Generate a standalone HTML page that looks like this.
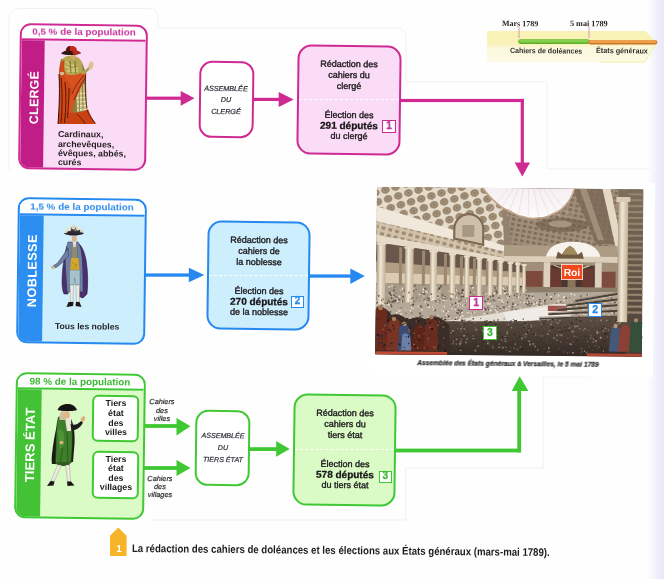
<!DOCTYPE html>
<html><head><meta charset="utf-8">
<style>
*{margin:0;padding:0;box-sizing:border-box}
html,body{width:664px;height:579px;overflow:hidden;background:#fefefe}
body{position:relative;font-family:"Liberation Sans",sans-serif;color:#262324}
.a{position:absolute}
#w{position:absolute;left:0;top:0;width:664px;height:579px;filter:blur(0.35px)}
</style></head><body><div id="w">
<div class="a" style="left:648px;top:0;width:16px;height:579px;background:linear-gradient(90deg,rgba(236,236,248,0),#eeeef9 60%,#e9e9f7)"></div>
<svg class="a" style="left:0;top:0" width="664" height="579"><g fill="none" stroke="#f0f0f6" stroke-width="1">
<path d="M9,170 L9,18 Q9,8.5 19,8.5 L148,8.5 Q158,8.5 158,18 L158,28"/>
<path d="M158,28 L396,28 Q406,28 406,38 L406,81.7 L547,81.7 L547,169 L650,169"/>
<path d="M543,376 L543,468 L405.7,468 L405.7,520 L150,520"/>
<path d="M543,377 L653,376.5 L653,181"/>
</g></svg>
<svg class="a" style="left:0;top:0" width="664" height="70">
  <defs><linearGradient id="yb" x1="0" y1="0" x2="0" y2="1"><stop offset="0" stop-color="#f9f2b4"/><stop offset=".4" stop-color="#f9f2b8"/><stop offset=".55" stop-color="#fbf8dc"/><stop offset="1" stop-color="#fcfae6"/></linearGradient></defs>
  <polygon points="487,31 645.5,31 656.5,42.5 645,62 487,62" fill="url(#yb)"/>
  <polyline points="656.5,42.5 645,62 600,62" fill="none" stroke="#eef0a0" stroke-width="1"/>
  <line x1="520.5" y1="41.6" x2="587.5" y2="41.6" stroke="#5fae2e" stroke-width="4.6" stroke-linecap="round"/>
  <line x1="520.5" y1="41" x2="587.5" y2="41" stroke="#86d04c" stroke-width="3" stroke-linecap="round"/>
  <line x1="590.5" y1="42.2" x2="655" y2="42.2" stroke="#c8782a" stroke-width="4.6" stroke-linecap="round"/>
  <line x1="590.5" y1="41.6" x2="655" y2="41.6" stroke="#eca04c" stroke-width="3" stroke-linecap="round"/>
  <line x1="519" y1="27" x2="519" y2="38" stroke="#cf8fb4" stroke-width="0.9"/>
  <line x1="589" y1="27" x2="589" y2="38" stroke="#cf8fb4" stroke-width="0.9"/>
</svg>
<div class="a" style="top:19.90px;font-size:8px;line-height:8px;font-weight:bold;font-style:normal;color:#2a2420;font-family:'Liberation Serif',serif;white-space:nowrap;left:501.60px;transform:rotate(0.55deg);transform-origin:0 0;">Mars 1789</div>
<div class="a" style="top:19.73px;font-size:8.2px;line-height:8.2px;font-weight:bold;font-style:normal;color:#2a2420;font-family:'Liberation Serif',serif;white-space:nowrap;left:570.00px;transform:rotate(0.55deg);transform-origin:0 0;">5 mai 1789</div>
<div class="a" style="top:47.27px;font-size:7.6px;line-height:7.6px;font-weight:bold;font-style:normal;color:#333030;font-family:'Liberation Sans',sans-serif;white-space:nowrap;left:510.00px;transform:rotate(0.55deg) scaleX(0.926);transform-origin:0 0;">Cahiers de doléances</div>
<div class="a" style="top:47.27px;font-size:7.6px;line-height:7.6px;font-weight:bold;font-style:normal;color:#333030;font-family:'Liberation Sans',sans-serif;white-space:nowrap;left:596.30px;transform:rotate(0.55deg) scaleX(0.954);transform-origin:0 0;">États généraux</div>
<svg class="a" style="left:0;top:0" width="664" height="579">
  <g fill="#cf2a92">
    <rect x="146" y="96.6" width="36" height="3.2"/>
    <polygon points="180.7,91 194.5,98.2 180.7,105.8"/>
    <rect x="252" y="97.8" width="28" height="3.2"/>
    <polygon points="278.7,92 293.7,99.4 278.7,107"/>
    <rect x="399" y="98.9" width="125" height="3.2"/>
    <rect x="520.7" y="98.9" width="3.2" height="65"/>
    <polygon points="514.7,162.4 530,162.4 522.3,176.5"/>
  </g>
  <g fill="#2689f0">
    <rect x="144" y="273.4" width="46" height="3.3"/>
    <polygon points="188.8,267.8 204.3,275 188.8,282.3"/>
    <rect x="308" y="274.4" width="43" height="3.3"/>
    <polygon points="350.3,268.5 364.8,276 350.3,284"/>
  </g>
  <g fill="#40c834">
    <rect x="137" y="424.1" width="41" height="3.8"/>
    <polygon points="176.5,418 190.5,426.2 176.5,435.4"/>
    <rect x="137" y="466.1" width="41" height="3.8"/>
    <polygon points="176.5,460 190.5,468 176.5,476"/>
    <rect x="248" y="447.2" width="29" height="3.8"/>
    <polygon points="276.2,441 289.7,449 276.2,456.7"/>
    <rect x="394" y="448.6" width="127" height="3.8"/>
    <rect x="517.3" y="389" width="3.8" height="63.4"/>
    <polygon points="511.7,391 528.4,391 519.6,376.3"/>
  </g>
</svg>
<div class="a" style="left:19.4px;top:24px;width:128px;height:146px;border:2px solid #cf2a92;border-radius:11px;overflow:hidden;background:#fbdcf7;transform:rotate(0.75deg)">
 <div class="a" style="left:0;top:0;width:124px;height:15px;background:#fff;border-bottom:2px solid #cf2a92"></div>
 <div class="a" style="left:0;top:15px;width:23px;height:129px;background:#c01e86"></div>
</div>
<div class="a" style="top:27.22px;font-size:9.9px;line-height:9.9px;font-weight:bold;font-style:normal;color:#c8309c;font-family:'Liberation Sans',sans-serif;white-space:nowrap;left:-66.20px;width:300px;text-align:center;transform:rotate(0.55deg);transform-origin:150px 0;">0,5 % de la population</div>
<div class="a" style="left:27.90px;top:124.40px;font-size:12.4px;line-height:12.4px;font-weight:bold;color:#fff;white-space:nowrap;transform:rotate(-89.25deg);transform-origin:0 0;letter-spacing:0.25px;">CLERGÉ</div>
<svg class="a" style="left:55px;top:44px" width="46" height="85" viewBox="0 0 46 85">
 <!-- base robe silhouette (lace colored) -->
 <path d="M6,15 C4,22 4,32 4.5,44 C4.5,56 4,68 3,80 L41,80 C38,76 34,71 32,64 C31,52 31.5,40 30.5,30 C29.5,23 27,17 23,14 Z" fill="#8a7c40"/>
 <!-- lace highlights right side lower -->
 <path d="M21,42 L30,40 C30.5,50 31,58 31.5,66 L22,68 Z" fill="#c8bc7a"/>
 <path d="M21.5,50 L30.5,49 M21.5,54 L31,53.5 M22,58 L31,57.5 M22,62 L31.3,61.5 M22,66 L31.5,65.5" stroke="#f4eed0" stroke-width="1.2"/>
 <path d="M24,42 L24.5,67 M27.5,41 L28,66" stroke="#5a5020" stroke-width="0.6"/>
 <!-- upper body olive lace -->
 <path d="M7,16 C9,12 14,11 18,12 C22,12 25,14 26.5,18 C28,22 28,26 27,30 C21,32 12,32 7,30 C5,25 5,20 7,16 Z" fill="#b4a852"/>
 <path d="M11,17 C13,20 16,22 19,21 M10,22 C14,25 19,26 23,24 M12,27 L23,27" stroke="#e8de9c" stroke-width="1" fill="none"/>
 <path d="M15,17 L16,29 M20,17 L20.5,29" stroke="#5a5020" stroke-width="0.7" fill="none"/>
 <!-- red cape left side from shoulder down -->
 <path d="M7,17 C4,21 3.5,30 4.5,42 C4.5,56 4,68 3,80 L14,80 C15,70 16,60 17,50 C18,42 14,34 10,28 C9,24 9,20 9.5,16 Z" fill="#d04818"/>
 <!-- red sash crossing from right hip down-left -->
 <path d="M9,30 C15,32 22,31 28,28 C31,27 32,29 31,32 C28,40 24,48 20,56 C18,62 17,68 16,74 L12,74 C13,64 15,54 17,46 C15,40 12,35 9,32 Z" fill="#d85220"/>
 <!-- bottom hem -->
 <path d="M3,70 C10,68 20,69 26,68 C30,67 32,66 33,65 C35,71 38,76 41,80 L3,80 Z" fill="#c94214"/>
 <!-- dark folds -->
 <path d="M6,34 C7.5,48 7.5,62 6,79 M10,38 C11.5,52 11,64 9.5,79 M14,44 C14,56 13,66 12.5,74" stroke="#5a1808" stroke-width="1" fill="none"/>
 <path d="M17,50 C19,44 23,38 29,31 M19,56 C22,48 26,40 31,33" stroke="#6a1e0a" stroke-width="0.8" fill="none"/>
 <path d="M22,70 C25,73 28,76 30,80 M32,66 C34,71 37,75 40,79" stroke="#5a1808" stroke-width="0.9" fill="none"/>
 <path d="M4,30 C5,50 4,66 3,80" stroke="#3a1206" stroke-width="1" fill="none"/>
 <path d="M30.5,31 C30,44 30.5,56 32,64" stroke="#3a1206" stroke-width="0.8" fill="none"/>
 <!-- left hand -->
 <ellipse cx="7" cy="29.5" rx="2.3" ry="1.8" fill="#d8be8e"/>
 <!-- raised arm & hand -->
 <path d="M26,27 C29.5,27 32,25 34,22 L36,23 C34,27 30.5,30 27,30.5 Z" fill="#aea256"/>
 <path d="M33.5,24 C33.5,21 34,19 35,18 C36,17 36.8,17.6 36.8,19 L37.8,17.5 C38.8,17.5 38.8,19 38.2,21 C38,24 37,25.5 35,25.5 Z" fill="#e0c08e"/>
 <!-- face -->
 <ellipse cx="18.3" cy="12" rx="2.6" ry="3" fill="#d8a878"/>
 <!-- hat -->
 <path d="M6,9.5 C8,7 12,6 16,6 C21,6 24,7 26,9 C24,10.5 20,11 16,11 C12,11 8,10.8 6,9.5 Z" fill="#2e1812"/>
 <path d="M17,6 C20,6 24,7 26,9 C24,10 21,10.5 18,10.5 Z" fill="#b8281e"/>
 <path d="M11,7 C11,3.5 13,2 16.5,2 C20,2 22,3.5 22,7 Z" fill="#c22a20"/>
 <path d="M11,7 C11,3.5 13,2 15,2 L15,7 Z" fill="#5a1a14"/>
</svg>

<div class="a" style="top:129.75px;font-size:8.8px;line-height:8.8px;font-weight:bold;font-style:normal;color:#231f22;font-family:'Liberation Sans',sans-serif;white-space:nowrap;left:57.60px;transform:rotate(0.55deg);transform-origin:0 0;">Cardinaux,</div>
<div class="a" style="top:139.55px;font-size:8.8px;line-height:8.8px;font-weight:bold;font-style:normal;color:#231f22;font-family:'Liberation Sans',sans-serif;white-space:nowrap;left:57.60px;transform:rotate(0.55deg);transform-origin:0 0;">archevêques,</div>
<div class="a" style="top:149.35px;font-size:8.8px;line-height:8.8px;font-weight:bold;font-style:normal;color:#231f22;font-family:'Liberation Sans',sans-serif;white-space:nowrap;left:57.60px;transform:rotate(0.55deg);transform-origin:0 0;">évêques, abbés,</div>
<div class="a" style="top:157.85px;font-size:8.8px;line-height:8.8px;font-weight:bold;font-style:normal;color:#231f22;font-family:'Liberation Sans',sans-serif;white-space:nowrap;left:57.60px;transform:rotate(0.55deg);transform-origin:0 0;">curés</div>
<div class="a" style="left:17.4px;top:197.8px;width:128.5px;height:146px;border:2px solid #2689f0;border-radius:11px;overflow:hidden;background:#cdeefd;transform:rotate(0.75deg)">
 <div class="a" style="left:0;top:0;width:125px;height:15.5px;background:#fff;border-bottom:2px solid #2689f0"></div>
 <div class="a" style="left:0;top:15.5px;width:24px;height:129px;background:#2d8ef2"></div>
</div>
<div class="a" style="top:201.82px;font-size:9.9px;line-height:9.9px;font-weight:bold;font-style:normal;color:#2c8aea;font-family:'Liberation Sans',sans-serif;white-space:nowrap;left:-67.70px;width:300px;text-align:center;transform:rotate(0.55deg);transform-origin:150px 0;">1,5 % de la population</div>
<div class="a" style="left:25.53px;top:306.80px;font-size:12.6px;line-height:12.6px;font-weight:bold;color:#fff;white-space:nowrap;transform:rotate(-89.25deg);transform-origin:0 0;letter-spacing:0.45px;">NOBLESSE</div>
<svg class="a" style="left:50px;top:224px" width="42" height="86" viewBox="0 0 42 86">
 <!-- cape (mostly right/back) -->
 <path d="M26,18 C31,20 34,26 36,36 C38,48 38,60 37,70 L33,74 L28,72 L27,40 Z" fill="#4b2f70" stroke="#231238" stroke-width="0.6"/>
 <path d="M17,22 C14,32 12,46 12,58 C12,64 13,68 14,70 L18,70 L18,40 Z" fill="#4b2f70" stroke="#231238" stroke-width="0.5"/>
 <!-- coat -->
 <path d="M18,18 C16,24 15,34 15.5,44 C16,52 16.5,60 17,68 L21,68 L22,48 L28,48 L30,68 L33,68 C33,58 33,48 32.5,40 C32,30 31,22 28,18 Z" fill="#7080a6" stroke="#2a3040" stroke-width="0.5"/>
 <path d="M22,22 L20.5,46 M27,22 L28.5,46" stroke="#4a5878" stroke-width="0.6"/>
 <!-- outstretched left arm -->
 <path d="M18,24 C14,30 10,36 7,39.5 L3.5,41.5 L5.5,44 C9.5,41.5 13.5,37.5 18.5,32 Z" fill="#6e80a4" stroke="#2a3040" stroke-width="0.5"/>
 <path d="M1.5,41.5 C0.5,43 1.5,45 3.5,45 L5.5,43.5 Z" fill="#d8a878"/>
 <!-- waistcoat (gray-green) & gold -->
 <path d="M21.5,22 L27,22 L27.5,36 L21.5,36 Z" fill="#8c8c72"/>
 <path d="M21,34 L28.5,34 L29.5,47 L20,47 Z" fill="#d4a62a"/>
 <path d="M22,38 L27,42 M23,44 L28,40" stroke="#a07818" stroke-width="0.6"/>
 <!-- breeches -->
 <path d="M19.5,46 L30,46 L30,61 L25.5,61 L24.7,54 L24,61 L19.5,61 Z" fill="#a8c2cc" stroke="#4a5a66" stroke-width="0.4"/>
 <!-- stockings -->
 <path d="M20,61 L23.5,61 L23,78 L20.5,78 Z" fill="#eeeae0" stroke="#6a6a60" stroke-width="0.3"/>
 <path d="M26,61 L29.8,61 L29.3,78 L26.5,78 Z" fill="#eeeae0" stroke="#6a6a60" stroke-width="0.3"/>
 <!-- shoes -->
 <path d="M18.5,78 L23.5,78 L23,82 L16.5,83 Z" fill="#1c1816"/>
 <path d="M26,78 L29.5,78 L31.5,83 L25.5,82 Z" fill="#1c1816"/>
 <!-- jabot / neck -->
 <path d="M22.5,17 L26.5,17 L25.5,23 L23.5,23 Z" fill="#e8e0c8"/>
 <!-- face -->
 <ellipse cx="24.3" cy="14.5" rx="2.5" ry="3.2" fill="#e0b488"/>
 <!-- hat w/ plumes -->
 <path d="M14,9.5 C16,7.5 20,7 24,7 C28,7 32,7.5 34,9.5 C31,11 27,11.5 24,11.5 C20,11.5 16,11 14,9.5 Z" fill="#2a2430"/>
 <path d="M17.5,8.5 C17.5,5 20,3 24,3 C28,3 30.5,5 30.5,8.5 Z" fill="#3a3440"/>
 <circle cx="19" cy="5" r="2.2" fill="#e8e4d0"/>
 <circle cx="23.5" cy="3.2" r="2.2" fill="#dcd6bc"/>
 <circle cx="28" cy="4.5" r="2" fill="#eae6d4"/>
 <circle cx="31.5" cy="7" r="1.6" fill="#d8d2b8"/>
 <circle cx="16" cy="7.5" r="1.5" fill="#e0dcc8"/>
 <circle cx="25.5" cy="6" r="1.1" fill="#a8a080"/>
</svg>

<div class="a" style="top:322.12px;font-size:8.6px;line-height:8.6px;font-weight:bold;font-style:normal;color:#231f22;font-family:'Liberation Sans',sans-serif;white-space:nowrap;left:55.30px;transform:rotate(0.55deg);transform-origin:0 0;">Tous les nobles</div>
<div class="a" style="left:15.3px;top:373.4px;width:129.5px;height:146.2px;border:2px solid #40c834;border-radius:11px;overflow:hidden;background:#dafbc6;transform:rotate(0.75deg)">
 <div class="a" style="left:0;top:0;width:126px;height:14.5px;background:#fff;border-bottom:2px solid #40c834"></div>
 <div class="a" style="left:0;top:14.5px;width:23.5px;height:130px;background:#44c236"></div>
</div>
<div class="a" style="top:377.32px;font-size:9.9px;line-height:9.9px;font-weight:bold;font-style:normal;color:#3db834;font-family:'Liberation Sans',sans-serif;white-space:nowrap;left:-70.20px;width:300px;text-align:center;transform:rotate(0.55deg);transform-origin:150px 0;">98 % de la population</div>
<div class="a" style="left:23.20px;top:482.20px;font-size:13px;line-height:13px;font-weight:bold;color:#fff;white-space:nowrap;transform:rotate(-89.25deg);transform-origin:0 0;letter-spacing:0.05px;">TIERS ÉTAT</div>
<svg class="a" style="left:46px;top:402px" width="42" height="86" viewBox="0 0 42 86">
 <!-- black coat back tail -->
 <path d="M12,20 C9,30 7,42 6,52 C5.5,57 5.5,60 6,62 L14,62 L14,36 Z" fill="#1c1a18"/>
 <path d="M25,17 C28,23 29,32 28.5,42 L27,60 L22,60 Z" fill="#1e1c1a"/>
 <!-- green coat -->
 <path d="M12.5,15 C10.5,22 10,32 10,42 C10,50 9,57 9.5,62 L25,61 C26,50 27,38 26,27 C25,20 23,16 20,14 Z" fill="#3f7e2a" stroke="#17300e" stroke-width="0.6"/>
 <path d="M12,28 C15,26 18,29 18,35 L17.5,46 L13.5,46 Z" fill="#55983a" opacity=".8"/>
 <path d="M17,44 C16,50 15,56 14,61 M21,30 L22,60" stroke="#24501a" stroke-width="0.7" fill="none"/>
 <!-- cravat/vest -->
 <path d="M19,15 L24.5,15 C25.5,20 25.5,25 25,29 L21,29 C20,24 19.5,19 19,15 Z" fill="#ece6d4"/>
 <!-- outstretched right arm -->
 <path d="M24.5,22 C28.5,23.5 32,22.5 35,19 L37,20.5 C35,25 31,28 25.5,28.5 Z" fill="#1e1c1a"/>
 <path d="M34.5,17.5 C35.5,14.5 37.5,13.5 39,14.5 C39.5,16.5 38.5,19.5 36.5,20.5 Z" fill="#e0b07a"/>
 <!-- hand left at side -->
 <ellipse cx="15.5" cy="40.5" rx="2" ry="1.7" fill="#dcb07c"/>
 <!-- breeches -->
 <path d="M11,60 L24,60 L23,64 L12,64 Z" fill="#2f5a1e"/>
 <!-- stockings -->
 <path d="M11.5,63 L15.5,63 L8,79.5 L5,79 Z" fill="#eeeae2" stroke="#6a6a60" stroke-width="0.3"/>
 <path d="M19.5,63 L23.5,63 L24.5,80 L21.5,80 Z" fill="#eeeae2" stroke="#6a6a60" stroke-width="0.3"/>
 <!-- shoes -->
 <path d="M4.5,79 L8.5,79.5 L7.5,83.5 L1,84 Z" fill="#1a1816"/>
 <path d="M21,79.5 L25,79.5 L28.5,83.5 L21.5,84 Z" fill="#1a1816"/>
 <!-- face & hair -->
 <path d="M16.5,9 C14,10 13,14 13.5,18 L20,18 L20,10 Z" fill="#cfc09a"/>
 <ellipse cx="21" cy="12.8" rx="2.8" ry="3.8" fill="#e2b688"/>
 <!-- tricorn -->
 <path d="M11.5,8 C13.5,3 18,1.8 23,2 C27,2.4 30,5 31,8.2 C26,9.2 16,9.6 11.5,8 Z" fill="#151312"/>
</svg>

<div class="a" style="left:91.8px;top:395.4px;width:47.39999999999999px;height:46.80000000000001px;border:2px solid #40c834;background:#fff;border-radius:6px;transform:rotate(0.75deg);"></div>
<div class="a" style="left:91.8px;top:451px;width:47.39999999999999px;height:47.5px;border:2px solid #40c834;background:#fff;border-radius:6px;transform:rotate(0.75deg);"></div>
<div class="a" style="top:399.45px;font-size:8.8px;line-height:8.8px;font-weight:bold;font-style:normal;color:#1f1c1d;font-family:'Liberation Sans',sans-serif;white-space:nowrap;left:-34.50px;width:300px;text-align:center;transform:rotate(0.55deg);transform-origin:150px 0;">Tiers</div>
<div class="a" style="top:409.05px;font-size:8.8px;line-height:8.8px;font-weight:bold;font-style:normal;color:#1f1c1d;font-family:'Liberation Sans',sans-serif;white-space:nowrap;left:-34.50px;width:300px;text-align:center;transform:rotate(0.55deg);transform-origin:150px 0;">état</div>
<div class="a" style="top:418.55px;font-size:8.8px;line-height:8.8px;font-weight:bold;font-style:normal;color:#1f1c1d;font-family:'Liberation Sans',sans-serif;white-space:nowrap;left:-34.50px;width:300px;text-align:center;transform:rotate(0.55deg);transform-origin:150px 0;">des</div>
<div class="a" style="top:427.95px;font-size:8.8px;line-height:8.8px;font-weight:bold;font-style:normal;color:#1f1c1d;font-family:'Liberation Sans',sans-serif;white-space:nowrap;left:-34.50px;width:300px;text-align:center;transform:rotate(0.55deg);transform-origin:150px 0;">villes</div>
<div class="a" style="top:454.75px;font-size:8.8px;line-height:8.8px;font-weight:bold;font-style:normal;color:#1f1c1d;font-family:'Liberation Sans',sans-serif;white-space:nowrap;left:-34.50px;width:300px;text-align:center;transform:rotate(0.55deg);transform-origin:150px 0;">Tiers</div>
<div class="a" style="top:464.25px;font-size:8.8px;line-height:8.8px;font-weight:bold;font-style:normal;color:#1f1c1d;font-family:'Liberation Sans',sans-serif;white-space:nowrap;left:-34.50px;width:300px;text-align:center;transform:rotate(0.55deg);transform-origin:150px 0;">état</div>
<div class="a" style="top:473.75px;font-size:8.8px;line-height:8.8px;font-weight:bold;font-style:normal;color:#1f1c1d;font-family:'Liberation Sans',sans-serif;white-space:nowrap;left:-34.50px;width:300px;text-align:center;transform:rotate(0.55deg);transform-origin:150px 0;">des</div>
<div class="a" style="top:483.25px;font-size:8.8px;line-height:8.8px;font-weight:bold;font-style:normal;color:#1f1c1d;font-family:'Liberation Sans',sans-serif;white-space:nowrap;left:-34.50px;width:300px;text-align:center;transform:rotate(0.55deg);transform-origin:150px 0;">villages</div>
<div class="a" style="top:398.22px;font-size:7.3px;line-height:7.3px;font-weight:normal;font-style:italic;color:#2e2c2e;font-family:'Liberation Sans',sans-serif;white-space:nowrap;left:11.50px;width:300px;text-align:center;transform:rotate(0.55deg);transform-origin:150px 0;-webkit-text-stroke:0.2px #2e2c2e;">Cahiers</div>
<div class="a" style="top:406.52px;font-size:7.3px;line-height:7.3px;font-weight:normal;font-style:italic;color:#2e2c2e;font-family:'Liberation Sans',sans-serif;white-space:nowrap;left:11.50px;width:300px;text-align:center;transform:rotate(0.55deg);transform-origin:150px 0;-webkit-text-stroke:0.2px #2e2c2e;">des</div>
<div class="a" style="top:414.82px;font-size:7.3px;line-height:7.3px;font-weight:normal;font-style:italic;color:#2e2c2e;font-family:'Liberation Sans',sans-serif;white-space:nowrap;left:11.50px;width:300px;text-align:center;transform:rotate(0.55deg);transform-origin:150px 0;-webkit-text-stroke:0.2px #2e2c2e;">villes</div>
<div class="a" style="top:474.52px;font-size:7.3px;line-height:7.3px;font-weight:normal;font-style:italic;color:#2e2c2e;font-family:'Liberation Sans',sans-serif;white-space:nowrap;left:10.40px;width:300px;text-align:center;transform:rotate(0.55deg);transform-origin:150px 0;-webkit-text-stroke:0.2px #2e2c2e;">Cahiers</div>
<div class="a" style="top:482.72px;font-size:7.3px;line-height:7.3px;font-weight:normal;font-style:italic;color:#2e2c2e;font-family:'Liberation Sans',sans-serif;white-space:nowrap;left:10.40px;width:300px;text-align:center;transform:rotate(0.55deg);transform-origin:150px 0;-webkit-text-stroke:0.2px #2e2c2e;">des</div>
<div class="a" style="top:490.82px;font-size:7.3px;line-height:7.3px;font-weight:normal;font-style:italic;color:#2e2c2e;font-family:'Liberation Sans',sans-serif;white-space:nowrap;left:10.40px;width:300px;text-align:center;transform:rotate(0.55deg);transform-origin:150px 0;-webkit-text-stroke:0.2px #2e2c2e;">villages</div>
<div class="a" style="left:198.7px;top:60.6px;width:55.0px;height:76.6px;border:2px solid #cf2a92;background:#fff;border-radius:13px;transform:rotate(0.75deg);"></div>
<div class="a" style="top:84.61px;font-size:7.2px;line-height:7.2px;font-weight:normal;font-style:italic;color:#2c2b38;font-family:'Liberation Sans',sans-serif;white-space:nowrap;left:76.30px;width:300px;text-align:center;transform:rotate(0.55deg);transform-origin:150px 0;-webkit-text-stroke:0.2px #2c2b38;">ASSEMBLÉE</div>
<div class="a" style="top:96.21px;font-size:7.2px;line-height:7.2px;font-weight:normal;font-style:italic;color:#2c2b38;font-family:'Liberation Sans',sans-serif;white-space:nowrap;left:76.30px;width:300px;text-align:center;transform:rotate(0.55deg);transform-origin:150px 0;-webkit-text-stroke:0.2px #2c2b38;">DU</div>
<div class="a" style="top:107.71px;font-size:7.2px;line-height:7.2px;font-weight:normal;font-style:italic;color:#2c2b38;font-family:'Liberation Sans',sans-serif;white-space:nowrap;left:76.30px;width:300px;text-align:center;transform:rotate(0.55deg);transform-origin:150px 0;-webkit-text-stroke:0.2px #2c2b38;">CLERGÉ</div>
<div class="a" style="left:194.8px;top:409.8px;width:55.0px;height:76.39999999999998px;border:2px solid #40c834;background:#fff;border-radius:13px;transform:rotate(0.75deg);"></div>
<div class="a" style="top:432.99px;font-size:7.1px;line-height:7.1px;font-weight:normal;font-style:italic;color:#2c2b38;font-family:'Liberation Sans',sans-serif;white-space:nowrap;left:72.50px;width:300px;text-align:center;transform:rotate(0.55deg);transform-origin:150px 0;-webkit-text-stroke:0.2px #2c2b38;">ASSEMBLÉE</div>
<div class="a" style="top:444.79px;font-size:7.1px;line-height:7.1px;font-weight:normal;font-style:italic;color:#2c2b38;font-family:'Liberation Sans',sans-serif;white-space:nowrap;left:72.50px;width:300px;text-align:center;transform:rotate(0.55deg);transform-origin:150px 0;-webkit-text-stroke:0.2px #2c2b38;">DU</div>
<div class="a" style="top:456.59px;font-size:7.1px;line-height:7.1px;font-weight:normal;font-style:italic;color:#2c2b38;font-family:'Liberation Sans',sans-serif;white-space:nowrap;left:72.50px;width:300px;text-align:center;transform:rotate(0.55deg);transform-origin:150px 0;-webkit-text-stroke:0.2px #2c2b38;">TIERS ÉTAT</div>
<div class="a" style="left:297px;top:44.8px;width:103.60000000000002px;height:110.39999999999999px;border:2px solid #cf2a92;background:#fbdcf7;border-radius:14px;transform:rotate(0.75deg);"></div>
<div class="a" style="left:299px;top:99.4px;width:99.60000000000002px;height:0;border-top:1.8px dashed rgba(255,255,255,.92)"></div>
<div class="a" style="top:59.68px;font-size:9px;line-height:9px;font-weight:normal;font-style:normal;color:#1c191b;font-family:'Liberation Sans',sans-serif;white-space:nowrap;left:198.80px;width:300px;text-align:center;transform:rotate(0.55deg);transform-origin:150px 0;-webkit-text-stroke:0.35px #1c191b;">Rédaction des</div>
<div class="a" style="top:70.78px;font-size:9px;line-height:9px;font-weight:normal;font-style:normal;color:#1c191b;font-family:'Liberation Sans',sans-serif;white-space:nowrap;left:198.80px;width:300px;text-align:center;transform:rotate(0.55deg);transform-origin:150px 0;-webkit-text-stroke:0.35px #1c191b;">cahiers du</div>
<div class="a" style="top:81.78px;font-size:9px;line-height:9px;font-weight:normal;font-style:normal;color:#1c191b;font-family:'Liberation Sans',sans-serif;white-space:nowrap;left:198.80px;width:300px;text-align:center;transform:rotate(0.55deg);transform-origin:150px 0;-webkit-text-stroke:0.35px #1c191b;">clergé</div>
<div class="a" style="top:110.78px;font-size:9px;line-height:9px;font-weight:normal;font-style:normal;color:#1c191b;font-family:'Liberation Sans',sans-serif;white-space:nowrap;left:198.80px;width:300px;text-align:center;transform:rotate(0.55deg);transform-origin:150px 0;-webkit-text-stroke:0.35px #1c191b;">Élection des</div>
<div class="a" style="top:120.94px;font-size:10px;line-height:10px;font-weight:bold;font-style:normal;color:#1a1718;font-family:'Liberation Sans',sans-serif;white-space:nowrap;left:198.80px;width:300px;text-align:center;transform:rotate(0.55deg);transform-origin:150px 0;-webkit-text-stroke:0.3px #1a1718;">291 députés</div>
<div class="a" style="top:132.18px;font-size:9px;line-height:9px;font-weight:normal;font-style:normal;color:#1c191b;font-family:'Liberation Sans',sans-serif;white-space:nowrap;left:198.80px;width:300px;text-align:center;transform:rotate(0.55deg);transform-origin:150px 0;-webkit-text-stroke:0.35px #1c191b;">du clergé</div>
<div class="a" style="left:382.3px;top:119.6px;width:13.300000000000011px;height:13.400000000000006px;border:1.6px solid #cf2a92;background:#fff;color:#c8309c;font-weight:bold;font-size:10px;line-height:10.200000000000006px;text-align:center;-webkit-text-stroke:0.3px #c8309c">1</div>
<div class="a" style="left:206.8px;top:220.8px;width:103.39999999999998px;height:109.39999999999998px;border:2px solid #2689f0;background:#cdeefd;border-radius:14px;transform:rotate(0.75deg);"></div>
<div class="a" style="left:208.8px;top:275.4px;width:99.39999999999998px;height:0;border-top:1.8px dashed rgba(255,255,255,.92)"></div>
<div class="a" style="top:235.68px;font-size:9px;line-height:9px;font-weight:normal;font-style:normal;color:#1c191b;font-family:'Liberation Sans',sans-serif;white-space:nowrap;left:108.50px;width:300px;text-align:center;transform:rotate(0.55deg);transform-origin:150px 0;-webkit-text-stroke:0.35px #1c191b;">Rédaction des</div>
<div class="a" style="top:246.78px;font-size:9px;line-height:9px;font-weight:normal;font-style:normal;color:#1c191b;font-family:'Liberation Sans',sans-serif;white-space:nowrap;left:108.50px;width:300px;text-align:center;transform:rotate(0.55deg);transform-origin:150px 0;-webkit-text-stroke:0.35px #1c191b;">cahiers de</div>
<div class="a" style="top:257.78px;font-size:9px;line-height:9px;font-weight:normal;font-style:normal;color:#1c191b;font-family:'Liberation Sans',sans-serif;white-space:nowrap;left:108.50px;width:300px;text-align:center;transform:rotate(0.55deg);transform-origin:150px 0;-webkit-text-stroke:0.35px #1c191b;">la noblesse</div>
<div class="a" style="top:286.78px;font-size:9px;line-height:9px;font-weight:normal;font-style:normal;color:#1c191b;font-family:'Liberation Sans',sans-serif;white-space:nowrap;left:108.50px;width:300px;text-align:center;transform:rotate(0.55deg);transform-origin:150px 0;-webkit-text-stroke:0.35px #1c191b;">Élection des</div>
<div class="a" style="top:296.94px;font-size:10px;line-height:10px;font-weight:bold;font-style:normal;color:#1a1718;font-family:'Liberation Sans',sans-serif;white-space:nowrap;left:108.50px;width:300px;text-align:center;transform:rotate(0.55deg);transform-origin:150px 0;-webkit-text-stroke:0.3px #1a1718;">270 députés</div>
<div class="a" style="top:308.18px;font-size:9px;line-height:9px;font-weight:normal;font-style:normal;color:#1c191b;font-family:'Liberation Sans',sans-serif;white-space:nowrap;left:108.50px;width:300px;text-align:center;transform:rotate(0.55deg);transform-origin:150px 0;-webkit-text-stroke:0.35px #1c191b;">de la noblesse</div>
<div class="a" style="left:291.3px;top:296.2px;width:12.699999999999989px;height:11.400000000000034px;border:1.6px solid #2689f0;background:#fff;color:#2c8aea;font-weight:bold;font-size:10px;line-height:8.200000000000035px;text-align:center;-webkit-text-stroke:0.3px #2c8aea">2</div>
<div class="a" style="left:293px;top:393.9px;width:103.19999999999999px;height:111.70000000000005px;border:2px solid #40c834;background:#dafbc6;border-radius:14px;transform:rotate(0.75deg);"></div>
<div class="a" style="left:295px;top:448.5px;width:99.19999999999999px;height:0;border-top:1.8px dashed rgba(255,255,255,.92)"></div>
<div class="a" style="top:408.78px;font-size:9px;line-height:9px;font-weight:normal;font-style:normal;color:#1c191b;font-family:'Liberation Sans',sans-serif;white-space:nowrap;left:194.60px;width:300px;text-align:center;transform:rotate(0.55deg);transform-origin:150px 0;-webkit-text-stroke:0.35px #1c191b;">Rédaction des</div>
<div class="a" style="top:419.88px;font-size:9px;line-height:9px;font-weight:normal;font-style:normal;color:#1c191b;font-family:'Liberation Sans',sans-serif;white-space:nowrap;left:194.60px;width:300px;text-align:center;transform:rotate(0.55deg);transform-origin:150px 0;-webkit-text-stroke:0.35px #1c191b;">cahiers du</div>
<div class="a" style="top:430.88px;font-size:9px;line-height:9px;font-weight:normal;font-style:normal;color:#1c191b;font-family:'Liberation Sans',sans-serif;white-space:nowrap;left:194.60px;width:300px;text-align:center;transform:rotate(0.55deg);transform-origin:150px 0;-webkit-text-stroke:0.35px #1c191b;">tiers état</div>
<div class="a" style="top:459.88px;font-size:9px;line-height:9px;font-weight:normal;font-style:normal;color:#1c191b;font-family:'Liberation Sans',sans-serif;white-space:nowrap;left:194.60px;width:300px;text-align:center;transform:rotate(0.55deg);transform-origin:150px 0;-webkit-text-stroke:0.35px #1c191b;">Élection des</div>
<div class="a" style="top:470.03px;font-size:10px;line-height:10px;font-weight:bold;font-style:normal;color:#1a1718;font-family:'Liberation Sans',sans-serif;white-space:nowrap;left:194.60px;width:300px;text-align:center;transform:rotate(0.55deg);transform-origin:150px 0;-webkit-text-stroke:0.3px #1a1718;">578 députés</div>
<div class="a" style="top:481.28px;font-size:9px;line-height:9px;font-weight:normal;font-style:normal;color:#1c191b;font-family:'Liberation Sans',sans-serif;white-space:nowrap;left:194.60px;width:300px;text-align:center;transform:rotate(0.55deg);transform-origin:150px 0;-webkit-text-stroke:0.35px #1c191b;">du tiers état</div>
<div class="a" style="left:379.1px;top:471.3px;width:12.5px;height:11.899999999999977px;border:1.6px solid #40c834;background:#fff;color:#3db834;font-weight:bold;font-size:10px;line-height:8.699999999999978px;text-align:center;-webkit-text-stroke:0.3px #3db834">3</div>
<div class="a" style="left:370px;top:181px;width:284px;height:195px;background:#fff;transform:rotate(0.58deg)"></div>
<div class="a" style="left:375.9px;top:188.45px;width:266.6px;height:167.5px;overflow:hidden;transform:rotate(0.58deg)"><svg width="266.6" height="167.5" preserveAspectRatio="none" viewBox="0 0 267 170" style="display:block">
<defs>
<pattern id="cof" width="10.6" height="9.4" patternUnits="userSpaceOnUse" patternTransform="rotate(-17) translate(2,1)"><rect width="10.6" height="9.4" fill="#e6dccb"/><ellipse cx="5.3" cy="4.7" rx="4.2" ry="3.7" fill="#8a765e"/><ellipse cx="5.3" cy="4.7" rx="2.9" ry="2.5" fill="#a8957c"/><ellipse cx="5.3" cy="4.7" rx="1.4" ry="1.2" fill="#8e7a64"/></pattern>
<pattern id="cof2" width="6" height="5" patternUnits="userSpaceOnUse" patternTransform="rotate(10)"><rect width="6" height="5" fill="#ab9a82"/><rect x="1" y="1" width="3.6" height="2.8" fill="#6e5d4a"/></pattern>
<pattern id="frz" width="7" height="6" patternUnits="userSpaceOnUse" patternTransform="rotate(14)"><rect width="7" height="6" fill="#d2c3aa"/><rect x="1" y="1.5" width="4" height="3" fill="#9c8870"/></pattern>
<linearGradient id="sky" x1="0" y1="0" x2="0" y2="1"><stop offset="0" stop-color="#f6eef3"/><stop offset="1" stop-color="#fdfbfa"/></linearGradient>
<linearGradient id="col" x1="0" y1="0" x2="1" y2="0"><stop offset="0" stop-color="#b4a286"/><stop offset=".4" stop-color="#f1e8d8"/><stop offset="1" stop-color="#c2b094"/></linearGradient>
<linearGradient id="dark" x1="0" y1="0" x2="0" y2="1"><stop offset="0" stop-color="#5e5044"/><stop offset="1" stop-color="#342a25"/></linearGradient>
<linearGradient id="rw" x1="0" y1="0" x2="0" y2="1"><stop offset="0" stop-color="#7c6c5a"/><stop offset="1" stop-color="#4a3e34"/></linearGradient>
</defs>
<rect width="266.6" height="167.5" preserveAspectRatio="none" fill="#7d6d5c"/>
<polygon points="0,0 128,0 150,40 170,66 0,66" fill="url(#cof)"/>
<polygon points="125,0 242,0 242,60 128,60" fill="#948270"/>
<polygon points="128,0 242,0 242,58 136,58" fill="url(#cof2)" opacity=".55"/>
<ellipse cx="186" cy="37" rx="26" ry="7" fill="#6e5c48" opacity=".6"/>
<ellipse cx="184" cy="36" rx="12" ry="3.5" fill="#b0a088" opacity=".8"/>
<polygon points="196,0 228,0 238,56 220,56" fill="#7a6856" opacity=".8"/>
<polygon points="203,0 210,0 228,52 222,52" fill="#a89680" opacity=".8"/>
<polygon points="226,0 234,0 248,64 241,64" fill="#e4d9c3"/>
<path d="M106,0 L198,0 Q194,18 175,27 Q160,33 145,29 Q122,22 106,0 Z" fill="url(#sky)"/>
<path d="M106,0 Q113,10 122,17 Q128,22 133,23 Q140,28 147,29 Q155,32 163,30 Q170,30 176,26 Q183,24 188,18 Q195,11 198,0" fill="none" stroke="#c2a486" stroke-width="1.6"/>
<line x1="152" y1="-25" x2="110.0" y2="28" stroke="#e2c8d6" stroke-width=".45"/>
<line x1="152" y1="-25" x2="120.5" y2="28" stroke="#e2c8d6" stroke-width=".45"/>
<line x1="152" y1="-25" x2="131.0" y2="28" stroke="#e2c8d6" stroke-width=".45"/>
<line x1="152" y1="-25" x2="141.5" y2="28" stroke="#e2c8d6" stroke-width=".45"/>
<line x1="152" y1="-25" x2="152.0" y2="28" stroke="#e2c8d6" stroke-width=".45"/>
<line x1="152" y1="-25" x2="162.5" y2="28" stroke="#e2c8d6" stroke-width=".45"/>
<line x1="152" y1="-25" x2="173.0" y2="28" stroke="#e2c8d6" stroke-width=".45"/>
<line x1="152" y1="-25" x2="183.5" y2="28" stroke="#e2c8d6" stroke-width=".45"/>
<line x1="152" y1="-25" x2="194.0" y2="28" stroke="#e2c8d6" stroke-width=".45"/>
<polygon points="0,20 150,65 150,69.5 0,35" fill="#f0e8da"/>
<polygon points="0,35 150,69.5 150,74.5 0,49" fill="url(#frz)"/>
<polygon points="0,49 150,74.5 150,78 0,56.5" fill="#e6dbc8"/>
<path d="M78,52 L78,42 A14.5,15 0 0 1 107,42 L107,58 Z" fill="#cdbfa8" stroke="#7e6a54" stroke-width="2.2"/>
<rect x="86" y="38" width="12" height="12" fill="#8a7864" opacity=".55"/>
<rect x="128" y="58" width="114" height="12" fill="#ad9c84"/>
<path d="M170,70 Q173,54 197,54 Q221,54 225,70 Z" fill="#f7f2ec"/>
<rect x="128" y="69" width="114" height="6" fill="#dccfba"/>
<rect x="128" y="75" width="114" height="32" fill="#a08e78"/>
<rect x="149" y="84" width="18" height="20" fill="#7e4a3e"/>
<rect x="226" y="84" width="14" height="21" fill="#7c4c40"/>
<rect x="173" y="78" width="46" height="22" fill="#4a3630"/>
<path d="M174,79 Q180,84 186,80 L186,100 L174,100 Z" fill="#6a3a30"/>
<path d="M218,79 Q212,84 206,80 L206,100 L218,100 Z" fill="#6a3a30"/>
<rect x="192" y="88" width="8" height="12" fill="#8a7458"/>
<path d="M180,71 L182,64 L186,67 L190,61 L194,58 L198,61 L202,67 L206,64 L208,71 Z" fill="#6e5a40"/>
<path d="M186,67 L190,61 L194,58 L198,61 L202,67 Z" fill="#a08a5e"/>
<path d="M178,78 Q196,86 214,78" stroke="#c4b49a" stroke-width="1.2" fill="none"/>
<rect x="129" y="75" width="3.5" height="30" fill="#ddd1bd"/>
<rect x="134.5" y="75" width="3.5" height="30" fill="#ddd1bd"/>
<rect x="140" y="75" width="3.5" height="30" fill="#ddd1bd"/>
<rect x="168" y="75" width="3.5" height="30" fill="#ddd1bd"/>
<rect x="171" y="75" width="3.5" height="30" fill="#ddd1bd"/>
<rect x="219.5" y="75" width="3.5" height="30" fill="#ddd1bd"/>
<rect x="222.5" y="75" width="3.5" height="30" fill="#ddd1bd"/>
<rect x="128" y="100" width="114" height="8" fill="#8c7c6a"/>
<polygon points="0,56.5 150,77.5 150,86 0,76" fill="#68574a"/>
<polygon points="0,76 150,86 150,91 0,87" fill="#b09d82"/>
<polygon points="0,87 150,91 150,99 0,98" fill="#dccbb2"/>
<polygon points="0,98 150,99 150,112 0,122" fill="#a89a88"/>
<rect x="67.9" y="110.8" width="1.9" height="1.5" fill="#ece4d8"/>
<rect x="128.3" y="103.0" width="1.8" height="1.5" fill="#ece4d8"/>
<rect x="118.9" y="101.0" width="1.4" height="1.2" fill="#4a3e34"/>
<rect x="95.2" y="111.5" width="1.5" height="1.5" fill="#4a3e34"/>
<rect x="92.3" y="102.3" width="1.1" height="1.6" fill="#d8ccb8"/>
<rect x="5.3" y="117.5" width="1.6" height="1.8" fill="#c8baa6"/>
<rect x="66.1" y="116.7" width="1.6" height="1.7" fill="#83725f"/>
<rect x="0.7" y="100.8" width="1.7" height="1.5" fill="#ece4d8"/>
<rect x="149.4" y="116.6" width="1.7" height="1.4" fill="#5a4c40"/>
<rect x="76.9" y="99.6" width="1.6" height="1.2" fill="#d8ccb8"/>
<rect x="127.0" y="107.1" width="2.0" height="1.9" fill="#d8ccb8"/>
<rect x="32.0" y="118.5" width="1.1" height="1.4" fill="#4a3e34"/>
<rect x="59.6" y="100.5" width="1.7" height="1.8" fill="#c8baa6"/>
<rect x="50.5" y="105.5" width="1.1" height="1.5" fill="#d8ccb8"/>
<rect x="20.2" y="113.8" width="1.1" height="1.5" fill="#83725f"/>
<rect x="26.7" y="110.7" width="1.5" height="1.3" fill="#4a3e34"/>
<rect x="115.4" y="107.8" width="1.4" height="1.5" fill="#5a4c40"/>
<rect x="0.1" y="117.2" width="2.0" height="1.6" fill="#d8ccb8"/>
<rect x="31.6" y="107.3" width="1.9" height="1.7" fill="#d8ccb8"/>
<rect x="6.3" y="102.1" width="1.5" height="1.1" fill="#ece4d8"/>
<rect x="49.3" y="105.2" width="1.2" height="1.2" fill="#ece4d8"/>
<rect x="95.5" y="99.3" width="1.4" height="1.7" fill="#5a4c40"/>
<rect x="143.9" y="109.2" width="1.6" height="1.9" fill="#5a4c40"/>
<rect x="94.1" y="105.5" width="1.3" height="1.6" fill="#4a3e34"/>
<rect x="28.5" y="114.5" width="1.9" height="1.3" fill="#83725f"/>
<rect x="132.3" y="111.7" width="1.5" height="1.2" fill="#d8ccb8"/>
<rect x="76.9" y="104.4" width="1.8" height="1.5" fill="#83725f"/>
<rect x="123.6" y="111.5" width="1.4" height="1.3" fill="#4a3e34"/>
<rect x="146.6" y="101.7" width="1.5" height="1.7" fill="#ece4d8"/>
<rect x="92.1" y="104.9" width="1.9" height="1.3" fill="#d8ccb8"/>
<rect x="10.4" y="107.6" width="1.3" height="1.1" fill="#c8baa6"/>
<rect x="55.3" y="111.0" width="1.2" height="1.4" fill="#83725f"/>
<rect x="147.1" y="112.8" width="1.7" height="1.6" fill="#5a4c40"/>
<rect x="88.5" y="118.4" width="1.5" height="1.4" fill="#c8baa6"/>
<rect x="144.4" y="99.4" width="1.7" height="1.5" fill="#4a3e34"/>
<rect x="46.7" y="101.9" width="1.2" height="1.5" fill="#c8baa6"/>
<rect x="110.6" y="117.9" width="1.8" height="1.7" fill="#c8baa6"/>
<rect x="52.8" y="113.4" width="1.9" height="1.9" fill="#83725f"/>
<rect x="141.6" y="99.6" width="1.5" height="1.1" fill="#4a3e34"/>
<rect x="57.4" y="111.2" width="1.6" height="1.2" fill="#4a3e34"/>
<rect x="17.3" y="104.4" width="1.5" height="1.4" fill="#4a3e34"/>
<rect x="104.1" y="108.6" width="1.5" height="1.6" fill="#ece4d8"/>
<rect x="112.5" y="99.6" width="1.6" height="1.5" fill="#5a4c40"/>
<rect x="143.6" y="101.4" width="1.8" height="1.7" fill="#83725f"/>
<rect x="38.4" y="99.2" width="1.4" height="1.7" fill="#5a4c40"/>
<rect x="77.8" y="114.8" width="1.4" height="1.9" fill="#83725f"/>
<rect x="133.8" y="105.9" width="1.7" height="1.3" fill="#83725f"/>
<rect x="120.6" y="114.8" width="1.3" height="1.3" fill="#5a4c40"/>
<rect x="87.5" y="105.6" width="1.2" height="1.5" fill="#d8ccb8"/>
<rect x="106.7" y="119.0" width="1.3" height="1.3" fill="#83725f"/>
<rect x="70.7" y="118.4" width="1.8" height="1.4" fill="#ece4d8"/>
<rect x="74.1" y="105.6" width="1.9" height="2.0" fill="#83725f"/>
<rect x="48.1" y="116.4" width="1.4" height="1.6" fill="#4a3e34"/>
<rect x="106.3" y="111.0" width="1.4" height="1.8" fill="#d8ccb8"/>
<rect x="96.1" y="107.5" width="1.3" height="1.8" fill="#c8baa6"/>
<rect x="35.6" y="102.0" width="1.1" height="1.7" fill="#83725f"/>
<rect x="16.4" y="110.2" width="1.7" height="1.4" fill="#d8ccb8"/>
<rect x="102.7" y="103.2" width="1.5" height="1.3" fill="#d8ccb8"/>
<rect x="113.3" y="110.2" width="1.1" height="1.3" fill="#c8baa6"/>
<rect x="81.0" y="118.9" width="1.6" height="2.0" fill="#5a4c40"/>
<rect x="59.0" y="115.6" width="1.9" height="1.2" fill="#4a3e34"/>
<rect x="58.2" y="108.5" width="1.3" height="1.9" fill="#d8ccb8"/>
<rect x="56.5" y="110.9" width="1.9" height="1.8" fill="#c8baa6"/>
<rect x="69.6" y="112.7" width="1.3" height="1.7" fill="#4a3e34"/>
<rect x="138.6" y="101.6" width="1.3" height="1.5" fill="#d8ccb8"/>
<rect x="146.6" y="110.3" width="1.8" height="1.4" fill="#4a3e34"/>
<rect x="128.4" y="106.3" width="1.2" height="1.5" fill="#ece4d8"/>
<rect x="63.2" y="104.8" width="1.9" height="1.3" fill="#d8ccb8"/>
<rect x="64.3" y="99.7" width="1.6" height="1.7" fill="#5a4c40"/>
<rect x="70.6" y="120.0" width="1.9" height="1.6" fill="#4a3e34"/>
<rect x="103.4" y="118.9" width="1.5" height="2.0" fill="#d8ccb8"/>
<rect x="113.7" y="108.2" width="1.6" height="1.8" fill="#ece4d8"/>
<rect x="95.8" y="110.0" width="1.9" height="1.6" fill="#c8baa6"/>
<rect x="100.7" y="119.1" width="1.9" height="1.6" fill="#c8baa6"/>
<rect x="127.6" y="119.3" width="1.6" height="1.6" fill="#5a4c40"/>
<rect x="61.7" y="101.4" width="1.1" height="1.4" fill="#ece4d8"/>
<rect x="145.4" y="109.8" width="1.5" height="1.8" fill="#ece4d8"/>
<rect x="18.3" y="101.0" width="1.3" height="1.9" fill="#83725f"/>
<rect x="62.1" y="119.1" width="1.9" height="1.3" fill="#83725f"/>
<rect x="74.0" y="106.1" width="1.9" height="1.9" fill="#83725f"/>
<rect x="78.7" y="101.3" width="1.5" height="1.1" fill="#c8baa6"/>
<rect x="19.4" y="115.4" width="1.1" height="1.3" fill="#5a4c40"/>
<rect x="1.8" y="105.0" width="1.8" height="1.3" fill="#83725f"/>
<rect x="15.7" y="114.3" width="1.2" height="1.6" fill="#c8baa6"/>
<rect x="107.7" y="113.7" width="1.9" height="1.1" fill="#4a3e34"/>
<rect x="62.0" y="110.1" width="1.2" height="1.3" fill="#4a3e34"/>
<rect x="80.1" y="103.6" width="1.3" height="1.6" fill="#ece4d8"/>
<rect x="128.5" y="103.9" width="1.8" height="1.8" fill="#5a4c40"/>
<rect x="47.4" y="105.6" width="1.9" height="1.3" fill="#5a4c40"/>
<rect x="133.1" y="101.8" width="1.3" height="1.8" fill="#c8baa6"/>
<rect x="58.2" y="108.1" width="1.9" height="1.6" fill="#4a3e34"/>
<rect x="18.9" y="107.5" width="1.7" height="1.1" fill="#5a4c40"/>
<rect x="85.5" y="106.5" width="1.8" height="1.4" fill="#4a3e34"/>
<rect x="75.9" y="114.9" width="1.6" height="1.7" fill="#5a4c40"/>
<rect x="120.4" y="109.1" width="1.1" height="1.8" fill="#ece4d8"/>
<rect x="77.2" y="110.9" width="1.2" height="1.3" fill="#5a4c40"/>
<rect x="25.9" y="102.3" width="1.4" height="1.7" fill="#ece4d8"/>
<rect x="9.3" y="119.0" width="1.5" height="1.8" fill="#c8baa6"/>
<rect x="58.6" y="108.0" width="1.4" height="1.3" fill="#c8baa6"/>
<rect x="2.0" y="113.7" width="1.9" height="1.3" fill="#83725f"/>
<rect x="53.9" y="106.8" width="1.9" height="1.6" fill="#d8ccb8"/>
<rect x="76.9" y="99.3" width="1.9" height="1.8" fill="#4a3e34"/>
<rect x="131.3" y="118.1" width="1.9" height="1.6" fill="#5a4c40"/>
<rect x="75.6" y="119.6" width="1.8" height="1.3" fill="#d8ccb8"/>
<rect x="111.7" y="115.3" width="1.8" height="1.5" fill="#c8baa6"/>
<rect x="132.0" y="113.6" width="1.8" height="1.8" fill="#83725f"/>
<rect x="31.0" y="102.9" width="1.8" height="1.4" fill="#d8ccb8"/>
<rect x="1.6" y="106.5" width="1.7" height="1.7" fill="#5a4c40"/>
<rect x="40.9" y="119.2" width="1.4" height="1.3" fill="#83725f"/>
<rect x="85.4" y="110.2" width="1.5" height="2.0" fill="#4a3e34"/>
<rect x="32.0" y="101.5" width="1.5" height="1.6" fill="#d8ccb8"/>
<rect x="92.3" y="114.5" width="1.3" height="1.5" fill="#d8ccb8"/>
<rect x="114.2" y="112.6" width="1.1" height="1.3" fill="#c8baa6"/>
<rect x="135.8" y="110.6" width="1.6" height="2.0" fill="#ece4d8"/>
<rect x="127.0" y="101.1" width="1.5" height="1.7" fill="#ece4d8"/>
<rect x="89.6" y="114.9" width="1.1" height="1.9" fill="#5a4c40"/>
<rect x="57.9" y="119.4" width="1.9" height="1.6" fill="#ece4d8"/>
<rect x="8.8" y="118.9" width="1.5" height="1.6" fill="#ece4d8"/>
<rect x="46.9" y="110.1" width="1.5" height="1.3" fill="#c8baa6"/>
<rect x="99.5" y="114.7" width="1.1" height="1.8" fill="#ece4d8"/>
<rect x="6.4" y="102.3" width="1.8" height="1.5" fill="#c8baa6"/>
<rect x="112.3" y="100.1" width="2.0" height="2.0" fill="#d8ccb8"/>
<rect x="119.6" y="103.7" width="1.7" height="1.3" fill="#5a4c40"/>
<rect x="6.8" y="101.1" width="1.8" height="1.9" fill="#5a4c40"/>
<rect x="146.8" y="116.2" width="1.6" height="1.2" fill="#ece4d8"/>
<rect x="62.6" y="101.5" width="1.9" height="1.4" fill="#5a4c40"/>
<rect x="18.6" y="108.3" width="1.7" height="1.5" fill="#c8baa6"/>
<rect x="95.9" y="113.3" width="1.4" height="1.8" fill="#5a4c40"/>
<rect x="142.9" y="114.4" width="1.3" height="1.2" fill="#c8baa6"/>
<rect x="117.6" y="112.1" width="1.4" height="1.3" fill="#4a3e34"/>
<rect x="108.8" y="113.7" width="1.3" height="1.4" fill="#5a4c40"/>
<rect x="28.5" y="104.2" width="2.0" height="1.9" fill="#4a3e34"/>
<rect x="5.9" y="100.3" width="1.3" height="1.5" fill="#ece4d8"/>
<rect x="5.7" y="103.7" width="1.4" height="1.8" fill="#4a3e34"/>
<rect x="24.1" y="103.9" width="2.0" height="1.5" fill="#c8baa6"/>
<rect x="31.6" y="106.2" width="1.8" height="1.9" fill="#d8ccb8"/>
<rect x="120.3" y="108.4" width="1.8" height="1.9" fill="#5a4c40"/>
<rect x="66.7" y="114.7" width="1.5" height="1.2" fill="#5a4c40"/>
<rect x="98.0" y="119.8" width="1.4" height="1.6" fill="#4a3e34"/>
<rect x="123.9" y="102.9" width="1.7" height="1.6" fill="#83725f"/>
<rect x="131.3" y="100.6" width="1.2" height="1.6" fill="#83725f"/>
<rect x="122.3" y="108.7" width="1.8" height="1.1" fill="#c8baa6"/>
<rect x="32.0" y="112.9" width="1.2" height="1.4" fill="#4a3e34"/>
<rect x="114.6" y="105.9" width="1.9" height="1.3" fill="#4a3e34"/>
<rect x="108.9" y="106.7" width="1.2" height="1.7" fill="#ece4d8"/>
<rect x="89.2" y="118.0" width="1.7" height="1.4" fill="#ece4d8"/>
<rect x="120.5" y="105.4" width="1.4" height="1.5" fill="#4a3e34"/>
<rect x="134.2" y="104.2" width="1.4" height="1.4" fill="#c8baa6"/>
<rect x="101.6" y="111.3" width="1.8" height="1.8" fill="#c8baa6"/>
<rect x="119.6" y="110.4" width="1.9" height="1.6" fill="#5a4c40"/>
<rect x="13.5" y="108.5" width="1.9" height="1.8" fill="#5a4c40"/>
<rect x="77.3" y="110.4" width="1.6" height="2.0" fill="#4a3e34"/>
<rect x="126.3" y="107.9" width="1.6" height="1.4" fill="#ece4d8"/>
<rect x="12.6" y="100.7" width="1.8" height="1.9" fill="#d8ccb8"/>
<rect x="3.9" y="112.7" width="1.2" height="1.8" fill="#83725f"/>
<rect x="36.8" y="103.6" width="1.8" height="1.6" fill="#83725f"/>
<rect x="59.2" y="106.1" width="2.0" height="1.7" fill="#83725f"/>
<rect x="73.2" y="115.9" width="1.2" height="1.7" fill="#d8ccb8"/>
<rect x="61.6" y="116.4" width="1.7" height="1.9" fill="#83725f"/>
<rect x="125.1" y="117.7" width="2.0" height="1.7" fill="#ece4d8"/>
<rect x="54.3" y="99.2" width="1.2" height="1.9" fill="#5a4c40"/>
<rect x="36.9" y="102.4" width="1.7" height="1.7" fill="#c8baa6"/>
<rect x="30.7" y="107.9" width="1.4" height="2.0" fill="#d8ccb8"/>
<rect x="70.7" y="114.3" width="1.4" height="1.2" fill="#5a4c40"/>
<rect x="136.8" y="114.8" width="1.1" height="1.5" fill="#d8ccb8"/>
<rect x="46.9" y="103.2" width="1.4" height="1.6" fill="#ece4d8"/>
<rect x="107.6" y="111.5" width="1.3" height="1.3" fill="#c8baa6"/>
<rect x="60.4" y="118.1" width="1.9" height="1.7" fill="#ece4d8"/>
<rect x="71.9" y="104.5" width="1.9" height="1.9" fill="#c8baa6"/>
<rect x="99.0" y="115.2" width="1.2" height="1.9" fill="#83725f"/>
<rect x="7.5" y="118.9" width="1.8" height="1.4" fill="#ece4d8"/>
<rect x="119.2" y="115.3" width="1.8" height="1.2" fill="#5a4c40"/>
<rect x="133.8" y="117.4" width="1.9" height="1.5" fill="#5a4c40"/>
<rect x="107.0" y="111.7" width="1.2" height="1.2" fill="#c8baa6"/>
<rect x="21.7" y="118.1" width="1.8" height="1.2" fill="#4a3e34"/>
<rect x="149.0" y="104.6" width="1.6" height="1.2" fill="#5a4c40"/>
<rect x="0.2" y="116.2" width="1.9" height="1.8" fill="#d8ccb8"/>
<rect x="52.8" y="111.9" width="1.6" height="1.9" fill="#4a3e34"/>
<rect x="70.3" y="119.1" width="1.6" height="1.9" fill="#c8baa6"/>
<rect x="2.9" y="102.9" width="1.3" height="1.7" fill="#83725f"/>
<rect x="31.3" y="110.4" width="1.6" height="1.2" fill="#c8baa6"/>
<rect x="47.4" y="107.5" width="1.6" height="2.0" fill="#4a3e34"/>
<rect x="107.3" y="106.6" width="1.7" height="1.2" fill="#83725f"/>
<rect x="101.4" y="114.7" width="1.8" height="1.2" fill="#83725f"/>
<rect x="1.9" y="106.9" width="1.7" height="1.3" fill="#ece4d8"/>
<rect x="17.0" y="115.2" width="1.9" height="1.9" fill="#4a3e34"/>
<rect x="31.0" y="111.9" width="1.4" height="1.4" fill="#ece4d8"/>
<rect x="112.5" y="119.0" width="1.8" height="1.6" fill="#d8ccb8"/>
<rect x="38.5" y="103.2" width="1.8" height="1.4" fill="#c8baa6"/>
<rect x="84.4" y="114.2" width="1.4" height="1.8" fill="#d8ccb8"/>
<rect x="15.3" y="112.1" width="1.2" height="1.7" fill="#5a4c40"/>
<rect x="27.0" y="107.4" width="1.9" height="1.6" fill="#d8ccb8"/>
<rect x="15.1" y="99.7" width="2.0" height="1.5" fill="#d8ccb8"/>
<rect x="51.2" y="116.3" width="1.9" height="1.2" fill="#5a4c40"/>
<rect x="115.0" y="116.2" width="1.4" height="1.4" fill="#83725f"/>
<rect x="93.5" y="114.3" width="1.7" height="1.4" fill="#5a4c40"/>
<rect x="99.0" y="111.8" width="1.1" height="1.4" fill="#c8baa6"/>
<rect x="46.0" y="108.3" width="1.6" height="1.3" fill="#c8baa6"/>
<rect x="118.3" y="116.3" width="1.7" height="1.2" fill="#ece4d8"/>
<rect x="135.4" y="110.5" width="1.4" height="1.6" fill="#5a4c40"/>
<rect x="86.1" y="103.2" width="1.9" height="2.0" fill="#4a3e34"/>
<rect x="125.3" y="103.1" width="2.0" height="1.7" fill="#5a4c40"/>
<rect x="116.5" y="101.9" width="1.5" height="1.5" fill="#c8baa6"/>
<rect x="49.4" y="118.5" width="1.4" height="1.5" fill="#d8ccb8"/>
<rect x="67.8" y="114.3" width="1.3" height="1.6" fill="#ece4d8"/>
<rect x="84.1" y="110.8" width="1.3" height="1.9" fill="#c8baa6"/>
<rect x="90.2" y="101.6" width="1.8" height="1.4" fill="#c8baa6"/>
<rect x="36.1" y="111.0" width="1.8" height="1.3" fill="#ece4d8"/>
<rect x="121.7" y="108.5" width="1.5" height="1.8" fill="#4a3e34"/>
<rect x="20.7" y="114.9" width="1.9" height="1.9" fill="#ece4d8"/>
<rect x="88.8" y="115.9" width="1.1" height="1.3" fill="#83725f"/>
<rect x="5.0" y="110.1" width="1.2" height="1.5" fill="#c8baa6"/>
<rect x="78.0" y="104.5" width="1.6" height="1.4" fill="#4a3e34"/>
<rect x="117.6" y="114.2" width="1.8" height="1.5" fill="#83725f"/>
<rect x="90.0" y="108.9" width="1.5" height="1.7" fill="#4a3e34"/>
<rect x="84.7" y="107.5" width="1.4" height="1.9" fill="#83725f"/>
<rect x="125.7" y="117.0" width="1.5" height="1.5" fill="#ece4d8"/>
<rect x="17.2" y="118.7" width="1.4" height="1.6" fill="#83725f"/>
<rect x="135.6" y="105.7" width="1.1" height="1.8" fill="#83725f"/>
<rect x="109.8" y="111.5" width="1.8" height="1.4" fill="#ece4d8"/>
<rect x="131.6" y="104.1" width="1.9" height="1.3" fill="#83725f"/>
<rect x="145.9" y="109.0" width="1.2" height="1.9" fill="#ece4d8"/>
<rect x="45.9" y="107.3" width="1.3" height="1.2" fill="#4a3e34"/>
<rect x="145.0" y="113.0" width="1.9" height="1.5" fill="#5a4c40"/>
<rect x="33.3" y="114.7" width="1.6" height="1.9" fill="#d8ccb8"/>
<rect x="77.9" y="101.7" width="1.9" height="1.6" fill="#83725f"/>
<rect x="0.1" y="104.1" width="1.4" height="1.4" fill="#d8ccb8"/>
<rect x="66.1" y="108.5" width="1.6" height="1.2" fill="#4a3e34"/>
<rect x="87.8" y="100.0" width="1.1" height="1.9" fill="#c8baa6"/>
<rect x="48.7" y="102.0" width="1.8" height="1.8" fill="#5a4c40"/>
<rect x="30.4" y="117.0" width="1.7" height="1.2" fill="#c8baa6"/>
<rect x="125.7" y="106.4" width="1.5" height="1.3" fill="#4a3e34"/>
<rect x="149.3" y="103.2" width="1.7" height="1.3" fill="#d8ccb8"/>
<rect x="97.5" y="105.4" width="1.8" height="2.0" fill="#c8baa6"/>
<rect x="130.4" y="114.0" width="1.2" height="1.7" fill="#83725f"/>
<rect x="62.3" y="102.6" width="1.9" height="1.2" fill="#4a3e34"/>
<rect x="29.5" y="102.8" width="1.3" height="1.7" fill="#c8baa6"/>
<rect x="55.9" y="112.9" width="1.9" height="1.6" fill="#5a4c40"/>
<rect x="146.6" y="117.8" width="1.3" height="1.3" fill="#5a4c40"/>
<rect x="96.0" y="100.9" width="2.0" height="1.5" fill="#ece4d8"/>
<rect x="11.1" y="118.1" width="1.1" height="1.6" fill="#ece4d8"/>
<rect x="37.6" y="115.9" width="1.2" height="1.4" fill="#5a4c40"/>
<rect x="36.9" y="104.9" width="1.6" height="1.3" fill="#5a4c40"/>
<rect x="148.2" y="99.7" width="1.5" height="1.8" fill="#83725f"/>
<rect x="0.4" y="117.7" width="1.2" height="1.2" fill="#4a3e34"/>
<rect x="136.5" y="105.7" width="1.5" height="1.1" fill="#c8baa6"/>
<rect x="75.8" y="116.8" width="1.7" height="1.6" fill="#ece4d8"/>
<rect x="26.1" y="115.4" width="1.2" height="1.6" fill="#5a4c40"/>
<rect x="100.3" y="110.5" width="1.3" height="1.7" fill="#4a3e34"/>
<rect x="35.4" y="109.3" width="1.3" height="1.6" fill="#83725f"/>
<rect x="39.2" y="103.3" width="2.0" height="1.1" fill="#83725f"/>
<rect x="130.9" y="102.8" width="1.2" height="1.1" fill="#83725f"/>
<rect x="120.9" y="109.6" width="1.8" height="1.9" fill="#d8ccb8"/>
<rect x="10.9" y="118.1" width="1.6" height="1.6" fill="#4a3e34"/>
<rect x="35.7" y="102.1" width="1.4" height="1.1" fill="#c8baa6"/>
<rect x="122.9" y="114.5" width="1.8" height="1.8" fill="#83725f"/>
<rect x="13.3" y="116.2" width="1.3" height="1.3" fill="#5a4c40"/>
<rect x="74.5" y="112.8" width="1.6" height="1.5" fill="#c8baa6"/>
<rect x="61.6" y="106.7" width="1.3" height="2.0" fill="#d8ccb8"/>
<rect x="19.3" y="114.9" width="1.6" height="1.2" fill="#4a3e34"/>
<rect x="23" y="61.2" width="3" height="38.8" fill="#9a8870"/>
<rect x="46" y="64.4" width="3" height="35.6" fill="#9a8870"/>
<rect x="68" y="67.5" width="3" height="32.5" fill="#9a8870"/>
<rect x="84" y="69.8" width="3" height="30.2" fill="#9a8870"/>
<rect x="97" y="71.6" width="3" height="28.4" fill="#9a8870"/>
<rect x="110" y="73.4" width="3" height="26.6" fill="#9a8870"/>
<rect x="121" y="74.9" width="3" height="25.1" fill="#9a8870"/>
<rect x="1" y="56.6" width="8.5" height="69.2" fill="url(#col)"/>
<rect x="0.2" y="56.6" width="10.1" height="2" fill="#e8dcc8"/>
<rect x="29" y="60.6" width="8.5" height="61.6" fill="url(#col)"/>
<rect x="28.2" y="60.6" width="10.1" height="2" fill="#e8dcc8"/>
<rect x="54" y="64.1" width="7.0" height="54.7" fill="url(#col)"/>
<rect x="53.2" y="64.1" width="8.6" height="2" fill="#e8dcc8"/>
<rect x="73.6" y="66.8" width="5.7" height="49.4" fill="url(#col)"/>
<rect x="72.8" y="66.8" width="7.3" height="2" fill="#e8dcc8"/>
<rect x="88.5" y="68.9" width="4.9" height="45.3" fill="url(#col)"/>
<rect x="87.7" y="68.9" width="6.5" height="2" fill="#e8dcc8"/>
<rect x="101" y="70.6" width="5.0" height="41.9" fill="url(#col)"/>
<rect x="100.2" y="70.6" width="6.6" height="2" fill="#e8dcc8"/>
<rect x="112" y="72.2" width="5.0" height="38.9" fill="url(#col)"/>
<rect x="111.2" y="72.2" width="6.6" height="2" fill="#e8dcc8"/>
<rect x="122.5" y="73.7" width="4.5" height="36.0" fill="url(#col)"/>
<rect x="121.7" y="73.7" width="6.1" height="2" fill="#e8dcc8"/>
<rect x="132.5" y="75.0" width="4.0" height="33.3" fill="url(#col)"/>
<rect x="131.7" y="75.0" width="5.6" height="2" fill="#e8dcc8"/>
<rect x="140" y="76.1" width="4.0" height="31.2" fill="url(#col)"/>
<rect x="139.2" y="76.1" width="5.6" height="2" fill="#e8dcc8"/>
<rect x="146.5" y="77.0" width="3.5" height="29.5" fill="url(#col)"/>
<rect x="145.7" y="77.0" width="5.1" height="2" fill="#e8dcc8"/>
<polygon points="0,120 150,106 267,104 267,170 0,170" fill="#b4a898"/>
<rect x="111.6" y="126.9" width="1.1" height="1.3" fill="#6a5a4c"/>
<rect x="34.7" y="117.0" width="1.4" height="1.5" fill="#dcd2c4"/>
<rect x="238.1" y="125.0" width="1.7" height="2.0" fill="#6a5a4c"/>
<rect x="56.3" y="113.1" width="1.6" height="1.3" fill="#eee8de"/>
<rect x="21.1" y="112.4" width="1.4" height="2.0" fill="#6a5a4c"/>
<rect x="53.5" y="110.5" width="1.6" height="2.0" fill="#c4b8a8"/>
<rect x="84.1" y="125.5" width="1.9" height="1.6" fill="#5a4c40"/>
<rect x="113.3" y="117.0" width="1.9" height="1.4" fill="#e6ded2"/>
<rect x="12.1" y="117.7" width="1.3" height="1.8" fill="#e6ded2"/>
<rect x="40.1" y="111.7" width="1.3" height="1.5" fill="#8c7c69"/>
<rect x="115.8" y="119.7" width="1.7" height="1.3" fill="#eee8de"/>
<rect x="50.1" y="116.7" width="1.2" height="1.7" fill="#8c7c69"/>
<rect x="232.4" y="123.4" width="1.6" height="1.8" fill="#6a5a4c"/>
<rect x="96.3" y="131.9" width="1.7" height="1.3" fill="#8c7c69"/>
<rect x="14.0" y="126.4" width="1.8" height="1.2" fill="#5a4c40"/>
<rect x="177.2" y="131.4" width="1.1" height="1.4" fill="#eee8de"/>
<rect x="110.2" y="129.9" width="1.4" height="1.3" fill="#6a5a4c"/>
<rect x="164.0" y="114.5" width="1.6" height="1.5" fill="#5a4c40"/>
<rect x="37.0" y="122.7" width="1.1" height="1.4" fill="#eee8de"/>
<rect x="117.3" y="125.4" width="1.6" height="1.6" fill="#8c7c69"/>
<rect x="177.7" y="124.7" width="1.2" height="1.3" fill="#8c7c69"/>
<rect x="131.1" y="118.6" width="1.2" height="1.6" fill="#8c7c69"/>
<rect x="55.4" y="114.2" width="1.4" height="1.3" fill="#dcd2c4"/>
<rect x="207.8" y="126.9" width="1.5" height="1.1" fill="#e6ded2"/>
<rect x="239.0" y="114.3" width="1.7" height="1.9" fill="#5a4c40"/>
<rect x="136.7" y="115.9" width="1.2" height="1.8" fill="#8c7c69"/>
<rect x="57.5" y="123.7" width="1.2" height="1.5" fill="#eee8de"/>
<rect x="120.8" y="119.7" width="1.9" height="1.4" fill="#c4b8a8"/>
<rect x="68.6" y="110.4" width="1.5" height="1.5" fill="#5a4c40"/>
<rect x="85.9" y="125.9" width="1.6" height="1.8" fill="#eee8de"/>
<rect x="197.0" y="119.4" width="1.3" height="1.9" fill="#8c7c69"/>
<rect x="171.5" y="106.6" width="1.5" height="1.4" fill="#dcd2c4"/>
<rect x="223.5" y="113.6" width="1.4" height="1.9" fill="#8c7c69"/>
<rect x="114.9" y="115.1" width="1.3" height="1.1" fill="#8c7c69"/>
<rect x="79.3" y="116.5" width="1.4" height="1.8" fill="#5a4c40"/>
<rect x="157.4" y="116.8" width="1.4" height="1.9" fill="#dcd2c4"/>
<rect x="141.2" y="132.4" width="1.8" height="1.7" fill="#6a5a4c"/>
<rect x="133.0" y="123.2" width="1.2" height="1.2" fill="#eee8de"/>
<rect x="215.5" y="116.7" width="1.9" height="1.1" fill="#5a4c40"/>
<rect x="167.4" y="113.6" width="1.5" height="1.5" fill="#dcd2c4"/>
<rect x="36.7" y="111.4" width="1.3" height="1.7" fill="#5a4c40"/>
<rect x="127.5" y="131.9" width="2.0" height="1.1" fill="#6a5a4c"/>
<rect x="120.9" y="124.2" width="1.6" height="1.7" fill="#6a5a4c"/>
<rect x="216.6" y="125.4" width="1.8" height="1.3" fill="#dcd2c4"/>
<rect x="217.2" y="114.8" width="1.7" height="1.7" fill="#c4b8a8"/>
<rect x="38.3" y="111.4" width="1.2" height="1.4" fill="#c4b8a8"/>
<rect x="120.2" y="121.8" width="1.4" height="1.4" fill="#c4b8a8"/>
<rect x="163.7" y="120.0" width="1.7" height="1.4" fill="#c4b8a8"/>
<rect x="43.6" y="120.4" width="1.2" height="1.2" fill="#dcd2c4"/>
<rect x="200.4" y="130.8" width="1.4" height="1.9" fill="#6a5a4c"/>
<rect x="189.2" y="119.5" width="1.2" height="1.9" fill="#e6ded2"/>
<rect x="118.1" y="115.6" width="1.5" height="1.8" fill="#c4b8a8"/>
<rect x="96.1" y="126.0" width="1.3" height="1.7" fill="#8c7c69"/>
<rect x="45.0" y="130.0" width="1.3" height="1.6" fill="#5a4c40"/>
<rect x="139.0" y="117.8" width="1.7" height="1.7" fill="#e6ded2"/>
<rect x="65.9" y="110.5" width="1.3" height="1.7" fill="#8c7c69"/>
<rect x="56.6" y="111.2" width="1.1" height="1.6" fill="#e6ded2"/>
<rect x="237.8" y="109.7" width="1.7" height="1.5" fill="#c4b8a8"/>
<rect x="163.1" y="116.8" width="1.7" height="1.2" fill="#5a4c40"/>
<rect x="174.7" y="109.3" width="1.1" height="1.4" fill="#c4b8a8"/>
<rect x="131.9" y="128.4" width="1.5" height="1.9" fill="#e6ded2"/>
<rect x="132.9" y="119.5" width="1.4" height="1.4" fill="#e6ded2"/>
<rect x="213.1" y="124.2" width="1.3" height="1.7" fill="#eee8de"/>
<rect x="187.5" y="133.5" width="1.5" height="1.7" fill="#6a5a4c"/>
<rect x="69.3" y="130.3" width="1.5" height="1.9" fill="#6a5a4c"/>
<rect x="228.7" y="113.0" width="1.5" height="1.2" fill="#8c7c69"/>
<rect x="216.7" y="113.6" width="1.6" height="1.3" fill="#eee8de"/>
<rect x="67.1" y="112.4" width="1.5" height="1.4" fill="#8c7c69"/>
<rect x="136.9" y="110.2" width="1.1" height="1.8" fill="#c4b8a8"/>
<rect x="19.2" y="111.1" width="1.5" height="2.0" fill="#5a4c40"/>
<rect x="243.0" y="117.4" width="1.1" height="1.4" fill="#6a5a4c"/>
<rect x="97.0" y="107.6" width="1.6" height="1.7" fill="#6a5a4c"/>
<rect x="61.8" y="111.3" width="1.4" height="1.3" fill="#e6ded2"/>
<rect x="108.6" y="129.3" width="1.8" height="1.3" fill="#dcd2c4"/>
<rect x="231.5" y="121.1" width="1.7" height="1.3" fill="#dcd2c4"/>
<rect x="184.6" y="114.7" width="1.6" height="1.1" fill="#5a4c40"/>
<rect x="15.6" y="116.2" width="1.8" height="1.3" fill="#5a4c40"/>
<rect x="194.1" y="126.6" width="1.5" height="1.8" fill="#e6ded2"/>
<rect x="163.1" y="128.5" width="1.8" height="1.9" fill="#eee8de"/>
<rect x="98.6" y="125.7" width="1.3" height="1.9" fill="#dcd2c4"/>
<rect x="2.3" y="109.9" width="1.4" height="1.8" fill="#6a5a4c"/>
<rect x="161.0" y="128.7" width="1.4" height="1.7" fill="#8c7c69"/>
<rect x="76.5" y="107.9" width="1.7" height="1.6" fill="#8c7c69"/>
<rect x="82.0" y="126.8" width="1.3" height="1.8" fill="#6a5a4c"/>
<rect x="74.6" y="111.8" width="1.4" height="1.2" fill="#8c7c69"/>
<rect x="85.8" y="118.1" width="1.1" height="1.6" fill="#eee8de"/>
<rect x="23.2" y="132.6" width="1.9" height="1.8" fill="#dcd2c4"/>
<rect x="215.7" y="115.0" width="1.8" height="1.2" fill="#8c7c69"/>
<rect x="105.4" y="133.0" width="1.3" height="1.5" fill="#c4b8a8"/>
<rect x="217.5" y="128.8" width="1.2" height="1.5" fill="#8c7c69"/>
<rect x="216.0" y="127.8" width="1.6" height="1.1" fill="#c4b8a8"/>
<rect x="155.5" y="116.6" width="1.7" height="1.3" fill="#6a5a4c"/>
<rect x="84.4" y="118.3" width="1.7" height="1.5" fill="#6a5a4c"/>
<rect x="226.6" y="109.4" width="1.8" height="1.8" fill="#eee8de"/>
<rect x="163.0" y="117.7" width="1.4" height="1.3" fill="#6a5a4c"/>
<rect x="132.6" y="107.2" width="1.9" height="1.6" fill="#eee8de"/>
<rect x="109.5" y="122.6" width="1.6" height="1.9" fill="#5a4c40"/>
<rect x="131.6" y="115.2" width="1.3" height="1.7" fill="#5a4c40"/>
<rect x="180.5" y="133.7" width="1.5" height="1.9" fill="#5a4c40"/>
<rect x="184.4" y="131.1" width="1.2" height="1.3" fill="#c4b8a8"/>
<rect x="193.5" y="110.0" width="1.2" height="1.2" fill="#8c7c69"/>
<rect x="243.5" y="107.8" width="1.9" height="1.7" fill="#8c7c69"/>
<rect x="126.8" y="115.8" width="1.3" height="1.1" fill="#eee8de"/>
<rect x="48.0" y="113.8" width="1.7" height="1.2" fill="#6a5a4c"/>
<rect x="107.9" y="127.2" width="1.9" height="1.2" fill="#eee8de"/>
<rect x="209.5" y="127.6" width="1.6" height="1.9" fill="#e6ded2"/>
<rect x="230.7" y="128.7" width="1.3" height="1.4" fill="#8c7c69"/>
<rect x="234.0" y="112.1" width="1.4" height="1.5" fill="#6a5a4c"/>
<rect x="95.2" y="129.8" width="1.7" height="1.9" fill="#dcd2c4"/>
<rect x="21.6" y="124.2" width="1.6" height="1.4" fill="#c4b8a8"/>
<rect x="237.7" y="121.7" width="2.0" height="1.4" fill="#e6ded2"/>
<rect x="83.2" y="114.8" width="1.7" height="1.4" fill="#6a5a4c"/>
<rect x="51.1" y="111.9" width="1.8" height="1.3" fill="#6a5a4c"/>
<rect x="114.3" y="109.6" width="1.2" height="1.9" fill="#6a5a4c"/>
<rect x="152.6" y="114.6" width="1.1" height="1.2" fill="#5a4c40"/>
<rect x="180.4" y="116.1" width="1.4" height="1.5" fill="#5a4c40"/>
<rect x="17.5" y="113.4" width="1.4" height="1.7" fill="#8c7c69"/>
<rect x="111.9" y="120.2" width="1.9" height="1.4" fill="#c4b8a8"/>
<rect x="102.4" y="119.8" width="1.2" height="1.2" fill="#8c7c69"/>
<rect x="233.2" y="108.2" width="1.7" height="1.3" fill="#eee8de"/>
<rect x="95.0" y="126.8" width="1.6" height="1.5" fill="#dcd2c4"/>
<rect x="89.9" y="115.3" width="1.6" height="1.7" fill="#8c7c69"/>
<rect x="71.8" y="125.5" width="1.7" height="1.3" fill="#eee8de"/>
<rect x="91.8" y="122.6" width="1.9" height="1.4" fill="#8c7c69"/>
<rect x="83.7" y="129.0" width="1.9" height="1.6" fill="#6a5a4c"/>
<rect x="161.1" y="118.7" width="1.3" height="1.8" fill="#dcd2c4"/>
<rect x="91.7" y="126.2" width="1.7" height="1.4" fill="#e6ded2"/>
<rect x="232.7" y="106.7" width="1.7" height="1.5" fill="#8c7c69"/>
<rect x="41.8" y="120.2" width="1.5" height="1.7" fill="#dcd2c4"/>
<rect x="237.7" y="133.3" width="2.0" height="1.5" fill="#e6ded2"/>
<rect x="56.3" y="121.2" width="1.2" height="1.2" fill="#eee8de"/>
<rect x="160.8" y="128.1" width="1.9" height="1.6" fill="#6a5a4c"/>
<rect x="51.3" y="116.4" width="1.2" height="1.5" fill="#c4b8a8"/>
<rect x="194.7" y="106.1" width="2.0" height="1.7" fill="#e6ded2"/>
<rect x="181.8" y="113.1" width="1.8" height="1.8" fill="#e6ded2"/>
<rect x="216.6" y="118.1" width="1.2" height="1.4" fill="#8c7c69"/>
<rect x="231.4" y="131.1" width="1.1" height="1.4" fill="#6a5a4c"/>
<rect x="137.5" y="133.3" width="1.8" height="1.2" fill="#6a5a4c"/>
<rect x="138.2" y="107.9" width="1.3" height="1.7" fill="#6a5a4c"/>
<rect x="125.5" y="114.2" width="1.8" height="1.3" fill="#eee8de"/>
<rect x="114.3" y="133.7" width="1.6" height="1.3" fill="#dcd2c4"/>
<rect x="112.5" y="129.8" width="1.2" height="1.9" fill="#5a4c40"/>
<rect x="35.3" y="121.8" width="1.3" height="1.7" fill="#e6ded2"/>
<rect x="174.6" y="109.3" width="1.8" height="1.3" fill="#e6ded2"/>
<rect x="200.5" y="126.6" width="1.7" height="1.2" fill="#6a5a4c"/>
<rect x="151.6" y="117.3" width="1.5" height="1.9" fill="#6a5a4c"/>
<rect x="157.5" y="129.7" width="1.1" height="1.5" fill="#dcd2c4"/>
<rect x="52.6" y="121.0" width="1.7" height="1.5" fill="#eee8de"/>
<rect x="49.9" y="133.8" width="1.6" height="1.2" fill="#6a5a4c"/>
<rect x="227.1" y="108.7" width="1.7" height="1.3" fill="#6a5a4c"/>
<rect x="63.3" y="116.3" width="1.5" height="1.5" fill="#8c7c69"/>
<rect x="158.9" y="115.3" width="1.2" height="1.4" fill="#6a5a4c"/>
<rect x="15.1" y="120.8" width="1.6" height="1.5" fill="#5a4c40"/>
<rect x="165.4" y="126.0" width="1.1" height="1.4" fill="#5a4c40"/>
<rect x="127.4" y="120.8" width="1.8" height="1.4" fill="#6a5a4c"/>
<rect x="236.7" y="106.2" width="1.6" height="2.0" fill="#8c7c69"/>
<rect x="236.0" y="125.4" width="1.9" height="1.3" fill="#e6ded2"/>
<rect x="144.4" y="114.8" width="1.5" height="1.6" fill="#e6ded2"/>
<rect x="84.4" y="130.0" width="1.3" height="1.6" fill="#e6ded2"/>
<rect x="194.9" y="117.9" width="1.9" height="1.5" fill="#8c7c69"/>
<rect x="140.2" y="108.7" width="1.5" height="1.3" fill="#8c7c69"/>
<rect x="80.4" y="114.9" width="1.8" height="1.8" fill="#c4b8a8"/>
<rect x="69.2" y="134.0" width="1.5" height="1.5" fill="#dcd2c4"/>
<rect x="135.3" y="132.0" width="1.7" height="1.1" fill="#c4b8a8"/>
<rect x="184.4" y="122.2" width="1.1" height="1.8" fill="#eee8de"/>
<rect x="82.2" y="123.5" width="1.9" height="1.8" fill="#5a4c40"/>
<rect x="191.4" y="118.3" width="1.8" height="1.4" fill="#eee8de"/>
<rect x="165.9" y="128.4" width="1.5" height="1.9" fill="#c4b8a8"/>
<rect x="17.5" y="109.2" width="1.9" height="1.7" fill="#6a5a4c"/>
<rect x="174.4" y="125.7" width="1.5" height="1.7" fill="#c4b8a8"/>
<rect x="137.2" y="131.8" width="1.3" height="1.5" fill="#6a5a4c"/>
<rect x="34.3" y="132.5" width="1.2" height="1.3" fill="#eee8de"/>
<rect x="7.7" y="118.1" width="1.4" height="1.7" fill="#eee8de"/>
<rect x="120.9" y="125.3" width="1.4" height="1.8" fill="#dcd2c4"/>
<rect x="134.6" y="129.9" width="1.8" height="1.4" fill="#dcd2c4"/>
<rect x="84.8" y="110.6" width="1.4" height="1.6" fill="#6a5a4c"/>
<rect x="167.5" y="118.7" width="1.6" height="1.5" fill="#e6ded2"/>
<rect x="143.0" y="119.5" width="2.0" height="1.4" fill="#c4b8a8"/>
<rect x="119.9" y="123.7" width="1.4" height="1.5" fill="#dcd2c4"/>
<rect x="63.0" y="107.8" width="1.8" height="1.4" fill="#c4b8a8"/>
<rect x="52.3" y="131.4" width="1.2" height="1.3" fill="#eee8de"/>
<rect x="222.9" y="118.8" width="1.5" height="1.3" fill="#e6ded2"/>
<rect x="151.9" y="125.0" width="1.6" height="1.2" fill="#c4b8a8"/>
<rect x="86.2" y="110.5" width="1.5" height="1.5" fill="#eee8de"/>
<rect x="233.0" y="127.4" width="1.8" height="1.2" fill="#e6ded2"/>
<rect x="38.3" y="133.6" width="1.9" height="1.8" fill="#8c7c69"/>
<rect x="29.6" y="127.4" width="1.6" height="1.9" fill="#8c7c69"/>
<rect x="168.9" y="116.2" width="2.0" height="1.7" fill="#8c7c69"/>
<rect x="149.0" y="129.3" width="2.0" height="1.2" fill="#8c7c69"/>
<rect x="5.0" y="121.0" width="1.3" height="1.4" fill="#8c7c69"/>
<rect x="137.4" y="113.4" width="1.2" height="1.1" fill="#e6ded2"/>
<rect x="68.0" y="120.3" width="1.9" height="1.2" fill="#e6ded2"/>
<rect x="133.4" y="109.7" width="1.2" height="1.8" fill="#5a4c40"/>
<rect x="131.0" y="124.5" width="1.9" height="1.8" fill="#8c7c69"/>
<rect x="75.1" y="118.0" width="1.8" height="1.7" fill="#6a5a4c"/>
<rect x="57.2" y="118.7" width="1.4" height="1.8" fill="#c4b8a8"/>
<rect x="123.9" y="121.8" width="1.4" height="1.3" fill="#6a5a4c"/>
<rect x="27.0" y="132.3" width="1.7" height="1.2" fill="#dcd2c4"/>
<rect x="25.0" y="121.8" width="1.2" height="2.0" fill="#8c7c69"/>
<rect x="86.6" y="109.9" width="2.0" height="1.7" fill="#5a4c40"/>
<rect x="7.3" y="122.0" width="2.0" height="1.7" fill="#e6ded2"/>
<rect x="238.8" y="131.8" width="1.6" height="1.5" fill="#c4b8a8"/>
<rect x="45.2" y="120.7" width="1.4" height="1.5" fill="#5a4c40"/>
<rect x="215.5" y="108.8" width="1.2" height="1.3" fill="#c4b8a8"/>
<rect x="119.3" y="121.6" width="2.0" height="1.6" fill="#5a4c40"/>
<rect x="220.4" y="113.2" width="1.3" height="1.3" fill="#5a4c40"/>
<rect x="239.1" y="132.6" width="1.9" height="1.9" fill="#e6ded2"/>
<rect x="4.9" y="119.7" width="1.6" height="1.7" fill="#6a5a4c"/>
<rect x="220.1" y="114.9" width="1.3" height="1.8" fill="#5a4c40"/>
<rect x="235.1" y="106.9" width="1.2" height="1.9" fill="#dcd2c4"/>
<rect x="101.5" y="110.2" width="1.3" height="1.6" fill="#e6ded2"/>
<rect x="142.1" y="127.2" width="1.8" height="1.1" fill="#dcd2c4"/>
<rect x="234.8" y="112.1" width="1.5" height="1.3" fill="#8c7c69"/>
<rect x="82.2" y="115.7" width="1.1" height="1.8" fill="#8c7c69"/>
<rect x="11.7" y="116.4" width="1.8" height="1.6" fill="#8c7c69"/>
<rect x="111.5" y="112.6" width="1.9" height="1.3" fill="#5a4c40"/>
<rect x="51.8" y="118.6" width="1.3" height="1.9" fill="#5a4c40"/>
<rect x="58.4" y="124.3" width="1.3" height="1.6" fill="#8c7c69"/>
<rect x="140.5" y="106.6" width="1.4" height="1.2" fill="#6a5a4c"/>
<rect x="80.7" y="126.3" width="1.7" height="1.8" fill="#6a5a4c"/>
<rect x="22.7" y="125.2" width="1.6" height="1.5" fill="#dcd2c4"/>
<rect x="101.5" y="133.7" width="1.4" height="1.4" fill="#dcd2c4"/>
<rect x="242.7" y="116.8" width="1.2" height="1.8" fill="#e6ded2"/>
<rect x="57.0" y="133.8" width="1.3" height="1.9" fill="#6a5a4c"/>
<rect x="145.4" y="126.8" width="1.5" height="1.8" fill="#dcd2c4"/>
<rect x="12.7" y="106.9" width="2.0" height="1.5" fill="#5a4c40"/>
<rect x="35.1" y="111.8" width="1.9" height="2.0" fill="#8c7c69"/>
<rect x="83.8" y="132.1" width="1.2" height="1.7" fill="#dcd2c4"/>
<rect x="47.2" y="109.8" width="1.7" height="1.9" fill="#c4b8a8"/>
<rect x="217.0" y="124.7" width="1.4" height="1.8" fill="#8c7c69"/>
<rect x="35.9" y="130.4" width="2.0" height="1.8" fill="#c4b8a8"/>
<rect x="12.1" y="114.6" width="1.3" height="1.2" fill="#6a5a4c"/>
<rect x="127.9" y="128.9" width="1.5" height="1.8" fill="#8c7c69"/>
<rect x="232.0" y="108.3" width="1.3" height="1.2" fill="#8c7c69"/>
<rect x="239.0" y="132.2" width="1.7" height="1.3" fill="#8c7c69"/>
<rect x="156.4" y="108.9" width="1.5" height="1.9" fill="#6a5a4c"/>
<rect x="112.6" y="122.9" width="1.9" height="1.5" fill="#5a4c40"/>
<rect x="36.1" y="119.1" width="1.7" height="1.5" fill="#6a5a4c"/>
<rect x="98.1" y="107.5" width="1.2" height="1.3" fill="#c4b8a8"/>
<rect x="201.5" y="132.9" width="1.1" height="1.5" fill="#eee8de"/>
<rect x="150.0" y="107.8" width="1.1" height="1.4" fill="#5a4c40"/>
<rect x="74.6" y="107.2" width="1.3" height="1.7" fill="#8c7c69"/>
<rect x="168.5" y="113.0" width="1.8" height="1.2" fill="#5a4c40"/>
<rect x="216.6" y="122.3" width="1.5" height="1.6" fill="#eee8de"/>
<rect x="62.8" y="132.6" width="1.5" height="1.7" fill="#6a5a4c"/>
<rect x="209.0" y="130.7" width="1.2" height="1.6" fill="#8c7c69"/>
<rect x="187.5" y="132.1" width="1.4" height="1.6" fill="#eee8de"/>
<rect x="38.6" y="132.5" width="1.4" height="1.2" fill="#c4b8a8"/>
<rect x="0.8" y="119.4" width="1.2" height="1.8" fill="#e6ded2"/>
<rect x="126.0" y="116.6" width="1.1" height="1.5" fill="#8c7c69"/>
<rect x="121.9" y="129.7" width="1.6" height="1.2" fill="#8c7c69"/>
<rect x="121.9" y="119.5" width="1.7" height="2.0" fill="#8c7c69"/>
<rect x="131.9" y="107.4" width="1.4" height="1.1" fill="#6a5a4c"/>
<rect x="203.1" y="128.3" width="1.3" height="1.9" fill="#6a5a4c"/>
<rect x="25.1" y="115.9" width="1.2" height="1.2" fill="#e6ded2"/>
<rect x="118.1" y="114.1" width="1.9" height="1.6" fill="#8c7c69"/>
<rect x="226.9" y="124.1" width="1.7" height="1.5" fill="#8c7c69"/>
<rect x="239.8" y="131.7" width="1.7" height="1.8" fill="#c4b8a8"/>
<rect x="67.0" y="114.3" width="1.9" height="1.2" fill="#eee8de"/>
<rect x="74.3" y="112.8" width="1.9" height="1.1" fill="#6a5a4c"/>
<rect x="161.2" y="119.2" width="1.7" height="1.7" fill="#eee8de"/>
<rect x="228.5" y="124.0" width="1.2" height="1.7" fill="#dcd2c4"/>
<rect x="63.6" y="114.1" width="1.5" height="1.3" fill="#6a5a4c"/>
<rect x="170.1" y="127.2" width="2.0" height="1.7" fill="#5a4c40"/>
<rect x="183.5" y="124.7" width="1.5" height="1.5" fill="#eee8de"/>
<rect x="192.4" y="130.5" width="1.6" height="1.9" fill="#c4b8a8"/>
<rect x="226.5" y="112.3" width="1.7" height="1.1" fill="#5a4c40"/>
<rect x="122.5" y="133.4" width="1.3" height="1.7" fill="#dcd2c4"/>
<rect x="170.1" y="120.4" width="1.4" height="1.3" fill="#5a4c40"/>
<rect x="6.6" y="113.5" width="1.8" height="1.2" fill="#8c7c69"/>
<rect x="227.1" y="131.5" width="1.4" height="2.0" fill="#6a5a4c"/>
<rect x="74.2" y="119.0" width="1.2" height="1.2" fill="#5a4c40"/>
<rect x="128.0" y="119.7" width="1.1" height="1.9" fill="#6a5a4c"/>
<rect x="12.3" y="127.2" width="1.6" height="1.4" fill="#6a5a4c"/>
<rect x="89.2" y="118.2" width="1.5" height="1.4" fill="#8c7c69"/>
<rect x="72.4" y="130.1" width="1.9" height="1.6" fill="#5a4c40"/>
<rect x="99.7" y="112.6" width="1.5" height="2.0" fill="#dcd2c4"/>
<rect x="105.2" y="119.3" width="1.5" height="1.7" fill="#e6ded2"/>
<rect x="157.1" y="132.3" width="1.9" height="1.3" fill="#6a5a4c"/>
<rect x="102.8" y="106.3" width="1.2" height="1.3" fill="#dcd2c4"/>
<rect x="150.7" y="111.1" width="2.0" height="1.8" fill="#6a5a4c"/>
<rect x="178.1" y="114.9" width="1.8" height="1.7" fill="#c4b8a8"/>
<rect x="14.2" y="107.7" width="2.0" height="2.0" fill="#5a4c40"/>
<rect x="233.9" y="130.9" width="1.2" height="1.2" fill="#8c7c69"/>
<rect x="113.9" y="123.2" width="1.9" height="2.0" fill="#eee8de"/>
<rect x="140.4" y="126.8" width="1.5" height="1.7" fill="#c4b8a8"/>
<rect x="211.5" y="117.4" width="1.2" height="1.6" fill="#5a4c40"/>
<rect x="13.4" y="119.3" width="1.1" height="1.2" fill="#eee8de"/>
<rect x="179.0" y="123.3" width="1.3" height="1.3" fill="#c4b8a8"/>
<rect x="119.2" y="122.5" width="1.4" height="2.0" fill="#dcd2c4"/>
<rect x="82.2" y="106.6" width="1.9" height="1.7" fill="#6a5a4c"/>
<rect x="100.6" y="117.2" width="1.9" height="1.3" fill="#e6ded2"/>
<rect x="22.7" y="113.5" width="1.3" height="1.7" fill="#5a4c40"/>
<rect x="111.0" y="114.8" width="1.7" height="1.5" fill="#8c7c69"/>
<rect x="152.4" y="108.5" width="1.8" height="1.7" fill="#6a5a4c"/>
<rect x="111.4" y="116.5" width="1.9" height="2.0" fill="#e6ded2"/>
<rect x="227.9" y="130.8" width="1.2" height="1.3" fill="#5a4c40"/>
<rect x="177.4" y="132.6" width="1.7" height="1.7" fill="#eee8de"/>
<rect x="52.1" y="114.4" width="1.6" height="1.2" fill="#6a5a4c"/>
<rect x="240.1" y="115.6" width="1.7" height="1.1" fill="#eee8de"/>
<rect x="84.4" y="117.9" width="1.2" height="1.4" fill="#e6ded2"/>
<rect x="97.6" y="133.8" width="1.3" height="1.9" fill="#dcd2c4"/>
<rect x="122.0" y="107.4" width="1.3" height="1.7" fill="#dcd2c4"/>
<rect x="144.6" y="125.9" width="1.8" height="1.8" fill="#6a5a4c"/>
<rect x="117.2" y="113.2" width="1.7" height="1.5" fill="#5a4c40"/>
<rect x="241.8" y="109.8" width="1.8" height="1.4" fill="#c4b8a8"/>
<rect x="124.7" y="106.6" width="1.8" height="1.4" fill="#eee8de"/>
<rect x="80.1" y="131.8" width="1.8" height="1.5" fill="#eee8de"/>
<rect x="70.8" y="128.6" width="1.5" height="1.2" fill="#6a5a4c"/>
<rect x="11.8" y="119.0" width="1.6" height="1.5" fill="#dcd2c4"/>
<rect x="233.6" y="115.9" width="1.8" height="1.2" fill="#8c7c69"/>
<rect x="133.8" y="110.7" width="1.4" height="1.3" fill="#c4b8a8"/>
<rect x="67.0" y="116.0" width="1.6" height="1.1" fill="#8c7c69"/>
<rect x="97.5" y="117.3" width="1.8" height="1.7" fill="#e6ded2"/>
<rect x="228.7" y="113.0" width="1.3" height="1.2" fill="#dcd2c4"/>
<rect x="156.1" y="106.7" width="1.3" height="1.1" fill="#dcd2c4"/>
<rect x="170.4" y="106.8" width="1.8" height="1.9" fill="#5a4c40"/>
<rect x="153.0" y="116.1" width="1.4" height="1.8" fill="#5a4c40"/>
<rect x="207.2" y="125.6" width="1.1" height="1.9" fill="#e6ded2"/>
<rect x="139.6" y="123.1" width="2.0" height="1.3" fill="#5a4c40"/>
<rect x="147.5" y="114.9" width="1.7" height="1.9" fill="#e6ded2"/>
<rect x="107.8" y="118.1" width="1.8" height="1.9" fill="#c4b8a8"/>
<rect x="187.1" y="119.2" width="1.6" height="1.4" fill="#e6ded2"/>
<rect x="216.3" y="130.4" width="1.3" height="1.4" fill="#5a4c40"/>
<rect x="120.8" y="124.7" width="1.9" height="1.8" fill="#e6ded2"/>
<rect x="206.1" y="121.2" width="1.6" height="1.2" fill="#dcd2c4"/>
<rect x="145.4" y="127.3" width="1.5" height="1.6" fill="#eee8de"/>
<rect x="15.3" y="108.9" width="1.1" height="1.7" fill="#5a4c40"/>
<rect x="135.7" y="107.2" width="1.2" height="1.7" fill="#dcd2c4"/>
<rect x="114.5" y="114.1" width="1.6" height="1.4" fill="#8c7c69"/>
<rect x="0.9" y="131.9" width="1.4" height="1.1" fill="#8c7c69"/>
<rect x="76.0" y="122.6" width="1.3" height="1.2" fill="#e6ded2"/>
<rect x="23.6" y="125.0" width="1.3" height="1.6" fill="#e6ded2"/>
<rect x="213.8" y="128.4" width="1.5" height="1.7" fill="#5a4c40"/>
<rect x="101.2" y="116.9" width="1.6" height="1.5" fill="#6a5a4c"/>
<rect x="141.0" y="133.9" width="1.8" height="1.9" fill="#8c7c69"/>
<rect x="5.4" y="114.4" width="1.1" height="1.8" fill="#6a5a4c"/>
<rect x="111.8" y="120.6" width="1.4" height="1.9" fill="#6a5a4c"/>
<rect x="167.5" y="125.4" width="1.8" height="1.5" fill="#eee8de"/>
<rect x="122.8" y="112.3" width="1.6" height="1.7" fill="#e6ded2"/>
<rect x="204.7" y="108.1" width="1.3" height="2.0" fill="#6a5a4c"/>
<rect x="104.5" y="121.6" width="1.1" height="1.4" fill="#8c7c69"/>
<rect x="242.6" y="108.1" width="2.0" height="1.1" fill="#5a4c40"/>
<rect x="195.6" y="126.0" width="1.8" height="1.5" fill="#eee8de"/>
<rect x="144.9" y="121.3" width="1.2" height="1.7" fill="#dcd2c4"/>
<rect x="113.7" y="131.2" width="1.7" height="1.3" fill="#eee8de"/>
<rect x="159.8" y="128.7" width="2.0" height="1.9" fill="#6a5a4c"/>
<rect x="4.4" y="112.2" width="1.7" height="1.3" fill="#dcd2c4"/>
<rect x="59.5" y="114.7" width="1.3" height="1.9" fill="#6a5a4c"/>
<rect x="24.8" y="123.8" width="1.3" height="1.8" fill="#c4b8a8"/>
<rect x="54.8" y="110.6" width="1.4" height="1.8" fill="#c4b8a8"/>
<rect x="34.4" y="111.6" width="1.1" height="1.2" fill="#eee8de"/>
<rect x="158.0" y="133.6" width="1.8" height="1.9" fill="#c4b8a8"/>
<rect x="45.2" y="123.8" width="1.7" height="1.9" fill="#dcd2c4"/>
<rect x="212.1" y="114.5" width="1.9" height="1.7" fill="#eee8de"/>
<rect x="175.2" y="111.2" width="1.5" height="2.0" fill="#5a4c40"/>
<rect x="144.8" y="113.6" width="1.3" height="1.2" fill="#8c7c69"/>
<rect x="45.7" y="112.6" width="1.4" height="1.9" fill="#c4b8a8"/>
<rect x="29.4" y="123.7" width="1.7" height="1.7" fill="#c4b8a8"/>
<rect x="78.4" y="106.2" width="1.5" height="1.6" fill="#dcd2c4"/>
<rect x="130.1" y="107.4" width="1.1" height="2.0" fill="#8c7c69"/>
<rect x="136.6" y="116.9" width="1.9" height="1.7" fill="#6a5a4c"/>
<rect x="44.2" y="120.0" width="1.5" height="1.8" fill="#6a5a4c"/>
<rect x="153.5" y="118.6" width="1.5" height="1.1" fill="#6a5a4c"/>
<rect x="211.9" y="106.9" width="1.3" height="1.5" fill="#e6ded2"/>
<rect x="106.8" y="116.5" width="1.2" height="1.4" fill="#dcd2c4"/>
<rect x="85.9" y="107.9" width="1.3" height="1.7" fill="#dcd2c4"/>
<rect x="59.2" y="124.1" width="1.2" height="1.7" fill="#5a4c40"/>
<rect x="207.4" y="122.8" width="1.9" height="1.1" fill="#dcd2c4"/>
<rect x="56.3" y="111.0" width="1.5" height="1.5" fill="#dcd2c4"/>
<rect x="156.9" y="110.7" width="1.3" height="1.6" fill="#eee8de"/>
<rect x="100.4" y="116.6" width="1.8" height="1.2" fill="#dcd2c4"/>
<rect x="116.2" y="107.1" width="1.7" height="1.3" fill="#8c7c69"/>
<rect x="229.2" y="117.8" width="1.8" height="1.9" fill="#8c7c69"/>
<rect x="132.8" y="132.3" width="1.2" height="1.4" fill="#c4b8a8"/>
<rect x="216.0" y="131.9" width="1.2" height="1.7" fill="#8c7c69"/>
<rect x="69.7" y="114.2" width="1.8" height="1.8" fill="#c4b8a8"/>
<rect x="179.7" y="124.0" width="1.7" height="1.9" fill="#8c7c69"/>
<rect x="187.6" y="109.2" width="2.0" height="1.8" fill="#e6ded2"/>
<rect x="167.6" y="122.5" width="1.7" height="1.6" fill="#6a5a4c"/>
<rect x="217.9" y="113.8" width="1.3" height="1.5" fill="#8c7c69"/>
<rect x="235.3" y="110.0" width="1.5" height="1.6" fill="#5a4c40"/>
<rect x="190.4" y="124.4" width="1.5" height="1.6" fill="#5a4c40"/>
<rect x="79.1" y="123.0" width="1.3" height="1.5" fill="#e6ded2"/>
<rect x="211.3" y="106.8" width="1.3" height="1.6" fill="#6a5a4c"/>
<rect x="46.5" y="129.8" width="1.3" height="1.6" fill="#8c7c69"/>
<rect x="179.7" y="109.2" width="1.7" height="1.7" fill="#c4b8a8"/>
<rect x="67.4" y="133.8" width="1.7" height="1.2" fill="#c4b8a8"/>
<rect x="225.2" y="128.4" width="1.3" height="1.5" fill="#eee8de"/>
<rect x="229.1" y="117.8" width="1.4" height="1.5" fill="#8c7c69"/>
<rect x="177.3" y="127.9" width="1.6" height="1.7" fill="#e6ded2"/>
<rect x="160.6" y="132.8" width="1.2" height="1.6" fill="#c4b8a8"/>
<rect x="8.7" y="117.6" width="1.3" height="1.8" fill="#6a5a4c"/>
<rect x="165.0" y="116.0" width="1.7" height="1.4" fill="#dcd2c4"/>
<rect x="34.1" y="124.9" width="1.3" height="1.3" fill="#eee8de"/>
<rect x="209.8" y="116.4" width="1.2" height="1.7" fill="#dcd2c4"/>
<rect x="116.6" y="108.8" width="1.6" height="1.9" fill="#5a4c40"/>
<rect x="130.2" y="109.6" width="1.6" height="1.8" fill="#8c7c69"/>
<rect x="225.0" y="116.4" width="1.7" height="1.4" fill="#eee8de"/>
<rect x="135.8" y="122.3" width="1.9" height="1.7" fill="#8c7c69"/>
<rect x="70.3" y="127.7" width="1.7" height="1.5" fill="#dcd2c4"/>
<rect x="108.1" y="129.9" width="1.5" height="1.9" fill="#5a4c40"/>
<rect x="125.1" y="107.6" width="1.2" height="1.6" fill="#c4b8a8"/>
<rect x="23.7" y="132.8" width="1.8" height="1.2" fill="#6a5a4c"/>
<rect x="123.9" y="128.5" width="1.5" height="1.9" fill="#eee8de"/>
<rect x="227.7" y="125.1" width="1.9" height="1.2" fill="#dcd2c4"/>
<rect x="11.4" y="117.2" width="1.2" height="1.7" fill="#5a4c40"/>
<rect x="108.8" y="121.9" width="1.2" height="1.3" fill="#5a4c40"/>
<rect x="108.9" y="114.3" width="1.4" height="1.9" fill="#5a4c40"/>
<rect x="178.5" y="106.1" width="1.3" height="1.2" fill="#5a4c40"/>
<rect x="33.3" y="130.9" width="1.8" height="1.2" fill="#c4b8a8"/>
<rect x="37.9" y="115.3" width="1.3" height="2.0" fill="#8c7c69"/>
<rect x="229.2" y="115.4" width="1.2" height="1.8" fill="#dcd2c4"/>
<rect x="135.4" y="133.3" width="1.4" height="1.5" fill="#e6ded2"/>
<rect x="187.0" y="129.2" width="1.9" height="1.3" fill="#eee8de"/>
<rect x="73.8" y="131.7" width="1.3" height="1.7" fill="#dcd2c4"/>
<rect x="102.7" y="110.4" width="1.5" height="1.3" fill="#dcd2c4"/>
<rect x="177.4" y="131.3" width="1.8" height="1.1" fill="#6a5a4c"/>
<rect x="58.5" y="129.6" width="1.6" height="1.6" fill="#8c7c69"/>
<rect x="61.0" y="121.5" width="1.4" height="1.3" fill="#c4b8a8"/>
<rect x="64.3" y="112.8" width="1.7" height="1.9" fill="#c4b8a8"/>
<rect x="54.9" y="107.8" width="1.6" height="1.3" fill="#5a4c40"/>
<rect x="202.5" y="119.9" width="1.7" height="1.4" fill="#8c7c69"/>
<rect x="18.9" y="112.3" width="1.6" height="1.3" fill="#dcd2c4"/>
<rect x="172.2" y="122.7" width="1.7" height="1.8" fill="#6a5a4c"/>
<rect x="194.3" y="127.9" width="1.5" height="1.3" fill="#8c7c69"/>
<rect x="223.2" y="127.9" width="1.2" height="1.3" fill="#eee8de"/>
<rect x="86.2" y="129.7" width="1.8" height="1.7" fill="#e6ded2"/>
<rect x="70.4" y="125.1" width="1.1" height="1.4" fill="#6a5a4c"/>
<rect x="24.7" y="128.4" width="1.9" height="1.4" fill="#eee8de"/>
<rect x="155.9" y="125.6" width="2.0" height="1.6" fill="#c4b8a8"/>
<rect x="20.6" y="113.1" width="1.8" height="1.3" fill="#dcd2c4"/>
<rect x="86.4" y="119.3" width="1.3" height="1.4" fill="#eee8de"/>
<rect x="197.5" y="114.6" width="1.5" height="1.3" fill="#6a5a4c"/>
<rect x="196.6" y="115.1" width="1.3" height="1.2" fill="#dcd2c4"/>
<rect x="20.3" y="127.0" width="1.6" height="1.3" fill="#eee8de"/>
<rect x="146.7" y="114.9" width="1.1" height="1.5" fill="#8c7c69"/>
<rect x="63.2" y="109.7" width="1.7" height="1.8" fill="#c4b8a8"/>
<rect x="140.7" y="109.5" width="1.8" height="1.2" fill="#6a5a4c"/>
<rect x="160.8" y="120.1" width="1.3" height="1.7" fill="#8c7c69"/>
<rect x="243.0" y="122.2" width="1.9" height="2.0" fill="#e6ded2"/>
<rect x="111.1" y="107.0" width="1.2" height="1.4" fill="#dcd2c4"/>
<rect x="38.7" y="120.8" width="1.5" height="1.6" fill="#c4b8a8"/>
<rect x="219.4" y="123.0" width="1.8" height="1.8" fill="#eee8de"/>
<rect x="22.6" y="110.1" width="1.1" height="1.2" fill="#e6ded2"/>
<rect x="75.8" y="118.3" width="1.5" height="1.6" fill="#8c7c69"/>
<rect x="154.0" y="123.1" width="1.2" height="1.4" fill="#eee8de"/>
<rect x="0.3" y="121.3" width="1.2" height="1.9" fill="#dcd2c4"/>
<rect x="85.3" y="124.1" width="1.7" height="1.8" fill="#5a4c40"/>
<rect x="101.2" y="120.6" width="1.3" height="1.5" fill="#8c7c69"/>
<rect x="14.6" y="119.0" width="1.6" height="1.6" fill="#6a5a4c"/>
<rect x="130.6" y="122.3" width="1.1" height="2.0" fill="#e6ded2"/>
<rect x="159.5" y="123.5" width="1.5" height="1.7" fill="#eee8de"/>
<rect x="43.6" y="127.2" width="1.8" height="1.9" fill="#5a4c40"/>
<rect x="158.2" y="116.2" width="1.5" height="1.9" fill="#dcd2c4"/>
<rect x="222.9" y="119.3" width="1.2" height="1.4" fill="#5a4c40"/>
<rect x="69.8" y="129.7" width="1.6" height="1.4" fill="#eee8de"/>
<rect x="6.7" y="127.8" width="1.8" height="1.6" fill="#c4b8a8"/>
<rect x="214.6" y="133.2" width="1.7" height="1.2" fill="#6a5a4c"/>
<rect x="94.8" y="116.1" width="1.1" height="1.2" fill="#eee8de"/>
<rect x="163.8" y="112.3" width="1.4" height="1.2" fill="#5a4c40"/>
<rect x="90.3" y="114.7" width="1.2" height="1.6" fill="#e6ded2"/>
<rect x="151.5" y="115.4" width="1.3" height="1.4" fill="#eee8de"/>
<rect x="187.5" y="112.5" width="1.8" height="1.8" fill="#dcd2c4"/>
<rect x="49.0" y="116.6" width="1.5" height="1.2" fill="#e6ded2"/>
<rect x="74.2" y="118.7" width="1.4" height="1.5" fill="#e6ded2"/>
<rect x="237.3" y="132.2" width="1.2" height="1.4" fill="#8c7c69"/>
<rect x="235.0" y="132.3" width="1.3" height="2.0" fill="#5a4c40"/>
<rect x="227.8" y="112.3" width="1.5" height="1.9" fill="#dcd2c4"/>
<rect x="205.6" y="125.1" width="1.3" height="1.9" fill="#e6ded2"/>
<rect x="198.4" y="106.9" width="1.4" height="1.9" fill="#e6ded2"/>
<rect x="102.6" y="132.4" width="1.6" height="1.8" fill="#dcd2c4"/>
<rect x="100.9" y="117.3" width="1.6" height="1.5" fill="#eee8de"/>
<rect x="15.4" y="107.4" width="1.5" height="1.6" fill="#eee8de"/>
<rect x="226.6" y="121.1" width="1.4" height="1.5" fill="#dcd2c4"/>
<rect x="82.2" y="119.8" width="1.4" height="1.3" fill="#dcd2c4"/>
<rect x="1.9" y="127.2" width="1.2" height="1.3" fill="#e6ded2"/>
<rect x="117.8" y="106.5" width="1.9" height="1.4" fill="#eee8de"/>
<rect x="131.3" y="110.6" width="1.5" height="1.5" fill="#e6ded2"/>
<rect x="136.3" y="119.8" width="1.4" height="1.8" fill="#6a5a4c"/>
<rect x="95.7" y="133.1" width="1.7" height="1.8" fill="#5a4c40"/>
<rect x="165.1" y="118.9" width="1.6" height="1.6" fill="#6a5a4c"/>
<rect x="126.4" y="133.7" width="1.9" height="1.8" fill="#e6ded2"/>
<rect x="151.0" y="122.8" width="1.9" height="1.1" fill="#eee8de"/>
<rect x="32.5" y="106.2" width="1.6" height="1.9" fill="#8c7c69"/>
<rect x="35.4" y="127.1" width="1.5" height="1.8" fill="#8c7c69"/>
<rect x="200.8" y="118.1" width="1.4" height="1.9" fill="#eee8de"/>
<rect x="215.3" y="127.8" width="1.3" height="1.2" fill="#c4b8a8"/>
<rect x="113.1" y="132.1" width="1.6" height="1.7" fill="#dcd2c4"/>
<rect x="8.2" y="119.4" width="1.4" height="1.2" fill="#eee8de"/>
<rect x="229.0" y="109.5" width="1.5" height="1.3" fill="#c4b8a8"/>
<rect x="122.8" y="111.1" width="1.4" height="1.6" fill="#6a5a4c"/>
<rect x="106.6" y="122.7" width="1.9" height="1.9" fill="#e6ded2"/>
<rect x="203.1" y="112.4" width="1.3" height="1.5" fill="#c4b8a8"/>
<rect x="118.1" y="125.7" width="1.7" height="1.4" fill="#c4b8a8"/>
<rect x="4.8" y="108.5" width="1.3" height="1.8" fill="#e6ded2"/>
<rect x="231.3" y="124.4" width="1.2" height="1.2" fill="#dcd2c4"/>
<rect x="219.9" y="113.4" width="1.2" height="2.0" fill="#c4b8a8"/>
<rect x="142.2" y="109.6" width="1.4" height="1.9" fill="#e6ded2"/>
<rect x="66.5" y="120.7" width="1.7" height="1.4" fill="#c4b8a8"/>
<rect x="33.4" y="113.2" width="2.0" height="1.3" fill="#c4b8a8"/>
<rect x="235.3" y="132.6" width="1.9" height="1.9" fill="#e6ded2"/>
<rect x="160.6" y="115.4" width="1.7" height="1.9" fill="#e6ded2"/>
<rect x="182.3" y="107.6" width="1.5" height="1.6" fill="#e6ded2"/>
<rect x="119.5" y="131.0" width="2.0" height="1.5" fill="#c4b8a8"/>
<rect x="48.8" y="114.9" width="1.5" height="1.2" fill="#dcd2c4"/>
<rect x="186.5" y="116.6" width="1.7" height="1.5" fill="#5a4c40"/>
<rect x="36.7" y="118.4" width="1.8" height="1.7" fill="#5a4c40"/>
<rect x="0.9" y="117.1" width="1.3" height="1.3" fill="#5a4c40"/>
<rect x="237.2" y="129.0" width="1.6" height="1.2" fill="#e6ded2"/>
<rect x="5.1" y="130.3" width="1.6" height="1.8" fill="#6a5a4c"/>
<rect x="42.9" y="108.3" width="1.7" height="1.4" fill="#dcd2c4"/>
<rect x="208.1" y="121.4" width="1.1" height="1.5" fill="#eee8de"/>
<rect x="198.0" y="132.9" width="1.8" height="2.0" fill="#eee8de"/>
<rect x="190.3" y="122.8" width="1.6" height="1.3" fill="#e6ded2"/>
<rect x="150.0" y="116.2" width="1.1" height="1.8" fill="#6a5a4c"/>
<rect x="120.4" y="119.6" width="1.3" height="1.1" fill="#6a5a4c"/>
<rect x="242.8" y="118.9" width="1.9" height="1.5" fill="#dcd2c4"/>
<rect x="135.8" y="131.7" width="1.2" height="1.6" fill="#8c7c69"/>
<rect x="67.3" y="125.3" width="1.2" height="1.4" fill="#eee8de"/>
<rect x="182.3" y="108.6" width="1.6" height="1.4" fill="#dcd2c4"/>
<rect x="83.2" y="133.4" width="1.3" height="1.6" fill="#5a4c40"/>
<rect x="79.5" y="120.7" width="1.5" height="1.7" fill="#8c7c69"/>
<rect x="119.7" y="120.7" width="1.3" height="1.6" fill="#dcd2c4"/>
<rect x="100.0" y="131.0" width="2.0" height="1.8" fill="#e6ded2"/>
<rect x="171.7" y="122.7" width="1.9" height="1.8" fill="#dcd2c4"/>
<rect x="84.9" y="112.9" width="1.2" height="1.8" fill="#6a5a4c"/>
<rect x="189.9" y="110.4" width="1.6" height="1.7" fill="#6a5a4c"/>
<rect x="113.6" y="116.7" width="1.4" height="2.0" fill="#dcd2c4"/>
<rect x="240.3" y="116.8" width="1.2" height="1.7" fill="#8c7c69"/>
<rect x="23.3" y="110.8" width="1.5" height="1.5" fill="#e6ded2"/>
<rect x="162.8" y="131.3" width="2.0" height="1.9" fill="#c4b8a8"/>
<rect x="62.0" y="129.1" width="1.2" height="1.6" fill="#dcd2c4"/>
<rect x="118.2" y="120.4" width="1.7" height="1.3" fill="#c4b8a8"/>
<rect x="129.1" y="106.0" width="1.8" height="1.2" fill="#e6ded2"/>
<rect x="200.5" y="119.9" width="1.5" height="1.1" fill="#c4b8a8"/>
<rect x="65.8" y="124.2" width="1.1" height="1.5" fill="#dcd2c4"/>
<rect x="80.4" y="110.9" width="1.5" height="1.7" fill="#e6ded2"/>
<rect x="141.8" y="117.6" width="1.6" height="1.3" fill="#8c7c69"/>
<rect x="168.6" y="114.2" width="1.2" height="1.5" fill="#5a4c40"/>
<rect x="46.6" y="106.0" width="2.0" height="1.8" fill="#e6ded2"/>
<rect x="144.3" y="107.7" width="1.2" height="1.1" fill="#6a5a4c"/>
<rect x="81.9" y="116.9" width="2.0" height="1.3" fill="#dcd2c4"/>
<rect x="54.2" y="110.1" width="1.1" height="1.5" fill="#eee8de"/>
<rect x="101.4" y="121.3" width="1.9" height="1.4" fill="#5a4c40"/>
<rect x="130.5" y="108.9" width="1.1" height="1.6" fill="#e6ded2"/>
<rect x="126.1" y="112.8" width="1.2" height="1.4" fill="#e6ded2"/>
<rect x="204.1" y="126.4" width="1.3" height="1.2" fill="#eee8de"/>
<rect x="224.3" y="131.9" width="1.6" height="1.1" fill="#8c7c69"/>
<rect x="208.4" y="112.1" width="1.3" height="1.7" fill="#dcd2c4"/>
<rect x="215.7" y="115.9" width="1.2" height="1.4" fill="#5a4c40"/>
<rect x="232.3" y="112.7" width="1.9" height="1.3" fill="#8c7c69"/>
<rect x="130.9" y="107.6" width="1.5" height="1.8" fill="#8c7c69"/>
<rect x="107.9" y="109.5" width="1.6" height="1.8" fill="#8c7c69"/>
<rect x="0.9" y="121.5" width="1.6" height="1.7" fill="#5a4c40"/>
<rect x="170.2" y="112.3" width="1.3" height="1.5" fill="#8c7c69"/>
<rect x="54.7" y="133.7" width="1.6" height="1.4" fill="#e6ded2"/>
<rect x="12.2" y="109.4" width="1.9" height="1.9" fill="#c4b8a8"/>
<rect x="95.5" y="133.6" width="1.3" height="1.8" fill="#6a5a4c"/>
<rect x="51.1" y="106.1" width="1.2" height="1.2" fill="#e6ded2"/>
<path d="M60,137 Q110,130 150,122 L180,117 L195,117 L198,124 L193,135 L150,135 Q110,137 80,140 Z" fill="#e4ddd4"/>
<path d="M128,126 L190,118 L196,122 L190,134 L132,135 Z" fill="#efebe6"/>
<rect x="172.5" y="119" width="19" height="5.5" fill="#9e5248"/>
<line x1="200" y1="114.0" x2="244" y2="106.0" stroke="#4c4238" stroke-width="2.1"/>
<line x1="200" y1="112.4" x2="244" y2="104.4" stroke="#9a8c7a" stroke-width=".7"/>
<line x1="191" y1="118.6" x2="244" y2="111.8" stroke="#4c4238" stroke-width="2.1"/>
<line x1="191" y1="117.0" x2="244" y2="110.2" stroke="#9a8c7a" stroke-width=".7"/>
<line x1="182" y1="123.2" x2="244" y2="117.6" stroke="#4c4238" stroke-width="2.1"/>
<line x1="182" y1="121.6" x2="244" y2="116.0" stroke="#9a8c7a" stroke-width=".7"/>
<line x1="173" y1="127.8" x2="244" y2="123.4" stroke="#4c4238" stroke-width="2.1"/>
<line x1="173" y1="126.2" x2="244" y2="121.8" stroke="#9a8c7a" stroke-width=".7"/>
<line x1="164" y1="132.4" x2="244" y2="129.2" stroke="#4c4238" stroke-width="2.1"/>
<line x1="164" y1="130.8" x2="244" y2="127.6" stroke="#9a8c7a" stroke-width=".7"/>
<line x1="155" y1="137.0" x2="244" y2="135.0" stroke="#4c4238" stroke-width="2.1"/>
<line x1="155" y1="135.4" x2="244" y2="133.4" stroke="#9a8c7a" stroke-width=".7"/>
<line x1="146" y1="141.6" x2="244" y2="140.8" stroke="#4c4238" stroke-width="2.1"/>
<line x1="146" y1="140.0" x2="244" y2="139.2" stroke="#9a8c7a" stroke-width=".7"/>
<line x1="137" y1="146.2" x2="244" y2="146.6" stroke="#4c4238" stroke-width="2.1"/>
<line x1="137" y1="144.6" x2="244" y2="145.0" stroke="#9a8c7a" stroke-width=".7"/>
<line x1="128" y1="150.8" x2="244" y2="152.4" stroke="#4c4238" stroke-width="2.1"/>
<line x1="128" y1="149.2" x2="244" y2="150.8" stroke="#9a8c7a" stroke-width=".7"/>
<path d="M0,131 L60,136 L150,135 L200,131 L267,128 L267,170 L0,170 Z" fill="url(#dark)"/>
<rect x="226.3" y="160.3" width="1.4" height="1.9" fill="#2e2520"/>
<rect x="36.6" y="136.5" width="1.5" height="1.6" fill="#3c322a"/>
<rect x="36.6" y="142.3" width="1.1" height="1.4" fill="#2e2520"/>
<rect x="168.9" y="137.4" width="1.8" height="1.6" fill="#4c4036"/>
<rect x="222.9" y="160.2" width="1.7" height="1.2" fill="#6a5a4a"/>
<rect x="53.8" y="147.1" width="1.4" height="1.4" fill="#4c4036"/>
<rect x="77.3" y="146.7" width="1.8" height="1.9" fill="#4c4036"/>
<rect x="235.6" y="163.4" width="1.2" height="1.6" fill="#2e2520"/>
<rect x="263.7" y="162.2" width="1.5" height="1.6" fill="#3c322a"/>
<rect x="152.0" y="134.2" width="1.4" height="1.1" fill="#857460"/>
<rect x="128.1" y="139.1" width="1.1" height="1.3" fill="#3c322a"/>
<rect x="117.8" y="133.9" width="1.7" height="1.5" fill="#857460"/>
<rect x="219.8" y="155.1" width="1.6" height="1.1" fill="#3c322a"/>
<rect x="21.2" y="146.4" width="1.1" height="1.7" fill="#3c322a"/>
<rect x="19.6" y="147.1" width="1.6" height="1.7" fill="#3c322a"/>
<rect x="156.2" y="154.0" width="1.6" height="1.0" fill="#4c4036"/>
<rect x="92.7" y="135.3" width="1.7" height="1.1" fill="#2e2520"/>
<rect x="69.3" y="133.6" width="1.5" height="1.4" fill="#3c322a"/>
<rect x="55.2" y="139.0" width="1.0" height="1.0" fill="#857460"/>
<rect x="41.1" y="132.5" width="1.5" height="1.2" fill="#3c322a"/>
<rect x="53.5" y="165.2" width="1.5" height="1.7" fill="#3c322a"/>
<rect x="77.3" y="157.8" width="1.2" height="1.8" fill="#9a8a76"/>
<rect x="56.5" y="150.7" width="1.2" height="1.5" fill="#2e2520"/>
<rect x="68.7" y="154.0" width="1.3" height="1.1" fill="#2e2520"/>
<rect x="155.5" y="140.4" width="1.1" height="1.2" fill="#9a8a76"/>
<rect x="37.9" y="157.7" width="1.2" height="1.3" fill="#2e2520"/>
<rect x="221.2" y="160.4" width="1.9" height="1.5" fill="#4c4036"/>
<rect x="166.2" y="151.8" width="1.3" height="1.3" fill="#3c322a"/>
<rect x="75.8" y="165.7" width="1.4" height="1.1" fill="#4c4036"/>
<rect x="177.6" y="140.3" width="1.1" height="1.1" fill="#3c322a"/>
<rect x="78.8" y="162.3" width="1.7" height="1.0" fill="#4c4036"/>
<rect x="148.9" y="150.8" width="1.2" height="1.1" fill="#857460"/>
<rect x="83.4" y="135.6" width="1.8" height="1.0" fill="#857460"/>
<rect x="138.4" y="147.4" width="1.2" height="1.7" fill="#2e2520"/>
<rect x="185.3" y="155.2" width="1.7" height="1.0" fill="#9a8a76"/>
<rect x="21.3" y="149.8" width="1.2" height="1.6" fill="#3c322a"/>
<rect x="212.4" y="158.7" width="1.4" height="1.1" fill="#3c322a"/>
<rect x="123.9" y="155.4" width="1.2" height="1.7" fill="#3c322a"/>
<rect x="248.8" y="142.2" width="1.2" height="1.7" fill="#4c4036"/>
<rect x="77.0" y="144.7" width="1.4" height="1.7" fill="#9a8a76"/>
<rect x="146.6" y="144.1" width="1.1" height="1.5" fill="#3c322a"/>
<rect x="265.8" y="153.1" width="1.3" height="1.1" fill="#2e2520"/>
<rect x="84.6" y="157.6" width="1.8" height="1.2" fill="#857460"/>
<rect x="265.1" y="148.5" width="1.8" height="1.6" fill="#6a5a4a"/>
<rect x="178.1" y="151.0" width="1.1" height="1.6" fill="#9a8a76"/>
<rect x="13.3" y="148.3" width="1.7" height="1.7" fill="#857460"/>
<rect x="136.5" y="144.2" width="1.1" height="1.8" fill="#4c4036"/>
<rect x="216.5" y="138.2" width="1.5" height="1.2" fill="#6a5a4a"/>
<rect x="23.7" y="161.2" width="1.0" height="1.9" fill="#857460"/>
<rect x="20.7" y="158.7" width="1.9" height="1.8" fill="#6a5a4a"/>
<rect x="117.8" y="161.6" width="1.1" height="1.5" fill="#857460"/>
<rect x="218.3" y="132.1" width="1.5" height="1.4" fill="#4c4036"/>
<rect x="254.9" y="152.4" width="1.2" height="1.5" fill="#3c322a"/>
<rect x="12.4" y="154.0" width="1.4" height="1.3" fill="#4c4036"/>
<rect x="118.3" y="139.1" width="1.2" height="1.3" fill="#6a5a4a"/>
<rect x="124.5" y="153.7" width="1.6" height="1.8" fill="#4c4036"/>
<rect x="63.3" y="165.2" width="1.5" height="1.3" fill="#6a5a4a"/>
<rect x="116.0" y="165.6" width="1.4" height="1.9" fill="#3c322a"/>
<rect x="229.7" y="141.0" width="1.8" height="1.4" fill="#857460"/>
<rect x="112.9" y="136.9" width="1.8" height="1.4" fill="#4c4036"/>
<rect x="253.6" y="157.3" width="1.1" height="1.9" fill="#2e2520"/>
<rect x="140.6" y="161.7" width="1.8" height="1.9" fill="#4c4036"/>
<rect x="247.4" y="135.6" width="1.4" height="1.9" fill="#6a5a4a"/>
<rect x="3.4" y="133.8" width="1.3" height="1.4" fill="#3c322a"/>
<rect x="173.1" y="161.1" width="1.5" height="1.8" fill="#9a8a76"/>
<rect x="159.9" y="148.2" width="1.3" height="1.6" fill="#857460"/>
<rect x="246.8" y="148.4" width="1.2" height="1.4" fill="#857460"/>
<rect x="73.0" y="152.0" width="1.1" height="1.2" fill="#4c4036"/>
<rect x="88.3" y="145.5" width="1.1" height="1.0" fill="#3c322a"/>
<rect x="70.2" y="161.9" width="1.0" height="1.2" fill="#857460"/>
<rect x="121.5" y="149.3" width="1.2" height="1.1" fill="#9a8a76"/>
<rect x="264.6" y="161.1" width="1.1" height="1.0" fill="#2e2520"/>
<rect x="52.3" y="141.0" width="1.7" height="1.4" fill="#4c4036"/>
<rect x="123.4" y="161.3" width="1.5" height="1.2" fill="#9a8a76"/>
<rect x="143.7" y="155.9" width="1.8" height="1.7" fill="#4c4036"/>
<rect x="5.1" y="159.6" width="1.8" height="1.1" fill="#4c4036"/>
<rect x="49.3" y="151.1" width="1.3" height="1.8" fill="#857460"/>
<rect x="245.7" y="156.9" width="1.6" height="1.2" fill="#2e2520"/>
<rect x="131.4" y="145.6" width="1.1" height="1.6" fill="#6a5a4a"/>
<rect x="183.6" y="142.8" width="1.5" height="1.3" fill="#857460"/>
<rect x="58.5" y="144.0" width="1.7" height="1.3" fill="#4c4036"/>
<rect x="122.3" y="151.8" width="1.8" height="1.0" fill="#6a5a4a"/>
<rect x="159.5" y="146.6" width="1.6" height="1.4" fill="#6a5a4a"/>
<rect x="147.1" y="135.6" width="1.4" height="1.2" fill="#6a5a4a"/>
<rect x="114.6" y="152.3" width="1.1" height="1.3" fill="#3c322a"/>
<rect x="168.1" y="136.0" width="1.2" height="1.1" fill="#2e2520"/>
<rect x="36.5" y="151.0" width="1.3" height="1.7" fill="#9a8a76"/>
<rect x="132.4" y="137.8" width="1.5" height="1.4" fill="#857460"/>
<rect x="62.2" y="158.5" width="1.7" height="1.2" fill="#3c322a"/>
<rect x="4.7" y="151.4" width="1.2" height="1.5" fill="#4c4036"/>
<rect x="18.2" y="138.4" width="1.5" height="1.5" fill="#857460"/>
<rect x="111.4" y="153.6" width="1.5" height="1.4" fill="#857460"/>
<rect x="224.8" y="150.1" width="1.8" height="1.9" fill="#9a8a76"/>
<rect x="241.7" y="149.9" width="1.5" height="1.1" fill="#6a5a4a"/>
<rect x="66.3" y="152.8" width="1.5" height="1.5" fill="#857460"/>
<rect x="240.5" y="137.9" width="1.8" height="1.0" fill="#4c4036"/>
<rect x="85.1" y="142.7" width="1.4" height="1.4" fill="#9a8a76"/>
<rect x="240.1" y="132.7" width="1.5" height="1.8" fill="#3c322a"/>
<rect x="259.5" y="147.3" width="1.4" height="1.6" fill="#6a5a4a"/>
<rect x="55.6" y="141.1" width="1.2" height="1.7" fill="#857460"/>
<rect x="97.2" y="132.4" width="1.3" height="1.4" fill="#4c4036"/>
<rect x="20.1" y="165.9" width="1.1" height="1.6" fill="#2e2520"/>
<rect x="174.8" y="137.3" width="1.8" height="1.3" fill="#9a8a76"/>
<rect x="179.9" y="160.0" width="1.8" height="1.2" fill="#3c322a"/>
<rect x="241.2" y="157.7" width="1.2" height="1.3" fill="#9a8a76"/>
<rect x="77.2" y="154.7" width="1.1" height="1.2" fill="#2e2520"/>
<rect x="262.7" y="152.5" width="1.6" height="1.5" fill="#857460"/>
<rect x="250.1" y="156.6" width="1.5" height="1.8" fill="#4c4036"/>
<rect x="139.3" y="157.5" width="1.1" height="1.8" fill="#6a5a4a"/>
<rect x="181.3" y="133.6" width="1.8" height="1.4" fill="#4c4036"/>
<rect x="232.0" y="149.6" width="1.1" height="1.5" fill="#6a5a4a"/>
<rect x="68.2" y="148.0" width="1.4" height="1.3" fill="#3c322a"/>
<rect x="111.8" y="157.4" width="1.2" height="1.4" fill="#9a8a76"/>
<rect x="140.3" y="157.1" width="1.4" height="1.8" fill="#3c322a"/>
<rect x="100.1" y="143.1" width="1.6" height="1.9" fill="#9a8a76"/>
<rect x="225.7" y="140.3" width="1.9" height="1.6" fill="#4c4036"/>
<rect x="23.8" y="135.7" width="1.3" height="1.3" fill="#4c4036"/>
<rect x="89.4" y="144.3" width="1.1" height="1.4" fill="#2e2520"/>
<rect x="77.5" y="158.7" width="1.2" height="1.2" fill="#4c4036"/>
<rect x="234.8" y="156.0" width="1.8" height="1.8" fill="#857460"/>
<rect x="110.3" y="152.2" width="1.1" height="1.3" fill="#6a5a4a"/>
<rect x="106.8" y="144.2" width="1.9" height="1.4" fill="#857460"/>
<rect x="2.6" y="156.6" width="1.0" height="1.1" fill="#9a8a76"/>
<rect x="85.3" y="155.4" width="1.1" height="1.5" fill="#9a8a76"/>
<rect x="119.9" y="141.2" width="1.3" height="1.9" fill="#6a5a4a"/>
<rect x="86.4" y="134.1" width="1.7" height="1.6" fill="#2e2520"/>
<rect x="220.0" y="153.5" width="1.7" height="1.7" fill="#9a8a76"/>
<rect x="180.1" y="135.1" width="1.0" height="1.2" fill="#6a5a4a"/>
<rect x="62.2" y="146.3" width="1.6" height="1.3" fill="#9a8a76"/>
<rect x="140.0" y="157.8" width="1.1" height="1.1" fill="#9a8a76"/>
<rect x="129.4" y="150.1" width="1.6" height="1.1" fill="#857460"/>
<rect x="209.6" y="149.2" width="1.5" height="1.3" fill="#2e2520"/>
<rect x="184.0" y="133.2" width="1.2" height="1.9" fill="#9a8a76"/>
<rect x="115.4" y="150.3" width="1.1" height="1.1" fill="#6a5a4a"/>
<rect x="267.0" y="150.5" width="1.7" height="1.5" fill="#857460"/>
<rect x="27.8" y="163.9" width="1.4" height="1.9" fill="#3c322a"/>
<rect x="11.2" y="142.0" width="1.1" height="1.7" fill="#857460"/>
<rect x="86.1" y="140.2" width="1.3" height="1.7" fill="#6a5a4a"/>
<rect x="104.8" y="132.1" width="1.1" height="1.0" fill="#6a5a4a"/>
<rect x="145.3" y="164.0" width="1.5" height="1.6" fill="#2e2520"/>
<rect x="154.3" y="159.0" width="1.6" height="1.1" fill="#6a5a4a"/>
<rect x="120.0" y="155.0" width="1.7" height="1.4" fill="#4c4036"/>
<rect x="140.5" y="133.9" width="1.2" height="1.6" fill="#4c4036"/>
<rect x="260.4" y="165.0" width="1.7" height="1.3" fill="#3c322a"/>
<rect x="205.8" y="164.9" width="1.3" height="1.4" fill="#857460"/>
<rect x="6.8" y="147.9" width="1.2" height="1.5" fill="#9a8a76"/>
<rect x="40.0" y="134.8" width="1.6" height="1.4" fill="#9a8a76"/>
<rect x="12.1" y="159.5" width="1.7" height="1.3" fill="#2e2520"/>
<rect x="110.0" y="138.1" width="1.2" height="1.7" fill="#3c322a"/>
<rect x="255.4" y="160.7" width="1.6" height="1.4" fill="#4c4036"/>
<rect x="126.4" y="135.7" width="1.8" height="1.2" fill="#4c4036"/>
<rect x="44.3" y="141.1" width="1.2" height="1.2" fill="#2e2520"/>
<rect x="241.3" y="134.0" width="1.2" height="1.7" fill="#9a8a76"/>
<rect x="113.0" y="147.5" width="1.8" height="1.6" fill="#857460"/>
<rect x="257.3" y="155.8" width="1.7" height="1.9" fill="#6a5a4a"/>
<rect x="195.5" y="157.4" width="1.5" height="1.1" fill="#9a8a76"/>
<rect x="79.4" y="133.2" width="1.6" height="1.2" fill="#2e2520"/>
<rect x="263.8" y="156.8" width="1.5" height="1.6" fill="#857460"/>
<rect x="110.4" y="161.0" width="1.6" height="1.2" fill="#2e2520"/>
<rect x="205.3" y="161.4" width="1.3" height="1.7" fill="#857460"/>
<rect x="200.5" y="132.3" width="1.2" height="1.3" fill="#2e2520"/>
<rect x="197.4" y="144.8" width="1.2" height="1.4" fill="#4c4036"/>
<rect x="20.4" y="161.0" width="1.9" height="1.8" fill="#3c322a"/>
<rect x="217.7" y="151.6" width="1.7" height="1.5" fill="#857460"/>
<rect x="134.2" y="165.2" width="1.4" height="1.4" fill="#9a8a76"/>
<rect x="261.0" y="143.4" width="1.4" height="1.1" fill="#857460"/>
<rect x="239.3" y="161.9" width="1.3" height="1.0" fill="#3c322a"/>
<rect x="123.5" y="163.6" width="1.6" height="1.8" fill="#3c322a"/>
<rect x="202.8" y="137.7" width="1.6" height="1.4" fill="#4c4036"/>
<rect x="227.6" y="165.0" width="1.8" height="1.3" fill="#2e2520"/>
<rect x="85.6" y="133.9" width="1.7" height="1.7" fill="#4c4036"/>
<rect x="209.9" y="134.2" width="1.3" height="1.4" fill="#6a5a4a"/>
<rect x="127.4" y="161.3" width="1.6" height="1.3" fill="#857460"/>
<rect x="13.5" y="133.0" width="1.5" height="1.5" fill="#3c322a"/>
<rect x="264.3" y="148.7" width="1.4" height="1.1" fill="#4c4036"/>
<rect x="59.6" y="137.3" width="1.4" height="1.3" fill="#3c322a"/>
<rect x="264.6" y="165.4" width="1.2" height="1.4" fill="#6a5a4a"/>
<rect x="199.1" y="138.9" width="1.5" height="1.7" fill="#9a8a76"/>
<rect x="141.7" y="163.0" width="1.9" height="1.7" fill="#6a5a4a"/>
<rect x="1.2" y="144.0" width="1.1" height="1.9" fill="#2e2520"/>
<rect x="179.8" y="164.3" width="1.7" height="1.5" fill="#3c322a"/>
<rect x="131.4" y="144.7" width="1.9" height="1.2" fill="#857460"/>
<rect x="232.8" y="142.1" width="1.0" height="1.9" fill="#857460"/>
<rect x="149.1" y="139.2" width="1.8" height="1.8" fill="#6a5a4a"/>
<rect x="126.4" y="154.0" width="1.0" height="1.8" fill="#6a5a4a"/>
<rect x="25.5" y="153.0" width="1.6" height="1.7" fill="#857460"/>
<rect x="210.6" y="164.0" width="1.8" height="1.5" fill="#2e2520"/>
<rect x="77.9" y="136.2" width="1.1" height="1.2" fill="#857460"/>
<rect x="151.2" y="137.8" width="1.1" height="1.1" fill="#857460"/>
<rect x="106.7" y="156.5" width="1.6" height="1.4" fill="#2e2520"/>
<rect x="32.0" y="135.5" width="1.8" height="1.2" fill="#3c322a"/>
<rect x="153.7" y="139.4" width="1.1" height="1.7" fill="#3c322a"/>
<rect x="185.7" y="144.6" width="1.5" height="1.7" fill="#2e2520"/>
<rect x="22.7" y="153.3" width="1.1" height="1.5" fill="#857460"/>
<rect x="52.6" y="147.6" width="1.0" height="1.5" fill="#2e2520"/>
<rect x="84.4" y="145.5" width="1.6" height="1.5" fill="#857460"/>
<rect x="155.8" y="142.6" width="1.6" height="1.0" fill="#3c322a"/>
<rect x="119.8" y="137.9" width="1.3" height="1.6" fill="#2e2520"/>
<rect x="172.0" y="146.7" width="1.6" height="1.9" fill="#9a8a76"/>
<rect x="121.8" y="164.7" width="1.2" height="1.2" fill="#3c322a"/>
<rect x="67.9" y="153.4" width="1.5" height="1.0" fill="#4c4036"/>
<rect x="63.9" y="132.9" width="1.6" height="1.8" fill="#9a8a76"/>
<rect x="228.3" y="139.2" width="1.3" height="1.5" fill="#3c322a"/>
<rect x="135.2" y="141.1" width="1.8" height="1.4" fill="#857460"/>
<rect x="22.6" y="134.0" width="1.5" height="1.1" fill="#4c4036"/>
<rect x="256.1" y="137.0" width="1.9" height="1.6" fill="#2e2520"/>
<rect x="113.1" y="146.5" width="1.2" height="1.7" fill="#4c4036"/>
<rect x="128.2" y="132.2" width="1.5" height="1.3" fill="#9a8a76"/>
<rect x="246.8" y="162.1" width="1.4" height="1.7" fill="#6a5a4a"/>
<rect x="244.3" y="143.6" width="1.1" height="1.1" fill="#4c4036"/>
<rect x="93.8" y="137.9" width="1.4" height="1.1" fill="#9a8a76"/>
<rect x="8.3" y="148.2" width="1.7" height="1.0" fill="#3c322a"/>
<rect x="242.6" y="156.7" width="1.6" height="1.7" fill="#9a8a76"/>
<rect x="126.9" y="161.2" width="1.7" height="1.8" fill="#857460"/>
<rect x="142.6" y="164.0" width="1.3" height="1.2" fill="#3c322a"/>
<rect x="154.1" y="139.5" width="1.3" height="1.4" fill="#6a5a4a"/>
<rect x="55.8" y="153.1" width="1.4" height="1.6" fill="#857460"/>
<rect x="92.5" y="163.7" width="1.4" height="1.3" fill="#3c322a"/>
<rect x="164.5" y="152.9" width="1.6" height="1.5" fill="#3c322a"/>
<rect x="69.9" y="155.5" width="1.8" height="1.2" fill="#9a8a76"/>
<rect x="126.2" y="164.2" width="1.8" height="1.9" fill="#2e2520"/>
<rect x="62.0" y="159.8" width="1.8" height="1.2" fill="#857460"/>
<rect x="239.8" y="137.5" width="1.2" height="1.8" fill="#9a8a76"/>
<rect x="246.6" y="135.1" width="1.9" height="1.3" fill="#3c322a"/>
<rect x="7.0" y="148.5" width="1.5" height="1.3" fill="#4c4036"/>
<rect x="211.3" y="165.2" width="1.1" height="1.6" fill="#9a8a76"/>
<rect x="73.4" y="149.6" width="1.7" height="1.3" fill="#4c4036"/>
<rect x="76.3" y="155.1" width="1.6" height="1.3" fill="#2e2520"/>
<rect x="23.1" y="155.3" width="1.7" height="1.1" fill="#3c322a"/>
<rect x="9.0" y="141.3" width="1.1" height="1.6" fill="#2e2520"/>
<rect x="6.3" y="161.7" width="1.7" height="1.7" fill="#6a5a4a"/>
<rect x="39.5" y="162.9" width="1.5" height="1.5" fill="#9a8a76"/>
<rect x="250.3" y="161.0" width="1.5" height="1.9" fill="#2e2520"/>
<rect x="210.7" y="151.2" width="1.6" height="1.0" fill="#4c4036"/>
<rect x="21.3" y="142.9" width="1.6" height="1.8" fill="#2e2520"/>
<rect x="84.0" y="146.1" width="1.3" height="1.2" fill="#2e2520"/>
<rect x="2.3" y="134.3" width="1.7" height="1.5" fill="#4c4036"/>
<rect x="137.4" y="155.8" width="1.2" height="1.7" fill="#3c322a"/>
<rect x="225.0" y="137.3" width="1.6" height="1.2" fill="#4c4036"/>
<rect x="22.8" y="151.1" width="1.2" height="1.6" fill="#6a5a4a"/>
<rect x="172.6" y="146.3" width="1.5" height="1.1" fill="#4c4036"/>
<rect x="138.9" y="133.9" width="1.7" height="1.6" fill="#2e2520"/>
<rect x="265.4" y="145.7" width="1.1" height="1.5" fill="#2e2520"/>
<rect x="75.3" y="147.3" width="1.5" height="1.6" fill="#857460"/>
<rect x="89.5" y="143.9" width="1.2" height="1.7" fill="#6a5a4a"/>
<rect x="11.2" y="133.0" width="1.3" height="1.4" fill="#9a8a76"/>
<rect x="116.9" y="159.7" width="1.4" height="1.5" fill="#6a5a4a"/>
<rect x="221.6" y="147.2" width="1.2" height="1.6" fill="#4c4036"/>
<rect x="67.5" y="141.9" width="1.3" height="1.2" fill="#3c322a"/>
<rect x="102.3" y="139.4" width="1.8" height="1.6" fill="#4c4036"/>
<rect x="183.3" y="162.2" width="1.1" height="1.2" fill="#6a5a4a"/>
<rect x="151.4" y="144.9" width="1.2" height="1.8" fill="#2e2520"/>
<rect x="4.6" y="132.9" width="1.3" height="1.4" fill="#2e2520"/>
<rect x="85.8" y="152.8" width="1.0" height="1.5" fill="#857460"/>
<rect x="85.1" y="137.9" width="1.8" height="1.1" fill="#857460"/>
<rect x="84.4" y="157.5" width="1.1" height="1.1" fill="#6a5a4a"/>
<rect x="196.6" y="144.1" width="1.9" height="1.9" fill="#9a8a76"/>
<rect x="201.6" y="150.0" width="1.4" height="1.1" fill="#6a5a4a"/>
<rect x="230.4" y="165.9" width="1.7" height="1.2" fill="#2e2520"/>
<rect x="163.6" y="133.3" width="1.2" height="1.9" fill="#9a8a76"/>
<rect x="197.7" y="154.5" width="1.0" height="1.8" fill="#6a5a4a"/>
<rect x="84.1" y="157.4" width="1.4" height="1.1" fill="#9a8a76"/>
<rect x="223.0" y="145.4" width="1.8" height="1.2" fill="#6a5a4a"/>
<rect x="194.5" y="156.9" width="1.7" height="1.6" fill="#9a8a76"/>
<rect x="258.6" y="159.8" width="1.4" height="1.1" fill="#6a5a4a"/>
<rect x="204.3" y="161.5" width="1.8" height="1.4" fill="#3c322a"/>
<rect x="166.1" y="149.1" width="1.7" height="1.3" fill="#857460"/>
<rect x="117.5" y="161.6" width="1.6" height="1.5" fill="#6a5a4a"/>
<rect x="145.5" y="137.9" width="1.7" height="1.8" fill="#4c4036"/>
<rect x="129.0" y="154.7" width="1.8" height="1.4" fill="#857460"/>
<rect x="192.3" y="151.3" width="1.3" height="1.3" fill="#6a5a4a"/>
<rect x="209.0" y="164.1" width="1.1" height="1.5" fill="#9a8a76"/>
<rect x="83.2" y="137.2" width="1.1" height="1.3" fill="#6a5a4a"/>
<rect x="190.4" y="143.3" width="1.4" height="1.7" fill="#2e2520"/>
<rect x="32.1" y="146.8" width="1.3" height="1.7" fill="#6a5a4a"/>
<rect x="168.6" y="162.0" width="1.2" height="1.4" fill="#6a5a4a"/>
<rect x="171.8" y="155.8" width="1.5" height="1.5" fill="#4c4036"/>
<rect x="227.7" y="165.2" width="1.7" height="1.7" fill="#2e2520"/>
<rect x="193.3" y="134.1" width="1.7" height="1.8" fill="#4c4036"/>
<rect x="99.5" y="140.3" width="1.1" height="1.5" fill="#6a5a4a"/>
<rect x="95.0" y="134.6" width="1.1" height="1.8" fill="#857460"/>
<rect x="13.1" y="155.4" width="1.6" height="1.4" fill="#3c322a"/>
<rect x="66.0" y="140.9" width="1.5" height="1.6" fill="#857460"/>
<rect x="212.0" y="142.7" width="1.3" height="1.4" fill="#6a5a4a"/>
<rect x="135.0" y="161.6" width="1.3" height="1.0" fill="#6a5a4a"/>
<rect x="180.5" y="140.4" width="1.7" height="1.5" fill="#4c4036"/>
<rect x="84.8" y="151.1" width="1.6" height="1.4" fill="#2e2520"/>
<rect x="103.8" y="165.3" width="1.8" height="1.7" fill="#3c322a"/>
<rect x="165.8" y="139.9" width="1.1" height="1.1" fill="#3c322a"/>
<rect x="184.4" y="147.9" width="1.3" height="1.6" fill="#9a8a76"/>
<rect x="226.5" y="141.1" width="1.3" height="1.9" fill="#3c322a"/>
<rect x="171.1" y="153.4" width="1.3" height="1.1" fill="#6a5a4a"/>
<rect x="16.8" y="152.4" width="1.8" height="1.3" fill="#6a5a4a"/>
<rect x="243.3" y="132.0" width="1.2" height="1.1" fill="#6a5a4a"/>
<rect x="42.2" y="158.5" width="1.6" height="1.6" fill="#6a5a4a"/>
<rect x="39.3" y="161.7" width="1.2" height="1.3" fill="#9a8a76"/>
<rect x="4.9" y="155.8" width="1.0" height="1.5" fill="#6a5a4a"/>
<rect x="148.9" y="156.3" width="1.7" height="1.1" fill="#3c322a"/>
<rect x="166.4" y="145.3" width="1.2" height="1.3" fill="#4c4036"/>
<rect x="227.8" y="143.2" width="1.4" height="1.8" fill="#857460"/>
<rect x="264.3" y="158.6" width="1.6" height="1.7" fill="#4c4036"/>
<rect x="204.6" y="133.4" width="1.7" height="1.7" fill="#2e2520"/>
<rect x="121.8" y="133.5" width="1.7" height="1.1" fill="#3c322a"/>
<rect x="20.7" y="136.1" width="1.9" height="1.9" fill="#4c4036"/>
<rect x="147.4" y="132.1" width="1.2" height="1.7" fill="#857460"/>
<rect x="173.3" y="164.8" width="1.8" height="1.8" fill="#6a5a4a"/>
<rect x="21.6" y="151.0" width="1.3" height="1.0" fill="#9a8a76"/>
<rect x="203.5" y="158.7" width="1.6" height="1.4" fill="#3c322a"/>
<rect x="262.7" y="147.0" width="1.0" height="1.2" fill="#9a8a76"/>
<rect x="232.6" y="156.1" width="1.4" height="1.8" fill="#4c4036"/>
<rect x="204.2" y="164.4" width="1.8" height="1.4" fill="#2e2520"/>
<rect x="115.3" y="160.8" width="1.0" height="1.3" fill="#6a5a4a"/>
<rect x="55.1" y="153.4" width="1.1" height="1.8" fill="#2e2520"/>
<rect x="243.0" y="135.9" width="1.3" height="1.4" fill="#9a8a76"/>
<rect x="197.1" y="165.7" width="1.8" height="1.5" fill="#9a8a76"/>
<rect x="213.6" y="160.0" width="1.6" height="1.1" fill="#6a5a4a"/>
<rect x="42.0" y="133.0" width="1.6" height="1.7" fill="#4c4036"/>
<rect x="49.6" y="159.8" width="1.3" height="1.7" fill="#9a8a76"/>
<rect x="99.9" y="164.5" width="1.4" height="1.9" fill="#857460"/>
<rect x="222.5" y="164.2" width="1.1" height="1.6" fill="#3c322a"/>
<rect x="114.4" y="135.1" width="1.6" height="1.7" fill="#2e2520"/>
<rect x="85.5" y="163.0" width="1.0" height="1.8" fill="#2e2520"/>
<rect x="77.6" y="155.1" width="1.1" height="1.4" fill="#9a8a76"/>
<rect x="110.5" y="134.2" width="1.8" height="1.4" fill="#6a5a4a"/>
<rect x="9.5" y="137.5" width="1.2" height="1.7" fill="#2e2520"/>
<rect x="92.0" y="148.0" width="1.1" height="1.6" fill="#2e2520"/>
<rect x="229.3" y="140.2" width="1.7" height="1.3" fill="#857460"/>
<rect x="176.1" y="134.4" width="1.4" height="1.4" fill="#857460"/>
<rect x="69.2" y="147.8" width="1.3" height="1.9" fill="#857460"/>
<rect x="220.9" y="155.1" width="1.2" height="1.1" fill="#6a5a4a"/>
<rect x="53.3" y="161.5" width="1.5" height="1.4" fill="#857460"/>
<rect x="186.6" y="144.5" width="1.7" height="1.5" fill="#3c322a"/>
<rect x="133.9" y="153.6" width="1.6" height="1.6" fill="#4c4036"/>
<rect x="229.6" y="139.0" width="1.5" height="1.5" fill="#4c4036"/>
<rect x="210.0" y="132.9" width="1.5" height="1.9" fill="#6a5a4a"/>
<rect x="120.1" y="164.8" width="1.7" height="1.8" fill="#3c322a"/>
<rect x="77.5" y="147.5" width="1.4" height="1.4" fill="#2e2520"/>
<rect x="120.4" y="148.3" width="1.9" height="1.5" fill="#4c4036"/>
<rect x="90.2" y="156.3" width="1.6" height="1.8" fill="#857460"/>
<rect x="247.5" y="149.1" width="1.2" height="1.0" fill="#4c4036"/>
<rect x="132.3" y="140.5" width="1.5" height="1.4" fill="#3c322a"/>
<rect x="257.5" y="157.2" width="1.6" height="1.5" fill="#2e2520"/>
<rect x="158.4" y="147.5" width="1.6" height="1.4" fill="#2e2520"/>
<rect x="70.7" y="161.3" width="1.5" height="1.9" fill="#2e2520"/>
<rect x="75.5" y="148.8" width="1.5" height="1.1" fill="#3c322a"/>
<rect x="123.6" y="157.8" width="1.0" height="1.5" fill="#9a8a76"/>
<rect x="148.0" y="141.1" width="1.8" height="1.2" fill="#2e2520"/>
<rect x="112.5" y="156.2" width="1.0" height="1.6" fill="#857460"/>
<rect x="163.1" y="149.4" width="1.3" height="1.1" fill="#857460"/>
<rect x="87.6" y="142.6" width="1.2" height="1.9" fill="#3c322a"/>
<rect x="83.9" y="151.4" width="1.3" height="1.7" fill="#4c4036"/>
<rect x="206.2" y="161.3" width="1.4" height="1.5" fill="#6a5a4a"/>
<rect x="112.5" y="155.6" width="1.5" height="1.6" fill="#6a5a4a"/>
<rect x="237.8" y="148.3" width="1.3" height="1.6" fill="#9a8a76"/>
<rect x="25.9" y="150.1" width="1.7" height="1.4" fill="#2e2520"/>
<rect x="44.6" y="142.1" width="1.2" height="1.3" fill="#3c322a"/>
<rect x="203.5" y="144.7" width="1.0" height="1.5" fill="#4c4036"/>
<rect x="104.4" y="146.6" width="1.6" height="1.2" fill="#3c322a"/>
<rect x="245.9" y="161.9" width="1.1" height="1.8" fill="#4c4036"/>
<rect x="186.5" y="155.0" width="1.4" height="1.3" fill="#2e2520"/>
<rect x="162.3" y="150.2" width="1.5" height="1.5" fill="#3c322a"/>
<rect x="126.3" y="163.9" width="1.3" height="1.5" fill="#3c322a"/>
<rect x="125.5" y="153.7" width="1.1" height="1.1" fill="#857460"/>
<rect x="13.7" y="134.8" width="1.7" height="1.6" fill="#3c322a"/>
<rect x="131.2" y="147.9" width="1.9" height="1.1" fill="#6a5a4a"/>
<rect x="215.1" y="150.8" width="1.1" height="1.4" fill="#9a8a76"/>
<rect x="118.1" y="151.7" width="1.2" height="1.8" fill="#2e2520"/>
<rect x="190.1" y="151.4" width="1.0" height="1.2" fill="#4c4036"/>
<rect x="253.9" y="146.9" width="1.8" height="1.0" fill="#4c4036"/>
<rect x="130.2" y="145.2" width="1.2" height="1.3" fill="#4c4036"/>
<rect x="96.9" y="149.9" width="1.3" height="1.3" fill="#857460"/>
<rect x="234.6" y="133.7" width="1.3" height="1.1" fill="#3c322a"/>
<rect x="38.5" y="136.2" width="1.1" height="1.6" fill="#2e2520"/>
<rect x="102.2" y="160.1" width="1.8" height="1.2" fill="#9a8a76"/>
<rect x="229.8" y="142.3" width="1.5" height="1.5" fill="#4c4036"/>
<rect x="18.2" y="139.0" width="1.9" height="1.5" fill="#857460"/>
<rect x="228.1" y="163.9" width="1.1" height="1.4" fill="#9a8a76"/>
<rect x="71.9" y="151.9" width="1.4" height="1.3" fill="#857460"/>
<rect x="17.9" y="145.2" width="1.6" height="1.8" fill="#857460"/>
<rect x="204.1" y="141.4" width="1.1" height="1.1" fill="#9a8a76"/>
<rect x="137.9" y="135.8" width="1.8" height="1.8" fill="#4c4036"/>
<rect x="64.3" y="150.4" width="1.2" height="1.8" fill="#3c322a"/>
<rect x="244.8" y="146.4" width="1.1" height="1.7" fill="#4c4036"/>
<rect x="175.6" y="141.4" width="1.2" height="1.2" fill="#6a5a4a"/>
<rect x="241.7" y="141.1" width="1.1" height="1.5" fill="#9a8a76"/>
<rect x="69.7" y="142.0" width="1.5" height="1.0" fill="#9a8a76"/>
<rect x="150.6" y="148.2" width="1.4" height="1.1" fill="#857460"/>
<rect x="264.5" y="142.6" width="1.0" height="1.1" fill="#4c4036"/>
<rect x="98.7" y="164.4" width="1.1" height="1.6" fill="#6a5a4a"/>
<rect x="43.5" y="139.8" width="1.5" height="1.5" fill="#9a8a76"/>
<rect x="82.4" y="162.7" width="1.6" height="1.6" fill="#3c322a"/>
<rect x="181.3" y="148.1" width="1.3" height="1.8" fill="#9a8a76"/>
<rect x="88.2" y="142.5" width="1.2" height="1.7" fill="#9a8a76"/>
<rect x="49.1" y="152.5" width="1.0" height="1.7" fill="#4c4036"/>
<rect x="5.1" y="152.5" width="1.8" height="1.5" fill="#3c322a"/>
<rect x="193.3" y="140.6" width="1.7" height="1.4" fill="#9a8a76"/>
<rect x="199.2" y="147.8" width="1.8" height="1.7" fill="#3c322a"/>
<rect x="136.8" y="135.4" width="1.7" height="1.6" fill="#9a8a76"/>
<rect x="19.0" y="149.7" width="1.4" height="1.5" fill="#6a5a4a"/>
<rect x="32.1" y="143.6" width="1.8" height="1.2" fill="#857460"/>
<rect x="237.0" y="150.6" width="1.5" height="1.4" fill="#2e2520"/>
<rect x="150.2" y="150.2" width="1.3" height="1.4" fill="#6a5a4a"/>
<rect x="234.0" y="162.5" width="1.7" height="1.2" fill="#9a8a76"/>
<rect x="7.3" y="154.6" width="1.1" height="1.8" fill="#6a5a4a"/>
<rect x="228.3" y="153.9" width="1.7" height="1.3" fill="#2e2520"/>
<rect x="81.2" y="163.3" width="1.0" height="1.1" fill="#4c4036"/>
<rect x="183.8" y="141.0" width="1.6" height="1.3" fill="#3c322a"/>
<rect x="32.2" y="149.9" width="1.3" height="1.2" fill="#2e2520"/>
<rect x="68.4" y="151.4" width="1.5" height="1.8" fill="#857460"/>
<rect x="162.0" y="163.6" width="1.5" height="1.1" fill="#9a8a76"/>
<rect x="258.7" y="151.7" width="1.5" height="1.7" fill="#3c322a"/>
<rect x="113.6" y="158.0" width="1.1" height="1.0" fill="#9a8a76"/>
<rect x="2.3" y="156.5" width="1.7" height="1.7" fill="#9a8a76"/>
<rect x="28.6" y="142.9" width="1.8" height="1.1" fill="#4c4036"/>
<rect x="150.5" y="156.6" width="1.7" height="1.4" fill="#3c322a"/>
<rect x="57.3" y="159.4" width="1.3" height="1.4" fill="#857460"/>
<rect x="263.5" y="157.3" width="1.5" height="1.1" fill="#2e2520"/>
<rect x="0.6" y="163.9" width="1.2" height="1.6" fill="#4c4036"/>
<rect x="149.2" y="135.9" width="1.2" height="1.7" fill="#2e2520"/>
<rect x="213.1" y="161.1" width="1.3" height="1.8" fill="#3c322a"/>
<rect x="173.6" y="143.9" width="1.7" height="1.3" fill="#857460"/>
<rect x="47.6" y="150.6" width="1.4" height="1.1" fill="#2e2520"/>
<rect x="91.3" y="152.8" width="1.1" height="1.9" fill="#9a8a76"/>
<rect x="207.2" y="142.7" width="1.2" height="1.5" fill="#857460"/>
<rect x="58.3" y="137.2" width="1.8" height="1.5" fill="#9a8a76"/>
<rect x="154.2" y="157.5" width="1.5" height="1.7" fill="#9a8a76"/>
<rect x="138.1" y="161.7" width="1.7" height="1.4" fill="#6a5a4a"/>
<rect x="21.9" y="133.3" width="1.2" height="1.0" fill="#857460"/>
<rect x="262.9" y="133.9" width="1.6" height="1.7" fill="#857460"/>
<rect x="25.4" y="160.2" width="1.3" height="1.2" fill="#3c322a"/>
<rect x="97.6" y="157.4" width="1.6" height="1.8" fill="#3c322a"/>
<rect x="192.2" y="165.8" width="1.2" height="1.7" fill="#6a5a4a"/>
<rect x="219.9" y="158.7" width="1.9" height="1.7" fill="#6a5a4a"/>
<rect x="54.2" y="141.0" width="1.7" height="1.3" fill="#3c322a"/>
<rect x="134.1" y="146.1" width="1.2" height="1.7" fill="#4c4036"/>
<rect x="266.5" y="135.1" width="1.8" height="1.6" fill="#9a8a76"/>
<rect x="82.0" y="145.9" width="1.8" height="1.7" fill="#4c4036"/>
<rect x="231.2" y="145.9" width="1.7" height="1.6" fill="#3c322a"/>
<rect x="8.4" y="143.0" width="1.3" height="1.0" fill="#857460"/>
<rect x="201.1" y="137.6" width="1.4" height="1.8" fill="#2e2520"/>
<rect x="86.4" y="151.7" width="1.8" height="1.5" fill="#3c322a"/>
<rect x="153.1" y="141.8" width="1.1" height="1.4" fill="#2e2520"/>
<rect x="191.7" y="155.7" width="1.6" height="1.8" fill="#4c4036"/>
<rect x="47.3" y="137.3" width="1.9" height="1.7" fill="#857460"/>
<rect x="245.5" y="153.7" width="1.9" height="1.5" fill="#2e2520"/>
<rect x="126.2" y="150.8" width="1.4" height="1.5" fill="#2e2520"/>
<rect x="6.3" y="147.3" width="1.8" height="1.3" fill="#2e2520"/>
<rect x="47.7" y="163.9" width="1.8" height="1.4" fill="#6a5a4a"/>
<rect x="225.2" y="132.6" width="1.7" height="1.8" fill="#9a8a76"/>
<rect x="181.5" y="136.0" width="1.8" height="1.2" fill="#9a8a76"/>
<rect x="201.7" y="153.1" width="1.7" height="1.6" fill="#2e2520"/>
<rect x="237.1" y="138.1" width="1.6" height="1.4" fill="#2e2520"/>
<rect x="240.5" y="157.1" width="1.0" height="1.7" fill="#6a5a4a"/>
<rect x="249.8" y="137.6" width="1.2" height="1.3" fill="#6a5a4a"/>
<rect x="198.0" y="162.0" width="1.5" height="1.2" fill="#3c322a"/>
<rect x="35.5" y="142.7" width="1.3" height="1.4" fill="#9a8a76"/>
<rect x="196.6" y="146.6" width="1.9" height="1.2" fill="#4c4036"/>
<rect x="42.4" y="153.8" width="1.3" height="1.5" fill="#9a8a76"/>
<rect x="193.0" y="143.3" width="1.9" height="1.7" fill="#3c322a"/>
<rect x="184.8" y="136.0" width="1.5" height="1.3" fill="#3c322a"/>
<rect x="84.8" y="149.5" width="1.5" height="1.5" fill="#4c4036"/>
<rect x="201.2" y="138.5" width="1.5" height="1.8" fill="#9a8a76"/>
<rect x="263.1" y="134.8" width="1.3" height="1.3" fill="#857460"/>
<rect x="23.1" y="144.8" width="1.3" height="1.4" fill="#2e2520"/>
<rect x="40.0" y="133.4" width="1.6" height="1.3" fill="#857460"/>
<rect x="120.0" y="144.3" width="1.4" height="1.2" fill="#9a8a76"/>
<rect x="60.5" y="140.3" width="1.5" height="1.7" fill="#4c4036"/>
<rect x="143.4" y="149.8" width="1.6" height="1.3" fill="#2e2520"/>
<rect x="210.4" y="163.1" width="1.0" height="1.1" fill="#4c4036"/>
<rect x="220.6" y="133.6" width="1.5" height="1.2" fill="#6a5a4a"/>
<rect x="34.7" y="166.0" width="1.3" height="1.2" fill="#6a5a4a"/>
<rect x="135.1" y="134.0" width="1.0" height="1.1" fill="#4c4036"/>
<rect x="28.0" y="142.3" width="1.6" height="1.2" fill="#857460"/>
<rect x="96.0" y="148.3" width="1.7" height="1.2" fill="#3c322a"/>
<rect x="157.3" y="157.1" width="1.8" height="1.8" fill="#857460"/>
<rect x="80.7" y="153.5" width="1.5" height="1.4" fill="#9a8a76"/>
<rect x="52.4" y="153.1" width="1.4" height="1.6" fill="#9a8a76"/>
<rect x="216.4" y="155.2" width="1.7" height="1.2" fill="#4c4036"/>
<rect x="92.6" y="135.0" width="1.5" height="1.8" fill="#6a5a4a"/>
<rect x="35.8" y="141.3" width="1.8" height="1.2" fill="#6a5a4a"/>
<rect x="153.1" y="143.3" width="1.3" height="1.3" fill="#857460"/>
<rect x="191.6" y="139.1" width="1.6" height="1.1" fill="#4c4036"/>
<rect x="186.2" y="148.2" width="1.6" height="1.8" fill="#857460"/>
<rect x="155.5" y="138.0" width="1.3" height="1.9" fill="#857460"/>
<rect x="129.4" y="152.8" width="1.5" height="1.4" fill="#857460"/>
<rect x="165.5" y="137.2" width="1.2" height="1.1" fill="#9a8a76"/>
<rect x="238.4" y="158.7" width="1.5" height="1.8" fill="#857460"/>
<rect x="146.2" y="151.4" width="1.1" height="1.1" fill="#9a8a76"/>
<rect x="106.6" y="140.7" width="1.8" height="1.8" fill="#6a5a4a"/>
<rect x="18.7" y="161.1" width="1.5" height="1.0" fill="#6a5a4a"/>
<rect x="27.9" y="165.1" width="1.0" height="1.2" fill="#3c322a"/>
<rect x="210.7" y="133.4" width="1.5" height="1.9" fill="#4c4036"/>
<rect x="28.5" y="134.4" width="1.8" height="1.8" fill="#857460"/>
<rect x="170.5" y="132.8" width="1.1" height="1.7" fill="#6a5a4a"/>
<rect x="72.0" y="163.6" width="1.7" height="1.1" fill="#2e2520"/>
<rect x="163.7" y="142.1" width="1.8" height="1.7" fill="#4c4036"/>
<rect x="12.2" y="164.8" width="1.2" height="1.6" fill="#6a5a4a"/>
<rect x="196.0" y="135.3" width="1.1" height="1.8" fill="#2e2520"/>
<rect x="150.1" y="147.3" width="1.2" height="1.7" fill="#9a8a76"/>
<rect x="200.2" y="136.5" width="1.5" height="1.6" fill="#4c4036"/>
<rect x="241.3" y="159.6" width="1.7" height="1.4" fill="#3c322a"/>
<rect x="264.5" y="153.9" width="1.6" height="1.2" fill="#857460"/>
<rect x="177.8" y="133.2" width="1.4" height="1.1" fill="#6a5a4a"/>
<rect x="48.6" y="149.9" width="1.6" height="1.8" fill="#6a5a4a"/>
<rect x="221.4" y="144.1" width="1.3" height="1.9" fill="#9a8a76"/>
<rect x="130.6" y="155.3" width="1.1" height="1.2" fill="#857460"/>
<rect x="56.5" y="161.6" width="1.1" height="1.5" fill="#2e2520"/>
<rect x="257.1" y="164.4" width="1.6" height="1.1" fill="#3c322a"/>
<rect x="265.1" y="161.3" width="1.8" height="1.9" fill="#4c4036"/>
<rect x="175.3" y="141.3" width="1.2" height="1.9" fill="#3c322a"/>
<rect x="183.8" y="164.9" width="1.2" height="1.2" fill="#2e2520"/>
<rect x="135.9" y="135.8" width="1.4" height="1.0" fill="#4c4036"/>
<rect x="247.8" y="138.9" width="1.2" height="1.1" fill="#3c322a"/>
<rect x="43.9" y="146.2" width="1.5" height="1.0" fill="#3c322a"/>
<rect x="248.6" y="146.6" width="1.2" height="1.7" fill="#2e2520"/>
<rect x="117.0" y="142.2" width="1.3" height="1.3" fill="#4c4036"/>
<rect x="117.3" y="147.0" width="1.4" height="1.4" fill="#2e2520"/>
<rect x="61.7" y="150.1" width="1.5" height="1.2" fill="#2e2520"/>
<rect x="258.8" y="150.7" width="1.1" height="1.8" fill="#2e2520"/>
<rect x="4.6" y="141.8" width="1.8" height="1.4" fill="#4c4036"/>
<rect x="63.0" y="152.8" width="1.6" height="1.4" fill="#6a5a4a"/>
<rect x="263.5" y="156.0" width="1.0" height="1.0" fill="#4c4036"/>
<rect x="171.8" y="132.6" width="1.8" height="1.7" fill="#9a8a76"/>
<rect x="180.3" y="133.0" width="1.8" height="1.3" fill="#6a5a4a"/>
<rect x="147.5" y="154.7" width="1.6" height="1.6" fill="#3c322a"/>
<rect x="188.1" y="143.0" width="1.9" height="1.4" fill="#4c4036"/>
<rect x="172.2" y="165.2" width="1.7" height="1.6" fill="#6a5a4a"/>
<rect x="188.0" y="147.8" width="1.1" height="1.7" fill="#3c322a"/>
<rect x="88.6" y="139.3" width="1.2" height="1.9" fill="#4c4036"/>
<rect x="17.3" y="140.7" width="1.1" height="1.7" fill="#4c4036"/>
<rect x="196.7" y="136.9" width="1.1" height="1.0" fill="#2e2520"/>
<rect x="84.2" y="158.7" width="1.2" height="1.7" fill="#9a8a76"/>
<rect x="121.8" y="162.3" width="1.0" height="1.5" fill="#4c4036"/>
<rect x="94.7" y="137.1" width="1.3" height="1.4" fill="#3c322a"/>
<rect x="54.7" y="134.1" width="1.6" height="1.3" fill="#9a8a76"/>
<rect x="54.3" y="148.7" width="1.4" height="1.8" fill="#9a8a76"/>
<rect x="157.6" y="164.3" width="1.2" height="1.7" fill="#2e2520"/>
<rect x="181.3" y="153.0" width="1.2" height="1.8" fill="#857460"/>
<rect x="237.3" y="139.5" width="1.6" height="1.6" fill="#9a8a76"/>
<rect x="132.3" y="144.5" width="1.8" height="1.2" fill="#4c4036"/>
<rect x="96.8" y="145.8" width="1.8" height="1.7" fill="#4c4036"/>
<rect x="213.2" y="143.4" width="1.0" height="1.2" fill="#6a5a4a"/>
<rect x="175.2" y="156.5" width="1.4" height="1.3" fill="#4c4036"/>
<rect x="20.4" y="138.1" width="1.4" height="1.2" fill="#2e2520"/>
<rect x="202.8" y="137.5" width="1.8" height="1.7" fill="#6a5a4a"/>
<rect x="110.4" y="138.1" width="1.8" height="1.4" fill="#2e2520"/>
<rect x="215.3" y="132.8" width="1.0" height="1.5" fill="#857460"/>
<rect x="130.6" y="164.2" width="1.8" height="1.1" fill="#6a5a4a"/>
<rect x="258.6" y="147.6" width="1.4" height="1.1" fill="#4c4036"/>
<rect x="147.6" y="148.3" width="1.0" height="1.7" fill="#6a5a4a"/>
<rect x="140.8" y="137.5" width="1.7" height="1.1" fill="#4c4036"/>
<rect x="120.7" y="136.4" width="1.9" height="1.0" fill="#6a5a4a"/>
<rect x="11.6" y="141.8" width="1.4" height="1.4" fill="#9a8a76"/>
<rect x="144.2" y="142.2" width="1.8" height="1.9" fill="#4c4036"/>
<rect x="73.3" y="148.4" width="1.4" height="1.1" fill="#4c4036"/>
<rect x="235.6" y="150.4" width="1.6" height="1.4" fill="#9a8a76"/>
<rect x="158.5" y="138.7" width="1.5" height="1.4" fill="#6a5a4a"/>
<rect x="131.2" y="146.6" width="1.7" height="1.4" fill="#9a8a76"/>
<rect x="64.6" y="163.4" width="1.4" height="1.7" fill="#857460"/>
<rect x="65.2" y="136.5" width="1.0" height="1.8" fill="#3c322a"/>
<rect x="137.5" y="132.9" width="1.3" height="1.1" fill="#857460"/>
<rect x="98.6" y="135.8" width="1.5" height="1.8" fill="#857460"/>
<rect x="80.2" y="159.6" width="1.5" height="1.1" fill="#4c4036"/>
<rect x="16.5" y="159.6" width="1.7" height="1.8" fill="#4c4036"/>
<rect x="92.6" y="137.9" width="1.7" height="1.1" fill="#2e2520"/>
<rect x="215.1" y="148.1" width="1.9" height="1.8" fill="#6a5a4a"/>
<rect x="42.4" y="161.0" width="1.2" height="1.6" fill="#9a8a76"/>
<rect x="107.0" y="144.5" width="1.3" height="1.6" fill="#9a8a76"/>
<rect x="211.9" y="154.1" width="1.4" height="1.8" fill="#6a5a4a"/>
<rect x="127.7" y="155.6" width="1.7" height="1.7" fill="#4c4036"/>
<rect x="135.1" y="162.1" width="1.5" height="1.0" fill="#4c4036"/>
<rect x="64.6" y="142.7" width="1.3" height="1.2" fill="#6a5a4a"/>
<rect x="81.7" y="142.5" width="1.5" height="1.3" fill="#6a5a4a"/>
<rect x="266.4" y="149.0" width="1.7" height="1.8" fill="#6a5a4a"/>
<rect x="146.3" y="162.2" width="1.8" height="1.8" fill="#2e2520"/>
<rect x="176.5" y="132.4" width="1.8" height="1.6" fill="#2e2520"/>
<rect x="183.8" y="144.2" width="1.2" height="1.5" fill="#3c322a"/>
<rect x="142.6" y="150.3" width="1.2" height="1.1" fill="#4c4036"/>
<rect x="97.6" y="152.5" width="1.5" height="1.4" fill="#9a8a76"/>
<rect x="60.9" y="157.2" width="1.8" height="1.2" fill="#6a5a4a"/>
<rect x="53.9" y="160.3" width="1.8" height="1.1" fill="#2e2520"/>
<rect x="65.6" y="139.9" width="1.7" height="1.4" fill="#3c322a"/>
<rect x="34.2" y="159.1" width="1.7" height="1.3" fill="#9a8a76"/>
<rect x="29.9" y="157.2" width="1.0" height="1.1" fill="#6a5a4a"/>
<rect x="147.9" y="143.1" width="1.0" height="1.3" fill="#6a5a4a"/>
<rect x="210.0" y="149.0" width="1.5" height="1.7" fill="#3c322a"/>
<rect x="144.7" y="160.5" width="1.3" height="1.3" fill="#857460"/>
<rect x="261.0" y="138.7" width="1.3" height="1.5" fill="#9a8a76"/>
<rect x="117.4" y="144.6" width="1.7" height="1.4" fill="#3c322a"/>
<rect x="13.3" y="162.3" width="1.5" height="1.8" fill="#857460"/>
<rect x="81.5" y="132.8" width="1.4" height="1.2" fill="#6a5a4a"/>
<rect x="88.0" y="149.6" width="1.9" height="1.5" fill="#9a8a76"/>
<rect x="84.6" y="164.7" width="1.9" height="1.2" fill="#857460"/>
<rect x="6.4" y="146.5" width="1.4" height="1.2" fill="#857460"/>
<rect x="108.9" y="135.0" width="1.4" height="1.9" fill="#3c322a"/>
<rect x="146.3" y="152.1" width="1.4" height="1.7" fill="#857460"/>
<rect x="230.9" y="132.6" width="1.4" height="1.5" fill="#9a8a76"/>
<rect x="188.0" y="165.3" width="1.7" height="1.0" fill="#6a5a4a"/>
<rect x="54.2" y="154.8" width="1.4" height="1.3" fill="#9a8a76"/>
<rect x="108.2" y="161.6" width="1.2" height="1.7" fill="#4c4036"/>
<rect x="9.3" y="155.2" width="1.2" height="1.4" fill="#3c322a"/>
<rect x="244.4" y="135.0" width="1.7" height="1.6" fill="#9a8a76"/>
<rect x="258.0" y="153.7" width="1.5" height="1.4" fill="#857460"/>
<rect x="39.9" y="132.7" width="1.2" height="1.4" fill="#4c4036"/>
<rect x="116.1" y="149.5" width="1.6" height="1.8" fill="#3c322a"/>
<rect x="189.3" y="140.3" width="1.0" height="1.1" fill="#2e2520"/>
<rect x="45.4" y="141.1" width="1.8" height="1.4" fill="#4c4036"/>
<rect x="117.6" y="161.7" width="1.3" height="1.4" fill="#6a5a4a"/>
<rect x="111.7" y="149.9" width="1.6" height="1.8" fill="#6a5a4a"/>
<rect x="77.5" y="156.8" width="1.9" height="1.2" fill="#4c4036"/>
<rect x="129.9" y="161.1" width="1.8" height="1.0" fill="#857460"/>
<rect x="176.1" y="140.4" width="1.9" height="1.8" fill="#2e2520"/>
<rect x="25.3" y="160.5" width="1.4" height="1.1" fill="#857460"/>
<rect x="80.5" y="158.3" width="1.4" height="1.1" fill="#9a8a76"/>
<rect x="88.4" y="137.9" width="1.6" height="1.1" fill="#3c322a"/>
<rect x="169.8" y="133.8" width="1.5" height="1.1" fill="#3c322a"/>
<rect x="14.9" y="162.6" width="1.6" height="1.7" fill="#4c4036"/>
<rect x="88.7" y="133.8" width="1.5" height="1.8" fill="#857460"/>
<rect x="153.1" y="154.6" width="1.9" height="1.5" fill="#857460"/>
<rect x="69.1" y="149.7" width="1.8" height="1.1" fill="#6a5a4a"/>
<rect x="227.2" y="132.9" width="1.2" height="1.5" fill="#4c4036"/>
<rect x="248.8" y="159.4" width="1.5" height="1.2" fill="#6a5a4a"/>
<rect x="77.3" y="135.5" width="1.6" height="1.2" fill="#3c322a"/>
<rect x="259.7" y="140.6" width="1.4" height="1.2" fill="#4c4036"/>
<rect x="51.7" y="142.1" width="1.8" height="1.1" fill="#857460"/>
<rect x="75.6" y="153.8" width="1.1" height="1.2" fill="#4c4036"/>
<rect x="7.8" y="132.3" width="1.3" height="1.3" fill="#6a5a4a"/>
<rect x="178.9" y="151.0" width="1.5" height="1.7" fill="#6a5a4a"/>
<rect x="189.8" y="163.7" width="1.5" height="1.6" fill="#3c322a"/>
<rect x="257.6" y="150.8" width="1.7" height="1.7" fill="#2e2520"/>
<rect x="198.4" y="149.0" width="1.9" height="1.4" fill="#857460"/>
<rect x="159.2" y="159.7" width="1.8" height="1.7" fill="#857460"/>
<rect x="36.5" y="161.7" width="1.9" height="1.2" fill="#2e2520"/>
<rect x="149.9" y="150.8" width="1.2" height="1.3" fill="#6a5a4a"/>
<rect x="5.5" y="155.2" width="1.6" height="1.8" fill="#6a5a4a"/>
<rect x="217.8" y="154.8" width="1.3" height="1.1" fill="#9a8a76"/>
<rect x="142.7" y="154.9" width="1.8" height="1.6" fill="#3c322a"/>
<rect x="7.9" y="159.0" width="1.8" height="1.2" fill="#857460"/>
<rect x="219.9" y="151.0" width="1.3" height="1.7" fill="#2e2520"/>
<rect x="42.0" y="161.8" width="1.7" height="1.2" fill="#4c4036"/>
<rect x="217.2" y="163.1" width="1.8" height="1.1" fill="#4c4036"/>
<rect x="220.9" y="159.6" width="1.7" height="1.4" fill="#2e2520"/>
<rect x="221.7" y="145.6" width="1.4" height="1.6" fill="#9a8a76"/>
<rect x="18.9" y="146.0" width="1.4" height="1.2" fill="#4c4036"/>
<rect x="192.2" y="139.6" width="1.7" height="1.5" fill="#3c322a"/>
<rect x="251.2" y="142.4" width="1.4" height="1.5" fill="#9a8a76"/>
<rect x="126.4" y="161.7" width="1.9" height="1.5" fill="#6a5a4a"/>
<rect x="229.3" y="146.1" width="1.9" height="1.8" fill="#2e2520"/>
<rect x="19.6" y="151.6" width="1.5" height="1.5" fill="#3c322a"/>
<rect x="209.3" y="141.4" width="1.2" height="1.6" fill="#9a8a76"/>
<path d="M0,124 Q8,119 16,130 Q24,127 32,135 Q42,130 50,134 Q60,128 68,135 L74,140 L74,170 L0,170 Z" fill="#3a2c26"/>
<path d="M0,124 Q6,119 11,125 L14,166 L0,166 Z" fill="#6a2a1e"/>
<circle cx="5" cy="123" r="2.5" fill="#a07a5a"/>
<path d="M13,137 Q18,130 24,136 L26,166 L11,166 Z" fill="#7a3424"/>
<circle cx="18.5" cy="134" r="2.2" fill="#a88060"/>
<path d="M24,142 Q29,136 34,142 L36,166 L22,166 Z" fill="#3a4a70"/>
<path d="M27,150 Q31,146 35,152 L36,166 L26,166 Z" fill="#6a80a8"/>
<circle cx="29" cy="139" r="2.2" fill="#c0a080"/>
<path d="M38,142 Q44,136 49,142 L51,166 L36,166 Z" fill="#5a2418"/>
<path d="M50,136 Q56,129 62,136 L63,166 L49,166 Z" fill="#6a2c20"/>
<circle cx="56" cy="132" r="2.2" fill="#a07a5a"/>
<rect x="39.4" y="152.5" width="1.5" height="2.0" fill="#5a3a2a"/>
<rect x="65.5" y="161.7" width="1.9" height="1.0" fill="#3a2a22"/>
<rect x="11.9" y="134.8" width="1.9" height="2.1" fill="#1e1614"/>
<rect x="29.7" y="164.3" width="1.1" height="1.3" fill="#8a5a40"/>
<rect x="69.0" y="158.7" width="1.9" height="1.4" fill="#2a2a3a"/>
<rect x="37.9" y="147.8" width="1.7" height="1.5" fill="#8a5a40"/>
<rect x="68.7" y="133.9" width="1.1" height="1.2" fill="#1e1614"/>
<rect x="56.1" y="134.0" width="1.6" height="1.6" fill="#3a2a22"/>
<rect x="13.8" y="130.4" width="2.0" height="2.2" fill="#5a3a2a"/>
<rect x="56.3" y="140.0" width="1.2" height="1.9" fill="#5a3a2a"/>
<rect x="48.4" y="162.4" width="1.4" height="1.6" fill="#8a5a40"/>
<rect x="39.7" y="145.2" width="1.6" height="1.1" fill="#5a3a2a"/>
<rect x="2.0" y="157.8" width="1.1" height="1.6" fill="#5a3a2a"/>
<rect x="5.5" y="150.8" width="1.8" height="1.4" fill="#2a2a3a"/>
<rect x="32.7" y="143.9" width="2.1" height="1.7" fill="#8a5a40"/>
<rect x="37.9" y="159.0" width="2.0" height="1.9" fill="#8a5a40"/>
<rect x="39.0" y="160.5" width="1.3" height="1.8" fill="#1e1614"/>
<rect x="43.4" y="154.2" width="1.6" height="1.6" fill="#1e1614"/>
<rect x="20.0" y="165.6" width="1.1" height="1.6" fill="#8a5a40"/>
<rect x="62.7" y="159.5" width="1.2" height="2.2" fill="#1e1614"/>
<rect x="13.2" y="161.0" width="1.6" height="1.0" fill="#2a2a3a"/>
<rect x="69.6" y="164.9" width="1.4" height="2.2" fill="#1e1614"/>
<rect x="26.5" y="135.2" width="1.4" height="2.0" fill="#3a2a22"/>
<rect x="14.5" y="142.7" width="1.0" height="1.4" fill="#5a3a2a"/>
<rect x="31.8" y="139.6" width="2.1" height="1.3" fill="#3a2a22"/>
<rect x="18.1" y="143.2" width="1.1" height="2.0" fill="#3a2a22"/>
<rect x="8.3" y="160.0" width="2.2" height="1.4" fill="#1e1614"/>
<rect x="32.7" y="150.9" width="1.1" height="2.1" fill="#1e1614"/>
<rect x="17.2" y="160.2" width="1.2" height="1.6" fill="#5a3a2a"/>
<rect x="58.2" y="161.0" width="1.2" height="1.8" fill="#8a5a40"/>
<rect x="1.1" y="134.1" width="1.9" height="1.5" fill="#2a2a3a"/>
<rect x="15.4" y="157.7" width="1.6" height="1.3" fill="#5a3a2a"/>
<rect x="52.6" y="156.3" width="1.6" height="1.7" fill="#5a3a2a"/>
<rect x="65.2" y="141.7" width="1.2" height="1.1" fill="#2a2a3a"/>
<rect x="40.5" y="155.6" width="1.6" height="1.9" fill="#5a3a2a"/>
<rect x="42.8" y="150.4" width="1.9" height="1.2" fill="#8a5a40"/>
<rect x="28.3" y="161.9" width="1.0" height="1.2" fill="#2a2a3a"/>
<rect x="33.1" y="141.2" width="2.1" height="2.1" fill="#2a2a3a"/>
<rect x="42.2" y="135.5" width="1.7" height="1.3" fill="#1e1614"/>
<rect x="49.4" y="137.3" width="1.9" height="1.3" fill="#1e1614"/>
<rect x="43.6" y="131.3" width="1.7" height="2.2" fill="#5a3a2a"/>
<rect x="47.8" y="140.4" width="1.2" height="1.3" fill="#2a2a3a"/>
<rect x="65.5" y="164.0" width="2.0" height="2.0" fill="#3a2a22"/>
<rect x="8.9" y="165.6" width="1.4" height="1.5" fill="#2a2a3a"/>
<rect x="23.7" y="151.4" width="1.3" height="1.3" fill="#5a3a2a"/>
<rect x="7.4" y="161.4" width="2.0" height="1.9" fill="#3a2a22"/>
<rect x="1.0" y="150.4" width="2.2" height="2.0" fill="#1e1614"/>
<rect x="14.7" y="145.9" width="1.1" height="1.8" fill="#1e1614"/>
<rect x="60.8" y="160.9" width="2.1" height="1.7" fill="#5a3a2a"/>
<rect x="62.2" y="138.0" width="1.5" height="1.0" fill="#8a5a40"/>
<rect x="30.5" y="133.0" width="2.0" height="1.4" fill="#3a2a22"/>
<rect x="36.1" y="142.3" width="1.8" height="2.2" fill="#2a2a3a"/>
<rect x="44.3" y="152.8" width="1.1" height="1.2" fill="#8a5a40"/>
<rect x="50.6" y="162.2" width="1.7" height="1.9" fill="#3a2a22"/>
<rect x="40.3" y="135.3" width="1.1" height="2.0" fill="#8a5a40"/>
<rect x="16.2" y="152.8" width="1.3" height="1.4" fill="#5a3a2a"/>
<rect x="27.3" y="165.8" width="2.1" height="1.9" fill="#2a2a3a"/>
<rect x="59.4" y="133.1" width="2.0" height="1.3" fill="#3a2a22"/>
<rect x="57.3" y="158.1" width="1.4" height="1.3" fill="#5a3a2a"/>
<rect x="51.5" y="156.5" width="1.1" height="1.6" fill="#5a3a2a"/>
<rect x="2.8" y="158.1" width="1.9" height="2.0" fill="#2a2a3a"/>
<rect x="52.2" y="152.8" width="1.4" height="2.1" fill="#8a5a40"/>
<rect x="53.7" y="136.6" width="1.5" height="1.8" fill="#1e1614"/>
<rect x="62.1" y="139.5" width="1.5" height="1.6" fill="#8a5a40"/>
<rect x="48.2" y="147.9" width="1.2" height="1.3" fill="#8a5a40"/>
<rect x="61.6" y="162.1" width="1.6" height="2.1" fill="#1e1614"/>
<rect x="0.7" y="151.3" width="2.1" height="1.4" fill="#5a3a2a"/>
<rect x="23.4" y="158.9" width="1.9" height="1.8" fill="#1e1614"/>
<rect x="41.8" y="162.3" width="1.6" height="1.7" fill="#8a5a40"/>
<rect x="2.0" y="149.3" width="1.3" height="1.5" fill="#1e1614"/>
<rect x="6.3" y="153.0" width="1.1" height="1.6" fill="#3a2a22"/>
<rect x="15.2" y="158.2" width="1.8" height="1.7" fill="#2a2a3a"/>
<rect x="8.4" y="139.1" width="1.9" height="1.1" fill="#2a2a3a"/>
<rect x="28.8" y="137.6" width="1.9" height="1.5" fill="#5a3a2a"/>
<rect x="43.9" y="141.0" width="1.9" height="1.5" fill="#3a2a22"/>
<rect x="30.5" y="151.2" width="1.1" height="1.2" fill="#2a2a3a"/>
<rect x="44.2" y="141.5" width="2.0" height="1.3" fill="#8a5a40"/>
<rect x="12.6" y="131.5" width="1.7" height="2.1" fill="#3a2a22"/>
<rect x="66.1" y="137.3" width="1.1" height="1.1" fill="#8a5a40"/>
<rect x="32.7" y="158.1" width="1.3" height="1.5" fill="#3a2a22"/>
<rect x="17.8" y="142.8" width="1.6" height="1.3" fill="#2a2a3a"/>
<rect x="59.5" y="162.4" width="2.1" height="1.3" fill="#8a5a40"/>
<rect x="34.2" y="142.6" width="1.1" height="1.7" fill="#1e1614"/>
<rect x="26.7" y="139.2" width="2.0" height="1.2" fill="#2a2a3a"/>
<rect x="55.7" y="142.9" width="2.0" height="2.1" fill="#1e1614"/>
<rect x="23.6" y="154.1" width="2.0" height="2.0" fill="#5a3a2a"/>
<rect x="8.7" y="139.7" width="1.8" height="1.8" fill="#8a5a40"/>
<rect x="37.5" y="149.1" width="1.2" height="1.8" fill="#2a2a3a"/>
<rect x="22.7" y="131.3" width="2.1" height="1.1" fill="#5a3a2a"/>
<rect x="63.2" y="135.7" width="1.2" height="1.5" fill="#8a5a40"/>
<rect x="51.5" y="163.4" width="1.3" height="1.9" fill="#3a2a22"/>
<rect x="4.1" y="150.4" width="1.7" height="2.2" fill="#2a2a3a"/>
<rect x="26.5" y="138.5" width="1.3" height="1.4" fill="#3a2a22"/>
<rect x="24.6" y="164.5" width="1.2" height="1.2" fill="#8a5a40"/>
<rect x="35.3" y="162.7" width="1.4" height="1.9" fill="#8a5a40"/>
<rect x="25.6" y="137.8" width="2.1" height="1.9" fill="#8a5a40"/>
<rect x="44.8" y="140.4" width="1.0" height="2.1" fill="#5a3a2a"/>
<rect x="45.5" y="159.6" width="1.5" height="1.3" fill="#5a3a2a"/>
<rect x="11.0" y="156.7" width="2.1" height="1.8" fill="#5a3a2a"/>
<rect x="48.2" y="156.7" width="1.7" height="1.2" fill="#5a3a2a"/>
<rect x="9.1" y="148.0" width="1.9" height="1.3" fill="#2a2a3a"/>
<rect x="17.2" y="139.9" width="1.2" height="1.5" fill="#1e1614"/>
<rect x="38.6" y="141.6" width="1.2" height="1.3" fill="#3a2a22"/>
<rect x="54.1" y="149.5" width="1.2" height="2.2" fill="#3a2a22"/>
<rect x="3.0" y="154.1" width="1.6" height="1.5" fill="#2a2a3a"/>
<rect x="65.8" y="132.1" width="1.3" height="1.2" fill="#5a3a2a"/>
<rect x="59.4" y="151.0" width="1.4" height="1.0" fill="#3a2a22"/>
<rect x="69.3" y="165.6" width="1.2" height="1.2" fill="#1e1614"/>
<rect x="67.3" y="158.8" width="1.6" height="1.9" fill="#5a3a2a"/>
<rect x="12.7" y="144.3" width="1.7" height="1.2" fill="#1e1614"/>
<rect x="10.9" y="139.6" width="1.2" height="1.4" fill="#5a3a2a"/>
<rect x="33.1" y="145.6" width="1.7" height="2.0" fill="#8a5a40"/>
<rect x="6.1" y="157.5" width="1.6" height="1.7" fill="#2a2a3a"/>
<rect x="66.9" y="140.9" width="2.2" height="1.6" fill="#8a5a40"/>
<rect x="6.7" y="144.2" width="1.8" height="1.2" fill="#8a5a40"/>
<rect x="40.2" y="150.4" width="1.2" height="1.3" fill="#5a3a2a"/>
<rect x="54.3" y="141.4" width="1.4" height="1.7" fill="#8a5a40"/>
<rect x="67.7" y="152.2" width="1.4" height="1.4" fill="#8a5a40"/>
<rect x="14.9" y="134.5" width="1.6" height="1.2" fill="#3a2a22"/>
<rect x="61.7" y="136.9" width="1.6" height="1.7" fill="#3a2a22"/>
<rect x="251" y="0" width="16" height="170" fill="url(#rw)"/>
<rect x="252" y="4" width="15" height="2.2" fill="#95846e"/>
<rect x="252" y="10" width="15" height="2.2" fill="#95846e"/>
<rect x="252" y="16" width="15" height="2.2" fill="#95846e"/>
<rect x="252" y="22" width="15" height="2.2" fill="#95846e"/>
<rect x="252" y="28" width="15" height="2.2" fill="#95846e"/>
<rect x="252" y="34" width="15" height="2.2" fill="#95846e"/>
<rect x="252" y="40" width="15" height="2.2" fill="#95846e"/>
<rect x="252" y="46" width="15" height="2.2" fill="#95846e"/>
<rect x="252" y="52" width="15" height="2.2" fill="#95846e"/>
<rect x="252" y="58" width="15" height="2.2" fill="#95846e"/>
<rect x="252" y="64" width="15" height="2.2" fill="#95846e"/>
<rect x="252" y="70" width="15" height="2.2" fill="#95846e"/>
<rect x="252" y="76" width="15" height="2.2" fill="#95846e"/>
<rect x="252" y="82" width="15" height="2.2" fill="#95846e"/>
<rect x="252" y="88" width="15" height="2.2" fill="#95846e"/>
<rect x="252" y="94" width="15" height="2.2" fill="#95846e"/>
<rect x="252" y="100" width="15" height="2.2" fill="#95846e"/>
<rect x="252" y="106" width="15" height="2.2" fill="#95846e"/>
<rect x="252" y="112" width="15" height="2.2" fill="#95846e"/>
<rect x="252" y="118" width="15" height="2.2" fill="#95846e"/>
<rect x="252" y="124" width="15" height="2.2" fill="#95846e"/>
<rect x="242" y="12" width="10" height="123" fill="url(#col)"/>
<rect x="240" y="8" width="14" height="5" fill="#d8ccb4"/>
<path d="M236,143 Q240,135 245,143 L246,165 L234,165 Z" fill="#44587a"/>
<circle cx="240.5" cy="139" r="2.2" fill="#b89878"/>
<path d="M245,141 Q250,134 255,141 L256,165 L243,165 Z" fill="#8a4034"/>
<path d="M256,136 Q261,130 267,136 L267,165 L254,165 Z" fill="#34503a"/>
<circle cx="261" cy="133" r="2.2" fill="#a88868"/>
<rect x="0" y="167" width="72" height="3" fill="#c04a34"/>
<rect x="212" y="167" width="55" height="3" fill="#b04834"/>
</svg></div>
<div class="a" style="left:469.2px;top:296px;width:13.800000000000011px;height:13.5px;border:1.6px solid #cf2a92;background:#fff;color:#c8309c;font-weight:bold;font-size:10.5px;line-height:10.3px;text-align:center;-webkit-text-stroke:0.3px #c8309c">1</div>
<div class="a" style="left:483px;top:325.6px;width:14px;height:14.099999999999966px;border:1.6px solid #40c834;background:#fff;color:#3db834;font-weight:bold;font-size:10.5px;line-height:10.899999999999967px;text-align:center;-webkit-text-stroke:0.3px #3db834">3</div>
<div class="a" style="left:588.4px;top:303.2px;width:13.800000000000068px;height:13.800000000000011px;border:1.6px solid #2689f0;background:#fff;color:#2c8aea;font-weight:bold;font-size:10.5px;line-height:10.600000000000012px;text-align:center;-webkit-text-stroke:0.3px #2c8aea">2</div>
<div class="a" style="left:560.7px;top:264px;width:22.3px;height:15.6px;background:#ee4a1e;border:1px solid #f4d0c4"></div>
<div class="a" style="top:267.68px;font-size:10.3px;line-height:10.3px;font-weight:bold;font-style:normal;color:#fff;font-family:'Liberation Sans',sans-serif;white-space:nowrap;left:421.90px;width:300px;text-align:center;transform:rotate(0.55deg);transform-origin:150px 0;">Roi</div>
<div class="a" style="top:360.05px;font-size:7.5px;line-height:7.5px;font-weight:bold;font-style:italic;color:#1e1b1d;font-family:'Liberation Sans',sans-serif;white-space:nowrap;left:358.30px;width:300px;text-align:center;transform:rotate(0.55deg) scaleX(0.89);transform-origin:150px 0;-webkit-text-stroke:0.2px #1e1b1d;">Assemblée des États généraux à Versailles, le 5 mai 1789</div>
<svg class="a" style="left:110px;top:527px" width="17" height="30"><polygon points="8.3,0.4 16.6,8.8 16.6,29 0,29 0,8.8" fill="#f7b428"/></svg>
<div class="a" style="top:544.23px;font-size:10px;line-height:10px;font-weight:bold;font-style:normal;color:#fff;font-family:'Liberation Sans',sans-serif;white-space:nowrap;left:-31.50px;width:300px;text-align:center;transform:rotate(0.55deg);transform-origin:150px 0;">1</div>
<div class="a" style="top:543.39px;font-size:11px;line-height:11px;font-weight:bold;font-style:normal;color:#1f1c1e;font-family:'Liberation Sans',sans-serif;white-space:nowrap;left:131.60px;transform:rotate(0.55deg) scaleX(0.875);transform-origin:0 0;">La rédaction des cahiers de doléances et les élections aux États généraux (mars-mai 1789).</div>
</div></body></html>
